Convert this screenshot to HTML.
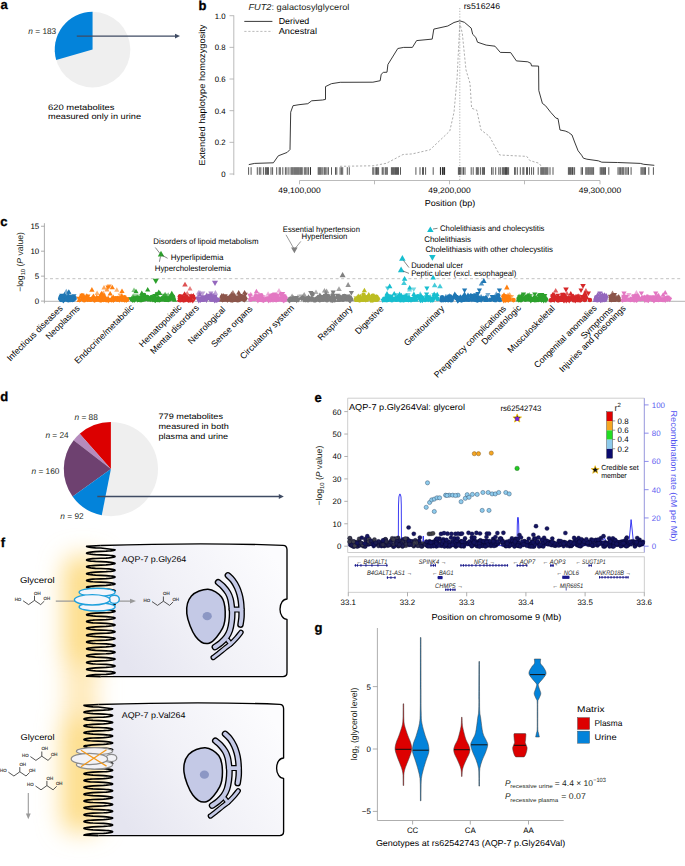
<!DOCTYPE html>
<html><head><meta charset="utf-8"><style>
html,body{margin:0;padding:0;background:#fff;overflow:hidden;width:685px;height:866px;}
svg{display:block;font-family:"Liberation Sans", sans-serif;text-rendering:geometricPrecision;}
</style></head><body>
<svg width="685" height="866" viewBox="0 0 685 866">
<defs>
<filter id="glow" x="-100%" y="-30%" width="300%" height="160%"><feGaussianBlur stdDeviation="12"/></filter>
<linearGradient id="cellg" x1="0" y1="0.75" x2="1" y2="0.25"><stop offset="0" stop-color="#e5e5f0"/><stop offset="0.45" stop-color="#f1f1f7"/><stop offset="1" stop-color="#fcfcfe"/></linearGradient>
</defs>
<rect width="685" height="866" fill="#fff"/>
<text x="0.4" y="9.3" font-size="13" font-weight="bold" fill="#000" stroke="#000" stroke-width="0.3">a</text>
<circle cx="92.55" cy="49.6" r="37.8" fill="#efefef"/>
<path d="M92.55,49.60 L92.55,11.80 A37.8,37.8 0 0 0 56.18,59.89 Z" fill="#0383da"/>
<text x="28.3" y="33.6" font-size="8.3" fill="#231f20"><tspan font-style="italic">n</tspan> = 183</text>
<line x1="76.80" y1="36.10" x2="175.50" y2="36.10" stroke="#3f4b63" stroke-width="1.3"/>
<path d="M175.0,33.7 L180.0,36.1 L175.0,38.5 Z" fill="#3f4b63"/>
<text x="48.0" y="109.6" font-size="7.9" textLength="66.5" lengthAdjust="spacingAndGlyphs">620 metabolites</text>
<text x="48.0" y="119.1" font-size="7.9" textLength="93.0" lengthAdjust="spacingAndGlyphs">measured only in urine</text>
<text x="198.4" y="9.7" font-size="13" font-weight="bold" fill="#000" stroke="#000" stroke-width="0.3">b</text>
<text x="248.4" y="9.6" font-size="8.6" fill="#231f20" textLength="101" lengthAdjust="spacingAndGlyphs"><tspan font-style="italic">FUT2</tspan>: galactosylglycerol</text>
<line x1="244.30" y1="21.40" x2="272.40" y2="21.40" stroke="#222" stroke-width="0.9"/>
<text x="278.7" y="23.9" font-size="8.6" textLength="30.6" lengthAdjust="spacingAndGlyphs">Derived</text>
<line x1="244.30" y1="31.40" x2="272.40" y2="31.40" stroke="#aaa" stroke-width="0.8" stroke-dasharray="2.2,1.8"/>
<text x="278.7" y="34.0" font-size="8.6" textLength="38.3" lengthAdjust="spacingAndGlyphs">Ancestral</text>
<line x1="233.80" y1="15.40" x2="233.80" y2="175.10" stroke="#aaa" stroke-width="0.8"/>
<line x1="229.50" y1="15.70" x2="233.80" y2="15.70" stroke="#aaa" stroke-width="0.8"/>
<text x="225.6" y="18.6" font-size="7.8" text-anchor="end">1.0</text>
<line x1="229.50" y1="47.36" x2="233.80" y2="47.36" stroke="#aaa" stroke-width="0.8"/>
<text x="225.6" y="50.3" font-size="7.8" text-anchor="end">0.8</text>
<line x1="229.50" y1="79.02" x2="233.80" y2="79.02" stroke="#aaa" stroke-width="0.8"/>
<text x="225.6" y="81.9" font-size="7.8" text-anchor="end">0.6</text>
<line x1="229.50" y1="110.68" x2="233.80" y2="110.68" stroke="#aaa" stroke-width="0.8"/>
<text x="225.6" y="113.6" font-size="7.8" text-anchor="end">0.4</text>
<line x1="229.50" y1="142.34" x2="233.80" y2="142.34" stroke="#aaa" stroke-width="0.8"/>
<text x="225.6" y="145.2" font-size="7.8" text-anchor="end">0.2</text>
<line x1="229.50" y1="174.00" x2="233.80" y2="174.00" stroke="#aaa" stroke-width="0.8"/>
<text x="225.6" y="176.9" font-size="7.8" text-anchor="end">0</text>
<text x="0" y="0" font-size="8.6" text-anchor="middle" textLength="141.0" lengthAdjust="spacingAndGlyphs" transform="translate(205.1,95.0) rotate(-90)">Extended haplotype homozygosity</text>
<line x1="299.50" y1="180.50" x2="600.00" y2="180.50" stroke="#aaa" stroke-width="0.8"/>
<line x1="299.50" y1="180.50" x2="299.50" y2="184.30" stroke="#aaa" stroke-width="0.8"/>
<line x1="374.50" y1="180.50" x2="374.50" y2="184.30" stroke="#aaa" stroke-width="0.8"/>
<line x1="449.50" y1="180.50" x2="449.50" y2="184.30" stroke="#aaa" stroke-width="0.8"/>
<line x1="524.50" y1="180.50" x2="524.50" y2="184.30" stroke="#aaa" stroke-width="0.8"/>
<line x1="600.00" y1="180.50" x2="600.00" y2="184.30" stroke="#aaa" stroke-width="0.8"/>
<text x="299.5" y="193.2" font-size="7.9" text-anchor="middle" textLength="42.4" lengthAdjust="spacingAndGlyphs">49,100,000</text>
<text x="449.5" y="193.2" font-size="7.9" text-anchor="middle" textLength="42.4" lengthAdjust="spacingAndGlyphs">49,200,000</text>
<text x="600.0" y="193.2" font-size="7.9" text-anchor="middle" textLength="42.4" lengthAdjust="spacingAndGlyphs">49,300,000</text>
<text x="424.8" y="206.3" font-size="8.6" textLength="50.5" lengthAdjust="spacingAndGlyphs">Position (bp)</text>
<line x1="459.80" y1="8.00" x2="459.80" y2="180.00" stroke="#aaa" stroke-width="0.9" stroke-dasharray="1.2,1.6"/>
<text x="463.7" y="8.6" font-size="8.4" textLength="36.4" lengthAdjust="spacingAndGlyphs">rs516246</text>
<path d="M248.8,164.6 L254.7,163.4 L273.4,162.8 L278.3,155.8 L287.2,152.4 L290.0,149.5 L290.7,112.2 L293.0,105.7 L299.0,104.7 L307.8,103.7 L311.7,100.8 L322.5,100.0 L325.5,99.4 L325.5,86.6 L331.4,83.7 L340.2,82.3 L372.9,82.2 L380.2,80.7 L381.2,74.3 L383.3,72.4 L387.0,72.2 L387.9,64.5 L397.8,48.5 L403.7,47.4 L412.4,47.4 L416.6,40.6 L432.2,39.1 L433.8,29.1 L447.8,26.0 L454.0,22.5 L459.8,20.8 L464.4,22.3 L471.2,28.1 L472.7,34.3 L475.8,37.4 L477.5,42.2 L486.2,45.1 L495.0,46.2 L500.3,52.4 L510.7,52.6 L516.4,60.9 L527.8,61.8 L530.9,63.4 L531.5,65.9 L538.6,66.1 L538.8,90.5 L542.4,103.4 L545.5,105.7 L550.7,112.3 L555.9,118.1 L558.0,118.6 L560.0,130.0 L565.2,131.0 L568.5,132.4 L572.0,135.0 L574.6,142.0 L578.1,150.8 L581.6,155.2 L583.4,158.2 L586.9,159.2 L598.3,160.8 L601.8,162.2 L617.6,162.5 L640.3,163.4 L643.8,164.3 L654.3,165.3" fill="none" stroke="#222" stroke-width="0.9" stroke-linejoin="round"/>
<path d="M340.0,166.3 L372.9,165.8 L386.4,163.3 L403.0,154.5 L412.4,153.9 L430.0,149.8 L449.8,131.0 L454.0,112.3 L457.1,78.0 L459.8,22.9 L462.3,33.3 L466.0,70.0 L470.0,83.2 L471.6,108.2 L476.8,110.2 L481.0,130.0 L489.3,136.2 L499.7,155.0 L526.8,156.4 L529.9,160.6 L539.2,163.3 L541.0,166.0" fill="none" stroke="#999" stroke-width="0.8" stroke-linejoin="round" stroke-dasharray="2.2,1.8"/>
<path d="M248.6,167.2V174.8M251.1,167.2V174.8M257.3,167.2V174.8M259.3,167.2V174.8M260.8,167.2V174.8M263.4,167.2V174.8M265.4,167.2V174.8M266.4,167.2V174.8M267.5,167.2V174.8M268.5,167.2V174.8M271.0,167.2V174.8M272.6,167.2V174.8M276.7,167.2V174.8M279.2,167.2V174.8M280.3,167.2V174.8M282.8,167.2V174.8M285.4,167.2V174.8M286.9,167.2V174.8M288.9,167.2V174.8M291.0,167.2V174.8M292.0,167.2V174.8M293.0,167.2V174.8M294.1,167.2V174.8M295.1,167.2V174.8M296.1,167.2V174.8M297.1,167.2V174.8M298.1,167.2V174.8M299.1,167.2V174.8M300.2,167.2V174.8M301.2,167.2V174.8M302.2,167.2V174.8M304.3,167.2V174.8M305.7,167.2V174.8M307.0,167.2V174.8M308.4,167.2V174.8M310.4,167.2V174.8M310.5,167.2V174.8M318.2,167.2V174.8M319.2,167.2V174.8M320.2,167.2V174.8M321.2,167.2V174.8M322.8,167.2V174.8M324.3,167.2V174.8M325.3,167.2V174.8M326.9,167.2V174.8M328.4,167.2V174.8M331.5,167.2V174.8M335.5,167.2V174.8M336.8,167.2V174.8M340.1,167.2V174.8M341.4,167.2V174.8M342.7,167.2V174.8M347.3,167.2V174.8M349.3,167.2V174.8M372.8,167.2V174.8M373.9,167.2V174.8M375.9,167.2V174.8M377.4,167.2V174.8M376.3,167.2V174.8M378.6,167.2V174.8M382.2,167.2V174.8M383.2,167.2V174.8M385.2,167.2V174.8M386.2,167.2V174.8M387.3,167.2V174.8M391.4,167.2V174.8M392.4,167.2V174.8M393.4,167.2V174.8M394.4,167.2V174.8M395.5,167.2V174.8M396.5,167.2V174.8M397.5,167.2V174.8M398.5,167.2V174.8M400.5,167.2V174.8M415.9,167.2V174.8M420.0,167.2V174.8M422.5,167.2V174.8M423.5,167.2V174.8M425.6,167.2V174.8M433.2,167.2V174.8M440.4,167.2V174.8M442.4,167.2V174.8M443.4,167.2V174.8M444.5,167.2V174.8M440.5,167.2V174.8M442.6,167.2V174.8M444.6,167.2V174.8M458.4,167.2V174.8M459.4,167.2V174.8M460.4,167.2V174.8M462.0,167.2V174.8M463.5,167.2V174.8M465.0,167.2V174.8M471.2,167.2V174.8M473.2,167.2V174.8M476.3,167.2V174.8M477.3,167.2V174.8M478.3,167.2V174.8M480.4,167.2V174.8M482.4,167.2V174.8M483.4,167.2V174.8M484.5,167.2V174.8M491.6,167.2V174.8M493.1,167.2V174.8M495.7,167.2V174.8M498.8,167.2V174.8M500.3,167.2V174.8M502.3,167.2V174.8M503.3,167.2V174.8M504.3,167.2V174.8M505.4,167.2V174.8M506.4,167.2V174.8M507.4,167.2V174.8M506.0,167.2V174.8M508.6,167.2V174.8M514.7,167.2V174.8M515.2,167.2V174.8M517.3,167.2V174.8M520.3,167.2V174.8M522.9,167.2V174.8M523.9,167.2V174.8M526.5,167.2V174.8M527.5,167.2V174.8M529.5,167.2V174.8M531.6,167.2V174.8M533.6,167.2V174.8M538.2,167.2V174.8M540.8,167.2V174.8M541.8,167.2V174.8M542.8,167.2V174.8M543.8,167.2V174.8M544.9,167.2V174.8M545.9,167.2V174.8M546.9,167.2V174.8M547.9,167.2V174.8M550.0,167.2V174.8M553.0,167.2V174.8M568.4,167.2V174.8M569.4,167.2V174.8M570.4,167.2V174.8M573.0,167.2V174.8M571.3,167.2V174.8M572.6,167.2V174.8M574.6,167.2V174.8M581.2,167.2V174.8M582.5,167.2V174.8M585.8,167.2V174.8M586.9,167.2V174.8M588.0,167.2V174.8M589.0,167.2V174.8M590.1,167.2V174.8M591.2,167.2V174.8M592.3,167.2V174.8M593.6,167.2V174.8M600.2,167.2V174.8M601.3,167.2V174.8M602.3,167.2V174.8M603.4,167.2V174.8M604.4,167.2V174.8M605.5,167.2V174.8M608.8,167.2V174.8M618.0,167.2V174.8M619.3,167.2V174.8M620.6,167.2V174.8M621.9,167.2V174.8M622.9,167.2V174.8M623.9,167.2V174.8M625.8,167.2V174.8M627.1,167.2V174.8M628.5,167.2V174.8M631.1,167.2V174.8M641.0,167.2V174.8M642.1,167.2V174.8M643.2,167.2V174.8M644.4,167.2V174.8M645.5,167.2V174.8M648.8,167.2V174.8M653.4,167.2V174.8" stroke="#111" stroke-width="0.7" fill="none"/>
<text x="0.2" y="225.7" font-size="13" font-weight="bold" fill="#000" stroke="#000" stroke-width="0.3">c</text>
<line x1="44.40" y1="223.20" x2="44.40" y2="303.30" stroke="#999" stroke-width="0.8"/>
<line x1="41.00" y1="226.25" x2="44.40" y2="226.25" stroke="#999" stroke-width="0.8"/>
<text x="39.2" y="229.2" font-size="7.9" text-anchor="end">15</text>
<line x1="41.00" y1="251.20" x2="44.40" y2="251.20" stroke="#999" stroke-width="0.8"/>
<text x="39.2" y="254.1" font-size="7.9" text-anchor="end">10</text>
<line x1="41.00" y1="276.15" x2="44.40" y2="276.15" stroke="#999" stroke-width="0.8"/>
<text x="39.2" y="279.1" font-size="7.9" text-anchor="end">5</text>
<line x1="41.00" y1="301.10" x2="44.40" y2="301.10" stroke="#999" stroke-width="0.8"/>
<text x="39.2" y="304.0" font-size="7.9" text-anchor="end">0</text>
<text x="0" y="0" font-size="8.6" text-anchor="middle" fill="#231f20" transform="translate(23.3,262) rotate(-90)">−log<tspan font-size="5.8" dy="2">10</tspan><tspan dy="-2"> (</tspan><tspan font-style="italic">P</tspan> value)</text>
<line x1="44.40" y1="301.30" x2="685.00" y2="301.30" stroke="#aaa" stroke-width="0.9"/>
<line x1="44.40" y1="278.70" x2="681.00" y2="278.70" stroke="#bbb" stroke-width="0.9" stroke-dasharray="3,2.6"/>
<path d="M63.7,293.6L68.9,293.6L66.3,298.2Z" fill="#1f77b4" fill-opacity="0.60"/>
<path d="M63.7,293.3L68.9,293.3L66.3,288.8Z" fill="#1f77b4" fill-opacity="0.60"/>
<path d="M66.3,294.4L71.5,294.4L68.9,289.9Z" fill="#1f77b4" fill-opacity="0.75"/>
<path d="M59.2,293.8L64.4,293.8L61.8,298.3Z" fill="#1f77b4"/>
<path d="M65.8,297.6L71.0,297.6L68.4,293.1Z" fill="#1f77b4"/>
<path d="M66.2,293.8L71.4,293.8L68.8,289.3Z" fill="#1f77b4"/>
<path d="M59.9,298.3L65.1,298.3L62.5,293.8Z" fill="#1f77b4" fill-opacity="0.60"/>
<path d="M61.9,296.4L67.1,296.4L64.5,291.9Z" fill="#1f77b4"/>
<circle cx="69.2" cy="297.3" r="2.3" fill="#1f77b4"/>
<path d="M61.0,299.2L66.0,299.2L63.5,303.5Z" fill="#1f77b4"/>
<circle cx="72.3" cy="299.9" r="2.3" fill="#1f77b4"/>
<circle cx="63.7" cy="298.6" r="2.3" fill="#1f77b4"/>
<circle cx="71.2" cy="297.1" r="2.3" fill="#1f77b4"/>
<path d="M71.6,299.7L76.6,299.7L74.1,295.4Z" fill="#1f77b4"/>
<path d="M60.0,300.1L65.0,300.1L62.5,295.8Z" fill="#1f77b4"/>
<path d="M57.8,297.9L62.8,297.9L60.3,302.3Z" fill="#1f77b4"/>
<path d="M60.9,297.6L65.9,297.6L63.4,301.9Z" fill="#1f77b4"/>
<circle cx="61.0" cy="299.4" r="2.3" fill="#1f77b4"/>
<circle cx="60.8" cy="296.9" r="2.3" fill="#1f77b4"/>
<circle cx="67.9" cy="299.0" r="2.3" fill="#1f77b4"/>
<path d="M59.7,302.0L64.7,302.0L62.2,297.6Z" fill="#1f77b4"/>
<circle cx="65.8" cy="299.2" r="2.3" fill="#1f77b4"/>
<circle cx="63.4" cy="296.6" r="2.3" fill="#1f77b4"/>
<circle cx="73.0" cy="299.7" r="2.3" fill="#1f77b4"/>
<circle cx="65.4" cy="298.5" r="2.3" fill="#1f77b4"/>
<circle cx="74.6" cy="298.0" r="2.3" fill="#1f77b4"/>
<circle cx="63.2" cy="300.1" r="2.3" fill="#1f77b4"/>
<circle cx="60.3" cy="298.5" r="2.3" fill="#1f77b4"/>
<circle cx="68.3" cy="300.2" r="2.3" fill="#1f77b4"/>
<path d="M63.8,299.3L68.8,299.3L66.3,294.9Z" fill="#1f77b4"/>
<circle cx="68.2" cy="299.5" r="2.3" fill="#1f77b4"/>
<path d="M70.9,301.1L75.9,301.1L73.4,296.8Z" fill="#1f77b4"/>
<circle cx="62.2" cy="300.0" r="2.3" fill="#1f77b4"/>
<path d="M71.5,294.2L76.5,294.2L74.0,298.6Z" fill="#1f77b4"/>
<path d="M63.3,301.6L68.3,301.6L65.8,297.3Z" fill="#1f77b4"/>
<circle cx="70.2" cy="300.0" r="2.3" fill="#1f77b4"/>
<circle cx="72.0" cy="298.9" r="2.3" fill="#1f77b4"/>
<text x="0" y="0" font-size="8.8" text-anchor="end" transform="translate(63.3,308.8) rotate(-45)">Infectious diseases</text>
<path d="M110.6,298.9L115.8,298.9L113.2,294.4Z" fill="#ff7f0e"/>
<path d="M89.3,291.7L94.5,291.7L91.9,287.1Z" fill="#ff7f0e"/>
<path d="M79.1,297.5L84.3,297.5L81.7,293.0Z" fill="#ff7f0e"/>
<path d="M84.2,297.7L89.4,297.7L86.8,293.2Z" fill="#ff7f0e"/>
<path d="M80.2,298.7L85.4,298.7L82.8,294.1Z" fill="#ff7f0e" fill-opacity="0.75"/>
<path d="M107.6,295.6L112.8,295.6L110.2,291.1Z" fill="#ff7f0e"/>
<path d="M104.3,291.4L109.5,291.4L106.9,286.9Z" fill="#ff7f0e" fill-opacity="0.75"/>
<path d="M109.7,289.3L114.9,289.3L112.3,284.7Z" fill="#ff7f0e"/>
<path d="M99.1,295.2L104.3,295.2L101.7,290.7Z" fill="#ff7f0e"/>
<path d="M79.4,293.7L84.6,293.7L82.0,298.3Z" fill="#ff7f0e"/>
<path d="M114.2,291.7L119.4,291.7L116.8,287.2Z" fill="#ff7f0e" fill-opacity="0.60"/>
<path d="M119.4,293.0L124.6,293.0L122.0,288.5Z" fill="#ff7f0e"/>
<path d="M117.6,293.6L122.8,293.6L120.2,298.1Z" fill="#ff7f0e" fill-opacity="0.60"/>
<path d="M94.1,299.1L99.3,299.1L96.7,294.6Z" fill="#ff7f0e"/>
<path d="M106.7,284.6L111.9,284.6L109.3,289.1Z" fill="#ff7f0e" fill-opacity="0.75"/>
<path d="M94.5,295.1L99.7,295.1L97.1,290.6Z" fill="#ff7f0e" fill-opacity="0.60"/>
<path d="M98.1,296.8L103.3,296.8L100.7,292.3Z" fill="#ff7f0e"/>
<path d="M90.7,298.8L95.9,298.8L93.3,294.3Z" fill="#ff7f0e"/>
<path d="M99.8,293.2L105.0,293.2L102.4,297.8Z" fill="#ff7f0e" fill-opacity="0.75"/>
<path d="M119.2,297.7L124.4,297.7L121.8,293.2Z" fill="#ff7f0e"/>
<path d="M100.8,294.9L106.0,294.9L103.4,290.4Z" fill="#ff7f0e" fill-opacity="0.60"/>
<path d="M99.9,298.3L105.1,298.3L102.5,293.8Z" fill="#ff7f0e" fill-opacity="0.75"/>
<path d="M85.3,294.4L90.5,294.4L87.9,298.9Z" fill="#ff7f0e"/>
<circle cx="121.4" cy="299.4" r="2.3" fill="#ff7f0e"/>
<circle cx="106.7" cy="299.9" r="2.3" fill="#ff7f0e"/>
<path d="M116.7,298.2L121.7,298.2L119.2,302.5Z" fill="#ff7f0e"/>
<circle cx="124.8" cy="300.1" r="2.3" fill="#ff7f0e"/>
<circle cx="91.4" cy="299.1" r="2.3" fill="#ff7f0e"/>
<circle cx="98.3" cy="298.6" r="2.3" fill="#ff7f0e"/>
<path d="M116.8,300.4L121.8,300.4L119.3,296.0Z" fill="#ff7f0e"/>
<circle cx="81.5" cy="296.2" r="2.3" fill="#ff7f0e"/>
<path d="M110.4,301.3L115.4,301.3L112.9,296.9Z" fill="#ff7f0e"/>
<circle cx="117.0" cy="299.2" r="2.3" fill="#ff7f0e"/>
<path d="M76.5,302.0L81.5,302.0L79.0,297.6Z" fill="#ff7f0e"/>
<circle cx="84.8" cy="297.5" r="2.3" fill="#ff7f0e"/>
<path d="M106.5,298.3L111.5,298.3L109.0,302.7Z" fill="#ff7f0e"/>
<circle cx="125.2" cy="299.8" r="2.3" fill="#ff7f0e"/>
<circle cx="86.6" cy="299.1" r="2.3" fill="#ff7f0e"/>
<circle cx="101.2" cy="300.1" r="2.3" fill="#ff7f0e"/>
<path d="M92.4,297.9L97.4,297.9L94.9,302.3Z" fill="#ff7f0e"/>
<path d="M105.7,299.1L110.7,299.1L108.2,303.5Z" fill="#ff7f0e"/>
<path d="M79.6,297.1L84.6,297.1L82.1,301.5Z" fill="#ff7f0e"/>
<path d="M81.7,299.3L86.7,299.3L84.2,294.9Z" fill="#ff7f0e"/>
<path d="M103.5,298.4L108.5,298.4L106.0,302.7Z" fill="#ff7f0e"/>
<circle cx="124.5" cy="297.4" r="2.3" fill="#ff7f0e"/>
<path d="M111.0,298.5L116.0,298.5L113.5,302.9Z" fill="#ff7f0e"/>
<path d="M110.8,298.2L115.8,298.2L113.3,302.5Z" fill="#ff7f0e"/>
<path d="M101.9,297.7L106.9,297.7L104.4,293.4Z" fill="#ff7f0e"/>
<circle cx="122.8" cy="299.2" r="2.3" fill="#ff7f0e"/>
<path d="M97.1,297.7L102.1,297.7L99.6,302.0Z" fill="#ff7f0e"/>
<circle cx="101.9" cy="296.6" r="2.3" fill="#ff7f0e"/>
<circle cx="117.4" cy="299.7" r="2.3" fill="#ff7f0e"/>
<circle cx="94.4" cy="300.1" r="2.3" fill="#ff7f0e"/>
<path d="M100.9,298.1L105.9,298.1L103.4,302.4Z" fill="#ff7f0e"/>
<path d="M109.4,299.8L114.4,299.8L111.9,295.5Z" fill="#ff7f0e"/>
<path d="M86.3,301.3L91.3,301.3L88.8,296.9Z" fill="#ff7f0e"/>
<path d="M111.4,297.6L116.4,297.6L113.9,301.9Z" fill="#ff7f0e"/>
<circle cx="93.2" cy="298.4" r="2.3" fill="#ff7f0e"/>
<path d="M117.1,298.0L122.1,298.0L119.6,302.4Z" fill="#ff7f0e"/>
<path d="M101.2,301.3L106.2,301.3L103.7,296.9Z" fill="#ff7f0e"/>
<circle cx="104.3" cy="297.5" r="2.3" fill="#ff7f0e"/>
<path d="M123.3,302.0L128.3,302.0L125.8,297.7Z" fill="#ff7f0e"/>
<path d="M115.0,299.9L120.0,299.9L117.5,295.5Z" fill="#ff7f0e"/>
<circle cx="104.5" cy="299.4" r="2.3" fill="#ff7f0e"/>
<circle cx="125.2" cy="298.9" r="2.3" fill="#ff7f0e"/>
<circle cx="84.1" cy="299.6" r="2.3" fill="#ff7f0e"/>
<circle cx="118.2" cy="298.4" r="2.3" fill="#ff7f0e"/>
<path d="M84.8,297.8L89.8,297.8L87.3,302.2Z" fill="#ff7f0e"/>
<circle cx="84.2" cy="300.3" r="2.3" fill="#ff7f0e"/>
<path d="M86.5,301.7L91.5,301.7L89.0,297.3Z" fill="#ff7f0e"/>
<path d="M92.9,301.4L97.9,301.4L95.4,297.0Z" fill="#ff7f0e"/>
<circle cx="103.1" cy="299.7" r="2.3" fill="#ff7f0e"/>
<circle cx="87.6" cy="298.1" r="2.3" fill="#ff7f0e"/>
<path d="M95.8,301.7L100.8,301.7L98.3,297.3Z" fill="#ff7f0e"/>
<path d="M85.4,297.2L90.4,297.2L87.9,301.5Z" fill="#ff7f0e"/>
<path d="M105.6,299.9L110.6,299.9L108.1,295.6Z" fill="#ff7f0e"/>
<circle cx="114.5" cy="298.7" r="2.3" fill="#ff7f0e"/>
<path d="M90.9,297.9L95.9,297.9L93.4,293.6Z" fill="#ff7f0e"/>
<circle cx="127.2" cy="299.5" r="2.3" fill="#ff7f0e"/>
<circle cx="113.8" cy="299.6" r="2.3" fill="#ff7f0e"/>
<path d="M80.1,301.0L85.1,301.0L82.6,296.7Z" fill="#ff7f0e"/>
<path d="M95.2,300.2L100.2,300.2L97.7,295.8Z" fill="#ff7f0e"/>
<path d="M85.2,300.2L90.2,300.2L87.7,295.8Z" fill="#ff7f0e"/>
<path d="M100.3,295.0L105.3,295.0L102.8,299.3Z" fill="#ff7f0e"/>
<circle cx="111.7" cy="300.1" r="2.3" fill="#ff7f0e"/>
<path d="M77.2,298.5L82.2,298.5L79.7,302.8Z" fill="#ff7f0e"/>
<circle cx="106.0" cy="299.5" r="2.3" fill="#ff7f0e"/>
<path d="M116.9,298.1L121.9,298.1L119.4,302.5Z" fill="#ff7f0e"/>
<circle cx="82.5" cy="295.6" r="2.3" fill="#ff7f0e"/>
<circle cx="115.7" cy="298.4" r="2.3" fill="#ff7f0e"/>
<path d="M98.4,299.9L103.4,299.9L100.9,295.5Z" fill="#ff7f0e"/>
<path d="M110.0,301.9L115.0,301.9L112.5,297.5Z" fill="#ff7f0e"/>
<circle cx="100.3" cy="300.2" r="2.3" fill="#ff7f0e"/>
<path d="M83.5,300.0L88.5,300.0L86.0,295.6Z" fill="#ff7f0e"/>
<path d="M119.5,298.2L124.5,298.2L122.0,302.5Z" fill="#ff7f0e"/>
<path d="M95.3,296.1L100.3,296.1L97.8,300.4Z" fill="#ff7f0e"/>
<path d="M123.9,298.7L128.9,298.7L126.4,303.0Z" fill="#ff7f0e"/>
<path d="M113.8,300.6L118.8,300.6L116.3,296.2Z" fill="#ff7f0e"/>
<path d="M119.7,296.8L124.7,296.8L122.2,301.2Z" fill="#ff7f0e"/>
<path d="M95.4,299.9L100.4,299.9L97.9,295.5Z" fill="#ff7f0e"/>
<circle cx="94.7" cy="300.1" r="2.3" fill="#ff7f0e"/>
<path d="M106.9,302.0L111.9,302.0L109.4,297.7Z" fill="#ff7f0e"/>
<path d="M122.1,298.2L127.1,298.2L124.6,302.6Z" fill="#ff7f0e"/>
<circle cx="104.2" cy="298.7" r="2.3" fill="#ff7f0e"/>
<path d="M124.8,297.2L129.8,297.2L127.3,301.5Z" fill="#ff7f0e"/>
<path d="M76.4,296.7L81.4,296.7L78.9,301.0Z" fill="#ff7f0e"/>
<circle cx="90.5" cy="299.8" r="2.3" fill="#ff7f0e"/>
<text x="0" y="0" font-size="8.8" text-anchor="end" transform="translate(80.4,308.8) rotate(-45)">Neoplasms</text>
<path d="M144.6,298.8L149.8,298.8L147.2,294.3Z" fill="#2ca02c" fill-opacity="0.75"/>
<path d="M152.2,294.0L157.4,294.0L154.8,298.5Z" fill="#2ca02c"/>
<path d="M156.1,294.2L161.3,294.2L158.7,289.6Z" fill="#2ca02c"/>
<path d="M145.1,291.6L150.3,291.6L147.7,287.1Z" fill="#2ca02c"/>
<path d="M165.6,296.8L170.8,296.8L168.2,292.3Z" fill="#2ca02c" fill-opacity="0.60"/>
<path d="M169.5,297.5L174.7,297.5L172.1,293.0Z" fill="#2ca02c" fill-opacity="0.75"/>
<path d="M144.2,295.1L149.4,295.1L146.8,299.6Z" fill="#2ca02c" fill-opacity="0.75"/>
<path d="M157.2,295.0L162.4,295.0L159.8,290.5Z" fill="#2ca02c"/>
<path d="M153.8,296.1L159.0,296.1L156.4,291.6Z" fill="#2ca02c" fill-opacity="0.60"/>
<path d="M130.5,298.0L135.7,298.0L133.1,293.5Z" fill="#2ca02c" fill-opacity="0.75"/>
<path d="M131.4,292.1L136.6,292.1L134.0,287.5Z" fill="#2ca02c" fill-opacity="0.60"/>
<path d="M139.2,294.9L144.4,294.9L141.8,290.4Z" fill="#2ca02c"/>
<path d="M169.2,295.3L174.4,295.3L171.8,290.8Z" fill="#2ca02c"/>
<path d="M154.6,295.7L159.8,295.7L157.2,300.3Z" fill="#2ca02c" fill-opacity="0.60"/>
<path d="M133.4,293.2L138.6,293.2L136.0,288.7Z" fill="#2ca02c"/>
<path d="M133.6,294.3L138.8,294.3L136.2,298.9Z" fill="#2ca02c" fill-opacity="0.60"/>
<path d="M154.5,293.0L159.7,293.0L157.1,297.6Z" fill="#2ca02c" fill-opacity="0.75"/>
<path d="M162.2,293.8L167.4,293.8L164.8,298.4Z" fill="#2ca02c" fill-opacity="0.75"/>
<path d="M160.3,298.3L165.5,298.3L162.9,293.8Z" fill="#2ca02c" fill-opacity="0.75"/>
<path d="M162.5,296.2L167.7,296.2L165.1,291.7Z" fill="#2ca02c" fill-opacity="0.75"/>
<path d="M154.8,292.2L160.0,292.2L157.4,296.8Z" fill="#2ca02c"/>
<path d="M156.1,301.7L161.1,301.7L158.6,297.4Z" fill="#2ca02c"/>
<path d="M138.9,297.5L143.9,297.5L141.4,293.1Z" fill="#2ca02c"/>
<circle cx="133.0" cy="299.8" r="2.3" fill="#2ca02c"/>
<path d="M146.8,301.4L151.8,301.4L149.3,297.1Z" fill="#2ca02c"/>
<path d="M131.7,298.5L136.7,298.5L134.2,302.9Z" fill="#2ca02c"/>
<circle cx="158.5" cy="298.7" r="2.3" fill="#2ca02c"/>
<path d="M143.2,297.5L148.2,297.5L145.7,301.8Z" fill="#2ca02c"/>
<path d="M131.1,296.4L136.1,296.4L133.6,300.8Z" fill="#2ca02c"/>
<circle cx="139.8" cy="297.7" r="2.3" fill="#2ca02c"/>
<path d="M139.3,298.5L144.3,298.5L141.8,302.8Z" fill="#2ca02c"/>
<path d="M142.3,297.3L147.3,297.3L144.8,301.7Z" fill="#2ca02c"/>
<circle cx="171.5" cy="298.5" r="2.3" fill="#2ca02c"/>
<circle cx="169.4" cy="299.5" r="2.3" fill="#2ca02c"/>
<path d="M131.5,299.9L136.5,299.9L134.0,295.5Z" fill="#2ca02c"/>
<circle cx="165.0" cy="299.4" r="2.3" fill="#2ca02c"/>
<circle cx="139.8" cy="299.9" r="2.3" fill="#2ca02c"/>
<path d="M160.2,301.4L165.2,301.4L162.7,297.0Z" fill="#2ca02c"/>
<circle cx="136.7" cy="298.2" r="2.3" fill="#2ca02c"/>
<path d="M133.0,296.6L138.0,296.6L135.5,300.9Z" fill="#2ca02c"/>
<circle cx="171.4" cy="296.0" r="2.3" fill="#2ca02c"/>
<circle cx="166.2" cy="298.6" r="2.3" fill="#2ca02c"/>
<path d="M142.0,298.1L147.0,298.1L144.5,293.8Z" fill="#2ca02c"/>
<circle cx="146.5" cy="297.5" r="2.3" fill="#2ca02c"/>
<circle cx="146.5" cy="298.7" r="2.3" fill="#2ca02c"/>
<path d="M153.0,297.9L158.0,297.9L155.5,302.3Z" fill="#2ca02c"/>
<path d="M165.2,298.0L170.2,298.0L167.7,302.3Z" fill="#2ca02c"/>
<circle cx="142.9" cy="299.8" r="2.3" fill="#2ca02c"/>
<path d="M150.8,296.6L155.8,296.6L153.3,300.9Z" fill="#2ca02c"/>
<circle cx="166.3" cy="299.6" r="2.3" fill="#2ca02c"/>
<circle cx="154.7" cy="300.1" r="2.3" fill="#2ca02c"/>
<path d="M160.7,301.2L165.7,301.2L163.2,296.9Z" fill="#2ca02c"/>
<path d="M156.1,300.0L161.1,300.0L158.6,295.6Z" fill="#2ca02c"/>
<path d="M137.7,296.5L142.7,296.5L140.2,300.8Z" fill="#2ca02c"/>
<path d="M162.0,297.7L167.0,297.7L164.5,302.1Z" fill="#2ca02c"/>
<path d="M149.9,298.0L154.9,298.0L152.4,302.4Z" fill="#2ca02c"/>
<path d="M159.5,297.3L164.5,297.3L162.0,301.7Z" fill="#2ca02c"/>
<path d="M166.0,298.1L171.0,298.1L168.5,302.5Z" fill="#2ca02c"/>
<path d="M167.5,296.3L172.5,296.3L170.0,300.7Z" fill="#2ca02c"/>
<circle cx="166.2" cy="299.6" r="2.3" fill="#2ca02c"/>
<path d="M146.6,300.0L151.6,300.0L149.1,295.7Z" fill="#2ca02c"/>
<circle cx="137.8" cy="297.6" r="2.3" fill="#2ca02c"/>
<circle cx="149.3" cy="298.9" r="2.3" fill="#2ca02c"/>
<circle cx="144.1" cy="295.0" r="2.3" fill="#2ca02c"/>
<circle cx="159.3" cy="300.1" r="2.3" fill="#2ca02c"/>
<path d="M148.3,297.9L153.3,297.9L150.8,302.3Z" fill="#2ca02c"/>
<circle cx="131.9" cy="299.3" r="2.3" fill="#2ca02c"/>
<path d="M138.3,298.4L143.3,298.4L140.8,302.7Z" fill="#2ca02c"/>
<circle cx="140.3" cy="299.7" r="2.3" fill="#2ca02c"/>
<circle cx="164.2" cy="298.8" r="2.3" fill="#2ca02c"/>
<circle cx="154.8" cy="299.4" r="2.3" fill="#2ca02c"/>
<path d="M167.5,299.9L172.5,299.9L170.0,295.6Z" fill="#2ca02c"/>
<circle cx="154.8" cy="298.0" r="2.3" fill="#2ca02c"/>
<path d="M130.0,298.6L135.0,298.6L132.5,302.9Z" fill="#2ca02c"/>
<circle cx="147.5" cy="297.9" r="2.3" fill="#2ca02c"/>
<path d="M172.1,301.7L177.1,301.7L174.6,297.3Z" fill="#2ca02c"/>
<path d="M128.3,297.2L133.3,297.2L130.8,301.6Z" fill="#2ca02c"/>
<circle cx="157.4" cy="300.0" r="2.3" fill="#2ca02c"/>
<path d="M134.8,298.5L139.8,298.5L137.3,302.8Z" fill="#2ca02c"/>
<path d="M156.3,300.6L161.3,300.6L158.8,296.3Z" fill="#2ca02c"/>
<circle cx="154.2" cy="298.3" r="2.3" fill="#2ca02c"/>
<path d="M164.5,296.3L169.5,296.3L167.0,300.6Z" fill="#2ca02c"/>
<circle cx="134.0" cy="299.9" r="2.3" fill="#2ca02c"/>
<circle cx="151.8" cy="297.0" r="2.3" fill="#2ca02c"/>
<circle cx="173.0" cy="296.8" r="2.3" fill="#2ca02c"/>
<circle cx="165.6" cy="298.2" r="2.3" fill="#2ca02c"/>
<circle cx="171.3" cy="297.1" r="2.3" fill="#2ca02c"/>
<path d="M152.1,300.0L157.1,300.0L154.6,295.6Z" fill="#2ca02c"/>
<circle cx="167.5" cy="299.7" r="2.3" fill="#2ca02c"/>
<circle cx="144.0" cy="298.7" r="2.3" fill="#2ca02c"/>
<circle cx="162.3" cy="298.3" r="2.3" fill="#2ca02c"/>
<circle cx="147.9" cy="297.9" r="2.3" fill="#2ca02c"/>
<circle cx="173.5" cy="298.9" r="2.3" fill="#2ca02c"/>
<path d="M144.7,299.4L149.7,299.4L147.2,295.1Z" fill="#2ca02c"/>
<path d="M153.0,298.9L158.0,298.9L155.5,303.3Z" fill="#2ca02c"/>
<path d="M137.0,302.0L142.0,302.0L139.5,297.7Z" fill="#2ca02c"/>
<circle cx="147.1" cy="298.6" r="2.3" fill="#2ca02c"/>
<text x="0" y="0" font-size="8.8" text-anchor="end" transform="translate(134.3,308.0) rotate(-45)">Endocrine/metabolic</text>
<path d="M182.0,295.8L187.2,295.8L184.6,291.3Z" fill="#d62728"/>
<path d="M181.7,298.8L186.9,298.8L184.3,294.2Z" fill="#d62728" fill-opacity="0.75"/>
<path d="M184.6,295.3L189.8,295.3L187.2,290.7Z" fill="#d62728" fill-opacity="0.60"/>
<path d="M177.3,298.7L182.5,298.7L179.9,294.1Z" fill="#d62728"/>
<path d="M178.7,294.6L183.9,294.6L181.3,299.1Z" fill="#d62728"/>
<path d="M177.5,296.0L182.7,296.0L180.1,300.5Z" fill="#d62728" fill-opacity="0.60"/>
<path d="M182.2,295.9L187.4,295.9L184.8,300.4Z" fill="#d62728" fill-opacity="0.60"/>
<path d="M190.3,298.7L195.5,298.7L192.9,294.1Z" fill="#d62728"/>
<path d="M188.6,297.7L193.8,297.7L191.2,293.1Z" fill="#d62728" fill-opacity="0.60"/>
<path d="M185.8,298.8L190.8,298.8L188.3,303.1Z" fill="#d62728"/>
<path d="M180.7,298.8L185.7,298.8L183.2,303.2Z" fill="#d62728"/>
<circle cx="182.3" cy="298.8" r="2.3" fill="#d62728"/>
<circle cx="183.1" cy="297.9" r="2.3" fill="#d62728"/>
<circle cx="183.5" cy="299.4" r="2.3" fill="#d62728"/>
<path d="M177.2,301.7L182.2,301.7L179.7,297.4Z" fill="#d62728"/>
<path d="M179.4,297.6L184.4,297.6L181.9,302.0Z" fill="#d62728"/>
<path d="M185.0,297.6L190.0,297.6L187.5,302.0Z" fill="#d62728"/>
<path d="M190.9,297.5L195.9,297.5L193.4,293.1Z" fill="#d62728"/>
<circle cx="188.9" cy="300.2" r="2.3" fill="#d62728"/>
<circle cx="184.9" cy="299.2" r="2.3" fill="#d62728"/>
<path d="M177.0,301.0L182.0,301.0L179.5,296.6Z" fill="#d62728"/>
<circle cx="190.0" cy="299.2" r="2.3" fill="#d62728"/>
<path d="M184.9,301.4L189.9,301.4L187.4,297.0Z" fill="#d62728"/>
<path d="M187.8,301.9L192.8,301.9L190.3,297.5Z" fill="#d62728"/>
<path d="M177.9,301.9L182.9,301.9L180.4,297.6Z" fill="#d62728"/>
<circle cx="190.5" cy="300.3" r="2.3" fill="#d62728"/>
<circle cx="180.7" cy="297.2" r="2.3" fill="#d62728"/>
<path d="M182.2,297.0L187.2,297.0L184.7,301.3Z" fill="#d62728"/>
<path d="M192.0,296.9L197.0,296.9L194.5,301.3Z" fill="#d62728"/>
<path d="M185.7,296.5L190.7,296.5L188.2,300.9Z" fill="#d62728"/>
<path d="M178.1,301.6L183.1,301.6L180.6,297.3Z" fill="#d62728"/>
<circle cx="184.7" cy="300.1" r="2.3" fill="#d62728"/>
<circle cx="180.2" cy="300.2" r="2.3" fill="#d62728"/>
<path d="M188.4,294.3L193.4,294.3L190.9,298.7Z" fill="#d62728"/>
<circle cx="184.7" cy="299.4" r="2.3" fill="#d62728"/>
<path d="M190.3,299.2L195.3,299.2L192.8,303.5Z" fill="#d62728"/>
<circle cx="184.7" cy="299.5" r="2.3" fill="#d62728"/>
<path d="M190.4,294.9L195.4,294.9L192.9,299.2Z" fill="#d62728"/>
<circle cx="179.9" cy="296.6" r="2.3" fill="#d62728"/>
<circle cx="186.6" cy="297.1" r="2.3" fill="#d62728"/>
<text x="0" y="0" font-size="8.8" text-anchor="end" transform="translate(182.2,307.9) rotate(-45)">Hematopoietic</text>
<path d="M195.9,294.6L201.1,294.6L198.5,290.1Z" fill="#9467bd" fill-opacity="0.60"/>
<path d="M209.8,293.4L215.0,293.4L212.4,297.9Z" fill="#9467bd" fill-opacity="0.75"/>
<path d="M212.8,294.6L218.0,294.6L215.4,290.1Z" fill="#9467bd" fill-opacity="0.60"/>
<path d="M200.2,291.6L205.4,291.6L202.8,296.1Z" fill="#9467bd" fill-opacity="0.60"/>
<path d="M209.1,296.9L214.3,296.9L211.7,292.4Z" fill="#9467bd" fill-opacity="0.75"/>
<path d="M208.3,291.6L213.5,291.6L210.9,296.1Z" fill="#9467bd" fill-opacity="0.75"/>
<path d="M212.5,294.5L217.7,294.5L215.1,299.0Z" fill="#9467bd"/>
<path d="M208.2,297.5L213.4,297.5L210.8,293.0Z" fill="#9467bd"/>
<path d="M197.3,294.6L202.5,294.6L199.9,290.1Z" fill="#9467bd" fill-opacity="0.60"/>
<path d="M195.4,298.3L200.6,298.3L198.0,293.8Z" fill="#9467bd" fill-opacity="0.75"/>
<path d="M198.6,300.0L203.6,300.0L201.1,295.6Z" fill="#9467bd"/>
<circle cx="211.8" cy="299.5" r="2.3" fill="#9467bd"/>
<circle cx="203.8" cy="298.6" r="2.3" fill="#9467bd"/>
<path d="M198.0,298.7L203.0,298.7L200.5,303.0Z" fill="#9467bd"/>
<path d="M213.2,300.9L218.2,300.9L215.7,296.5Z" fill="#9467bd"/>
<path d="M201.5,295.2L206.5,295.2L204.0,299.6Z" fill="#9467bd"/>
<path d="M195.3,297.1L200.3,297.1L197.8,301.4Z" fill="#9467bd"/>
<path d="M199.9,296.8L204.9,296.8L202.4,301.1Z" fill="#9467bd"/>
<path d="M208.5,300.8L213.5,300.8L211.0,296.4Z" fill="#9467bd"/>
<path d="M203.7,298.5L208.7,298.5L206.2,294.1Z" fill="#9467bd"/>
<circle cx="217.3" cy="300.0" r="2.3" fill="#9467bd"/>
<circle cx="215.3" cy="298.2" r="2.3" fill="#9467bd"/>
<path d="M209.3,301.7L214.3,301.7L211.8,297.4Z" fill="#9467bd"/>
<path d="M200.7,295.9L205.7,295.9L203.2,300.2Z" fill="#9467bd"/>
<path d="M197.4,296.4L202.4,296.4L199.9,292.0Z" fill="#9467bd"/>
<circle cx="202.2" cy="299.8" r="2.3" fill="#9467bd"/>
<path d="M208.8,301.3L213.8,301.3L211.3,296.9Z" fill="#9467bd"/>
<circle cx="216.3" cy="300.2" r="2.3" fill="#9467bd"/>
<path d="M207.1,300.0L212.1,300.0L209.6,295.6Z" fill="#9467bd"/>
<circle cx="218.0" cy="299.8" r="2.3" fill="#9467bd"/>
<path d="M198.7,302.1L203.7,302.1L201.2,297.7Z" fill="#9467bd"/>
<path d="M213.6,298.7L218.6,298.7L216.1,303.0Z" fill="#9467bd"/>
<circle cx="209.6" cy="295.9" r="2.3" fill="#9467bd"/>
<path d="M196.3,299.1L201.3,299.1L198.8,303.5Z" fill="#9467bd"/>
<circle cx="204.1" cy="299.8" r="2.3" fill="#9467bd"/>
<path d="M212.1,299.1L217.1,299.1L214.6,303.5Z" fill="#9467bd"/>
<path d="M210.4,299.3L215.4,299.3L212.9,295.0Z" fill="#9467bd"/>
<path d="M204.0,298.6L209.0,298.6L206.5,303.0Z" fill="#9467bd"/>
<circle cx="202.8" cy="299.6" r="2.3" fill="#9467bd"/>
<path d="M206.3,295.9L211.3,295.9L208.8,300.3Z" fill="#9467bd"/>
<circle cx="202.9" cy="298.7" r="2.3" fill="#9467bd"/>
<path d="M204.3,296.8L209.3,296.8L206.8,292.4Z" fill="#9467bd"/>
<path d="M207.6,296.3L212.6,296.3L210.1,300.6Z" fill="#9467bd"/>
<circle cx="215.2" cy="298.0" r="2.3" fill="#9467bd"/>
<path d="M197.4,297.9L202.4,297.9L199.9,302.2Z" fill="#9467bd"/>
<circle cx="210.4" cy="297.7" r="2.3" fill="#9467bd"/>
<path d="M203.8,297.9L208.8,297.9L206.3,302.3Z" fill="#9467bd"/>
<text x="0" y="0" font-size="8.8" text-anchor="end" transform="translate(199.7,308.5) rotate(-45)">Mental disorders</text>
<path d="M237.6,294.0L242.8,294.0L240.2,298.6Z" fill="#8c564b"/>
<path d="M228.3,298.3L233.5,298.3L230.9,293.7Z" fill="#8c564b" fill-opacity="0.60"/>
<path d="M220.6,297.5L225.8,297.5L223.2,293.0Z" fill="#8c564b"/>
<path d="M236.1,294.6L241.3,294.6L238.7,290.1Z" fill="#8c564b"/>
<path d="M222.6,294.3L227.8,294.3L225.2,298.8Z" fill="#8c564b"/>
<path d="M219.2,297.5L224.4,297.5L221.8,293.0Z" fill="#8c564b"/>
<path d="M228.6,298.1L233.8,298.1L231.2,293.5Z" fill="#8c564b"/>
<path d="M242.6,292.7L247.8,292.7L245.2,297.2Z" fill="#8c564b"/>
<path d="M226.3,295.7L231.5,295.7L228.9,300.2Z" fill="#8c564b" fill-opacity="0.60"/>
<path d="M230.3,294.6L235.5,294.6L232.9,290.1Z" fill="#8c564b" fill-opacity="0.75"/>
<path d="M242.0,294.6L247.2,294.6L244.6,290.1Z" fill="#8c564b"/>
<path d="M228.9,296.0L234.1,296.0L231.5,291.4Z" fill="#8c564b" fill-opacity="0.75"/>
<path d="M233.0,295.5L238.0,295.5L235.5,299.9Z" fill="#8c564b"/>
<path d="M242.0,300.3L247.0,300.3L244.5,295.9Z" fill="#8c564b"/>
<circle cx="230.7" cy="296.6" r="2.3" fill="#8c564b"/>
<path d="M229.2,302.0L234.2,302.0L231.7,297.7Z" fill="#8c564b"/>
<path d="M228.8,295.5L233.8,295.5L231.3,299.8Z" fill="#8c564b"/>
<circle cx="233.1" cy="297.4" r="2.3" fill="#8c564b"/>
<path d="M231.0,301.9L236.0,301.9L233.5,297.6Z" fill="#8c564b"/>
<path d="M219.9,298.4L224.9,298.4L222.4,302.7Z" fill="#8c564b"/>
<path d="M237.4,294.2L242.4,294.2L239.9,298.5Z" fill="#8c564b"/>
<circle cx="237.6" cy="300.2" r="2.3" fill="#8c564b"/>
<path d="M237.0,301.1L242.0,301.1L239.5,296.8Z" fill="#8c564b"/>
<path d="M224.8,298.6L229.8,298.6L227.3,303.0Z" fill="#8c564b"/>
<path d="M230.0,301.2L235.0,301.2L232.5,296.9Z" fill="#8c564b"/>
<circle cx="227.7" cy="298.1" r="2.3" fill="#8c564b"/>
<circle cx="236.5" cy="298.2" r="2.3" fill="#8c564b"/>
<circle cx="225.9" cy="299.3" r="2.3" fill="#8c564b"/>
<circle cx="231.5" cy="300.3" r="2.3" fill="#8c564b"/>
<circle cx="238.7" cy="297.7" r="2.3" fill="#8c564b"/>
<circle cx="232.6" cy="300.1" r="2.3" fill="#8c564b"/>
<circle cx="243.4" cy="299.0" r="2.3" fill="#8c564b"/>
<path d="M222.1,299.9L227.1,299.9L224.6,295.5Z" fill="#8c564b"/>
<circle cx="223.8" cy="298.4" r="2.3" fill="#8c564b"/>
<path d="M240.1,300.0L245.1,300.0L242.6,295.7Z" fill="#8c564b"/>
<path d="M219.0,301.8L224.0,301.8L221.5,297.5Z" fill="#8c564b"/>
<path d="M240.2,298.7L245.2,298.7L242.7,294.3Z" fill="#8c564b"/>
<path d="M221.8,301.8L226.8,301.8L224.3,297.4Z" fill="#8c564b"/>
<circle cx="241.3" cy="298.3" r="2.3" fill="#8c564b"/>
<circle cx="233.6" cy="295.5" r="2.3" fill="#8c564b"/>
<circle cx="238.9" cy="300.0" r="2.3" fill="#8c564b"/>
<circle cx="244.5" cy="299.3" r="2.3" fill="#8c564b"/>
<path d="M236.7,295.8L241.7,295.8L239.2,300.1Z" fill="#8c564b"/>
<circle cx="244.1" cy="299.6" r="2.3" fill="#8c564b"/>
<circle cx="242.7" cy="298.1" r="2.3" fill="#8c564b"/>
<path d="M241.7,298.3L246.7,298.3L244.2,302.7Z" fill="#8c564b"/>
<circle cx="228.1" cy="299.7" r="2.3" fill="#8c564b"/>
<path d="M240.0,301.1L245.0,301.1L242.5,296.7Z" fill="#8c564b"/>
<circle cx="222.1" cy="297.2" r="2.3" fill="#8c564b"/>
<path d="M228.1,298.1L233.1,298.1L230.6,302.4Z" fill="#8c564b"/>
<circle cx="230.9" cy="296.7" r="2.3" fill="#8c564b"/>
<circle cx="243.8" cy="297.1" r="2.3" fill="#8c564b"/>
<circle cx="223.1" cy="299.7" r="2.3" fill="#8c564b"/>
<circle cx="234.9" cy="299.8" r="2.3" fill="#8c564b"/>
<circle cx="232.9" cy="299.9" r="2.3" fill="#8c564b"/>
<path d="M243.1,299.3L248.1,299.3L245.6,294.9Z" fill="#8c564b"/>
<circle cx="233.7" cy="297.8" r="2.3" fill="#8c564b"/>
<text x="0" y="0" font-size="8.8" text-anchor="end" transform="translate(226.0,310.2) rotate(-45)">Neurological</text>
<path d="M248.1,296.3L253.3,296.3L250.7,291.8Z" fill="#e377c2" fill-opacity="0.75"/>
<path d="M271.5,298.3L276.7,298.3L274.1,293.8Z" fill="#e377c2" fill-opacity="0.60"/>
<path d="M247.4,293.7L252.6,293.7L250.0,298.3Z" fill="#e377c2"/>
<path d="M269.5,293.6L274.7,293.6L272.1,298.2Z" fill="#e377c2" fill-opacity="0.75"/>
<path d="M256.7,298.8L261.9,298.8L259.3,294.3Z" fill="#e377c2"/>
<path d="M272.1,292.6L277.3,292.6L274.7,297.1Z" fill="#e377c2"/>
<path d="M253.0,296.2L258.2,296.2L255.6,291.7Z" fill="#e377c2" fill-opacity="0.75"/>
<path d="M260.5,295.1L265.7,295.1L263.1,299.6Z" fill="#e377c2" fill-opacity="0.60"/>
<path d="M255.7,298.3L260.9,298.3L258.3,293.7Z" fill="#e377c2"/>
<path d="M280.0,292.1L285.2,292.1L282.6,296.6Z" fill="#e377c2"/>
<path d="M276.4,292.6L281.6,292.6L279.0,288.1Z" fill="#e377c2" fill-opacity="0.60"/>
<path d="M265.5,295.7L270.7,295.7L268.1,291.2Z" fill="#e377c2" fill-opacity="0.60"/>
<path d="M278.3,299.0L283.5,299.0L280.9,294.4Z" fill="#e377c2" fill-opacity="0.60"/>
<path d="M256.3,296.1L261.5,296.1L258.9,291.6Z" fill="#e377c2" fill-opacity="0.75"/>
<path d="M253.8,293.3L259.0,293.3L256.4,288.8Z" fill="#e377c2"/>
<path d="M267.5,294.5L272.7,294.5L270.1,299.0Z" fill="#e377c2" fill-opacity="0.75"/>
<path d="M275.8,298.7L281.0,298.7L278.4,294.2Z" fill="#e377c2" fill-opacity="0.75"/>
<path d="M255.4,299.1L260.4,299.1L257.9,303.4Z" fill="#e377c2"/>
<circle cx="284.9" cy="300.0" r="2.3" fill="#e377c2"/>
<circle cx="274.6" cy="297.8" r="2.3" fill="#e377c2"/>
<path d="M281.1,300.7L286.1,300.7L283.6,296.3Z" fill="#e377c2"/>
<circle cx="275.5" cy="299.9" r="2.3" fill="#e377c2"/>
<path d="M273.7,301.7L278.7,301.7L276.2,297.3Z" fill="#e377c2"/>
<circle cx="261.5" cy="297.8" r="2.3" fill="#e377c2"/>
<circle cx="263.1" cy="299.9" r="2.3" fill="#e377c2"/>
<circle cx="278.7" cy="299.4" r="2.3" fill="#e377c2"/>
<path d="M269.5,297.7L274.5,297.7L272.0,302.1Z" fill="#e377c2"/>
<path d="M261.2,301.2L266.2,301.2L263.7,296.8Z" fill="#e377c2"/>
<circle cx="255.8" cy="297.9" r="2.3" fill="#e377c2"/>
<circle cx="283.6" cy="300.3" r="2.3" fill="#e377c2"/>
<circle cx="261.2" cy="297.9" r="2.3" fill="#e377c2"/>
<circle cx="270.1" cy="298.5" r="2.3" fill="#e377c2"/>
<circle cx="257.7" cy="298.0" r="2.3" fill="#e377c2"/>
<circle cx="262.8" cy="300.3" r="2.3" fill="#e377c2"/>
<circle cx="282.1" cy="299.7" r="2.3" fill="#e377c2"/>
<path d="M249.8,301.1L254.8,301.1L252.3,296.8Z" fill="#e377c2"/>
<circle cx="281.1" cy="298.2" r="2.3" fill="#e377c2"/>
<circle cx="264.6" cy="299.6" r="2.3" fill="#e377c2"/>
<path d="M267.1,297.2L272.1,297.2L269.6,301.6Z" fill="#e377c2"/>
<path d="M257.0,298.2L262.0,298.2L259.5,293.9Z" fill="#e377c2"/>
<path d="M277.4,300.5L282.4,300.5L279.9,296.2Z" fill="#e377c2"/>
<circle cx="250.4" cy="299.8" r="2.3" fill="#e377c2"/>
<path d="M260.0,301.2L265.0,301.2L262.5,296.8Z" fill="#e377c2"/>
<path d="M265.7,300.7L270.7,300.7L268.2,296.3Z" fill="#e377c2"/>
<path d="M266.2,299.1L271.2,299.1L268.7,303.5Z" fill="#e377c2"/>
<path d="M273.8,296.2L278.8,296.2L276.3,300.5Z" fill="#e377c2"/>
<circle cx="285.5" cy="298.1" r="2.3" fill="#e377c2"/>
<circle cx="284.2" cy="297.7" r="2.3" fill="#e377c2"/>
<circle cx="282.7" cy="298.5" r="2.3" fill="#e377c2"/>
<circle cx="270.5" cy="300.1" r="2.3" fill="#e377c2"/>
<path d="M270.9,300.0L275.9,300.0L273.4,295.7Z" fill="#e377c2"/>
<path d="M270.3,301.1L275.3,301.1L272.8,296.7Z" fill="#e377c2"/>
<circle cx="252.8" cy="299.0" r="2.3" fill="#e377c2"/>
<path d="M274.0,298.4L279.0,298.4L276.5,302.7Z" fill="#e377c2"/>
<circle cx="255.9" cy="297.0" r="2.3" fill="#e377c2"/>
<circle cx="254.6" cy="299.0" r="2.3" fill="#e377c2"/>
<circle cx="267.8" cy="298.6" r="2.3" fill="#e377c2"/>
<circle cx="261.2" cy="295.3" r="2.3" fill="#e377c2"/>
<circle cx="281.6" cy="299.2" r="2.3" fill="#e377c2"/>
<circle cx="277.0" cy="295.5" r="2.3" fill="#e377c2"/>
<circle cx="284.6" cy="296.4" r="2.3" fill="#e377c2"/>
<circle cx="264.3" cy="300.0" r="2.3" fill="#e377c2"/>
<path d="M271.7,300.8L276.7,300.8L274.2,296.5Z" fill="#e377c2"/>
<circle cx="256.1" cy="296.4" r="2.3" fill="#e377c2"/>
<circle cx="272.6" cy="295.4" r="2.3" fill="#e377c2"/>
<path d="M270.5,298.5L275.5,298.5L273.0,302.9Z" fill="#e377c2"/>
<path d="M269.9,296.4L274.9,296.4L272.4,300.7Z" fill="#e377c2"/>
<circle cx="253.6" cy="298.7" r="2.3" fill="#e377c2"/>
<circle cx="273.8" cy="297.6" r="2.3" fill="#e377c2"/>
<path d="M261.0,298.8L266.0,298.8L263.5,303.2Z" fill="#e377c2"/>
<path d="M248.1,299.3L253.1,299.3L250.6,294.9Z" fill="#e377c2"/>
<circle cx="271.1" cy="296.3" r="2.3" fill="#e377c2"/>
<path d="M264.1,296.5L269.1,296.5L266.6,300.8Z" fill="#e377c2"/>
<circle cx="260.9" cy="299.8" r="2.3" fill="#e377c2"/>
<circle cx="281.1" cy="294.1" r="2.3" fill="#e377c2"/>
<path d="M283.1,297.7L288.1,297.7L285.6,302.0Z" fill="#e377c2"/>
<path d="M281.2,299.1L286.2,299.1L283.7,303.5Z" fill="#e377c2"/>
<path d="M265.6,298.4L270.6,298.4L268.1,302.8Z" fill="#e377c2"/>
<path d="M256.1,302.1L261.1,302.1L258.6,297.7Z" fill="#e377c2"/>
<circle cx="269.0" cy="299.4" r="2.3" fill="#e377c2"/>
<text x="0" y="0" font-size="8.8" text-anchor="end" transform="translate(253.1,309.3) rotate(-45)">Sense organs</text>
<path d="M327.1,298.9L332.3,298.9L329.7,294.4Z" fill="#7f7f7f" fill-opacity="0.60"/>
<path d="M341.7,298.9L346.9,298.9L344.3,294.4Z" fill="#7f7f7f"/>
<path d="M335.1,293.7L340.3,293.7L337.7,298.2Z" fill="#7f7f7f"/>
<path d="M337.6,298.5L342.8,298.5L340.2,294.0Z" fill="#7f7f7f" fill-opacity="0.75"/>
<path d="M346.6,298.4L351.8,298.4L349.2,293.8Z" fill="#7f7f7f" fill-opacity="0.60"/>
<path d="M298.3,294.6L303.5,294.6L300.9,299.1Z" fill="#7f7f7f" fill-opacity="0.60"/>
<path d="M343.3,295.9L348.5,295.9L345.9,300.4Z" fill="#7f7f7f"/>
<path d="M320.2,295.0L325.4,295.0L322.8,299.5Z" fill="#7f7f7f"/>
<path d="M321.9,292.6L327.1,292.6L324.5,288.1Z" fill="#7f7f7f" fill-opacity="0.75"/>
<path d="M330.6,290.5L335.8,290.5L333.2,295.0Z" fill="#7f7f7f"/>
<path d="M330.3,298.5L335.5,298.5L332.9,294.0Z" fill="#7f7f7f" fill-opacity="0.60"/>
<path d="M289.5,298.1L294.7,298.1L292.1,293.6Z" fill="#7f7f7f" fill-opacity="0.75"/>
<path d="M325.0,297.8L330.2,297.8L327.6,293.3Z" fill="#7f7f7f"/>
<path d="M330.1,295.1L335.3,295.1L332.7,290.6Z" fill="#7f7f7f" fill-opacity="0.75"/>
<path d="M335.0,298.4L340.2,298.4L337.6,293.9Z" fill="#7f7f7f" fill-opacity="0.75"/>
<path d="M313.4,294.0L318.6,294.0L316.0,289.5Z" fill="#7f7f7f" fill-opacity="0.60"/>
<path d="M295.3,298.7L300.5,298.7L297.9,294.2Z" fill="#7f7f7f" fill-opacity="0.60"/>
<path d="M301.6,296.5L306.8,296.5L304.2,292.0Z" fill="#7f7f7f" fill-opacity="0.75"/>
<path d="M346.4,295.9L351.6,295.9L349.0,300.4Z" fill="#7f7f7f"/>
<path d="M345.3,294.6L350.5,294.6L347.9,299.2Z" fill="#7f7f7f"/>
<path d="M314.9,298.9L320.1,298.9L317.5,294.4Z" fill="#7f7f7f" fill-opacity="0.75"/>
<path d="M323.4,295.9L328.6,295.9L326.0,291.4Z" fill="#7f7f7f"/>
<path d="M328.9,298.3L334.1,298.3L331.5,293.8Z" fill="#7f7f7f"/>
<path d="M324.0,293.1L329.2,293.1L326.6,288.6Z" fill="#7f7f7f" fill-opacity="0.75"/>
<path d="M308.2,291.0L313.4,291.0L310.8,295.5Z" fill="#7f7f7f"/>
<path d="M321.0,295.8L326.2,295.8L323.6,300.3Z" fill="#7f7f7f"/>
<path d="M336.3,299.1L341.5,299.1L338.9,294.5Z" fill="#7f7f7f" fill-opacity="0.75"/>
<path d="M348.8,291.0L354.0,291.0L351.4,295.6Z" fill="#7f7f7f"/>
<circle cx="318.8" cy="299.3" r="2.3" fill="#7f7f7f"/>
<path d="M316.0,297.9L321.0,297.9L318.5,302.3Z" fill="#7f7f7f"/>
<path d="M348.5,299.2L353.5,299.2L351.0,294.9Z" fill="#7f7f7f"/>
<path d="M339.1,300.2L344.1,300.2L341.6,295.8Z" fill="#7f7f7f"/>
<circle cx="318.4" cy="297.7" r="2.3" fill="#7f7f7f"/>
<circle cx="330.7" cy="299.1" r="2.3" fill="#7f7f7f"/>
<circle cx="312.5" cy="294.1" r="2.3" fill="#7f7f7f"/>
<circle cx="314.1" cy="300.3" r="2.3" fill="#7f7f7f"/>
<path d="M327.7,298.3L332.7,298.3L330.2,302.7Z" fill="#7f7f7f"/>
<path d="M302.6,300.8L307.6,300.8L305.1,296.5Z" fill="#7f7f7f"/>
<circle cx="318.8" cy="297.2" r="2.3" fill="#7f7f7f"/>
<circle cx="343.6" cy="296.2" r="2.3" fill="#7f7f7f"/>
<path d="M308.8,297.7L313.8,297.7L311.3,302.0Z" fill="#7f7f7f"/>
<path d="M293.6,301.7L298.6,301.7L296.1,297.3Z" fill="#7f7f7f"/>
<circle cx="325.1" cy="298.6" r="2.3" fill="#7f7f7f"/>
<path d="M292.1,300.4L297.1,300.4L294.6,296.0Z" fill="#7f7f7f"/>
<circle cx="315.3" cy="300.2" r="2.3" fill="#7f7f7f"/>
<circle cx="302.8" cy="297.8" r="2.3" fill="#7f7f7f"/>
<circle cx="343.0" cy="299.6" r="2.3" fill="#7f7f7f"/>
<path d="M340.5,299.0L345.5,299.0L343.0,294.6Z" fill="#7f7f7f"/>
<path d="M325.4,294.6L330.4,294.6L327.9,299.0Z" fill="#7f7f7f"/>
<path d="M312.7,298.0L317.7,298.0L315.2,302.3Z" fill="#7f7f7f"/>
<circle cx="334.3" cy="300.3" r="2.3" fill="#7f7f7f"/>
<circle cx="322.7" cy="299.4" r="2.3" fill="#7f7f7f"/>
<path d="M347.9,299.0L352.9,299.0L350.4,303.4Z" fill="#7f7f7f"/>
<circle cx="291.9" cy="299.6" r="2.3" fill="#7f7f7f"/>
<path d="M293.6,301.7L298.6,301.7L296.1,297.3Z" fill="#7f7f7f"/>
<path d="M317.6,296.7L322.6,296.7L320.1,301.1Z" fill="#7f7f7f"/>
<path d="M318.3,298.5L323.3,298.5L320.8,294.1Z" fill="#7f7f7f"/>
<circle cx="308.0" cy="300.2" r="2.3" fill="#7f7f7f"/>
<circle cx="316.3" cy="298.7" r="2.3" fill="#7f7f7f"/>
<circle cx="311.8" cy="298.3" r="2.3" fill="#7f7f7f"/>
<circle cx="342.1" cy="299.4" r="2.3" fill="#7f7f7f"/>
<circle cx="322.5" cy="298.3" r="2.3" fill="#7f7f7f"/>
<circle cx="295.3" cy="299.7" r="2.3" fill="#7f7f7f"/>
<path d="M306.5,300.6L311.5,300.6L309.0,296.2Z" fill="#7f7f7f"/>
<circle cx="289.6" cy="300.2" r="2.3" fill="#7f7f7f"/>
<path d="M347.9,299.3L352.9,299.3L350.4,294.9Z" fill="#7f7f7f"/>
<circle cx="327.0" cy="300.2" r="2.3" fill="#7f7f7f"/>
<circle cx="308.1" cy="298.2" r="2.3" fill="#7f7f7f"/>
<path d="M318.1,297.4L323.1,297.4L320.6,301.8Z" fill="#7f7f7f"/>
<circle cx="292.4" cy="299.0" r="2.3" fill="#7f7f7f"/>
<circle cx="339.5" cy="299.5" r="2.3" fill="#7f7f7f"/>
<path d="M341.1,300.7L346.1,300.7L343.6,296.3Z" fill="#7f7f7f"/>
<path d="M349.0,301.1L354.0,301.1L351.5,296.8Z" fill="#7f7f7f"/>
<path d="M306.7,300.5L311.7,300.5L309.2,296.2Z" fill="#7f7f7f"/>
<circle cx="337.5" cy="297.0" r="2.3" fill="#7f7f7f"/>
<path d="M326.2,297.6L331.2,297.6L328.7,293.2Z" fill="#7f7f7f"/>
<path d="M345.8,297.7L350.8,297.7L348.3,302.0Z" fill="#7f7f7f"/>
<path d="M286.9,299.0L291.9,299.0L289.4,303.4Z" fill="#7f7f7f"/>
<circle cx="347.2" cy="298.2" r="2.3" fill="#7f7f7f"/>
<circle cx="338.6" cy="297.1" r="2.3" fill="#7f7f7f"/>
<circle cx="317.4" cy="299.1" r="2.3" fill="#7f7f7f"/>
<circle cx="296.5" cy="298.9" r="2.3" fill="#7f7f7f"/>
<path d="M293.9,296.1L298.9,296.1L296.4,300.5Z" fill="#7f7f7f"/>
<circle cx="323.8" cy="299.6" r="2.3" fill="#7f7f7f"/>
<path d="M347.1,298.5L352.1,298.5L349.6,302.9Z" fill="#7f7f7f"/>
<path d="M299.9,299.9L304.9,299.9L302.4,295.5Z" fill="#7f7f7f"/>
<circle cx="344.5" cy="299.0" r="2.3" fill="#7f7f7f"/>
<path d="M288.5,297.3L293.5,297.3L291.0,301.7Z" fill="#7f7f7f"/>
<path d="M317.8,301.3L322.8,301.3L320.3,296.9Z" fill="#7f7f7f"/>
<circle cx="338.4" cy="297.6" r="2.3" fill="#7f7f7f"/>
<circle cx="326.2" cy="298.2" r="2.3" fill="#7f7f7f"/>
<path d="M308.5,298.2L313.5,298.2L311.0,302.5Z" fill="#7f7f7f"/>
<path d="M311.2,297.5L316.2,297.5L313.7,301.9Z" fill="#7f7f7f"/>
<path d="M309.2,300.0L314.2,300.0L311.7,295.7Z" fill="#7f7f7f"/>
<circle cx="333.3" cy="299.1" r="2.3" fill="#7f7f7f"/>
<circle cx="305.6" cy="300.0" r="2.3" fill="#7f7f7f"/>
<path d="M290.6,299.4L295.6,299.4L293.1,295.0Z" fill="#7f7f7f"/>
<path d="M332.0,296.6L337.0,296.6L334.5,300.9Z" fill="#7f7f7f"/>
<circle cx="346.8" cy="299.2" r="2.3" fill="#7f7f7f"/>
<circle cx="319.9" cy="299.9" r="2.3" fill="#7f7f7f"/>
<path d="M306.0,298.6L311.0,298.6L308.5,294.3Z" fill="#7f7f7f"/>
<circle cx="333.4" cy="297.9" r="2.3" fill="#7f7f7f"/>
<path d="M296.1,298.1L301.1,298.1L298.6,302.5Z" fill="#7f7f7f"/>
<circle cx="340.2" cy="297.4" r="2.3" fill="#7f7f7f"/>
<path d="M299.2,297.1L304.2,297.1L301.7,301.4Z" fill="#7f7f7f"/>
<path d="M294.2,298.9L299.2,298.9L296.7,303.3Z" fill="#7f7f7f"/>
<circle cx="332.8" cy="297.6" r="2.3" fill="#7f7f7f"/>
<path d="M346.9,298.9L351.9,298.9L349.4,303.2Z" fill="#7f7f7f"/>
<circle cx="305.8" cy="298.6" r="2.3" fill="#7f7f7f"/>
<circle cx="290.3" cy="298.8" r="2.3" fill="#7f7f7f"/>
<circle cx="305.1" cy="300.0" r="2.3" fill="#7f7f7f"/>
<circle cx="319.8" cy="300.1" r="2.3" fill="#7f7f7f"/>
<path d="M318.8,300.4L323.8,300.4L321.3,296.1Z" fill="#7f7f7f"/>
<path d="M341.1,297.4L346.1,297.4L343.6,301.8Z" fill="#7f7f7f"/>
<path d="M320.4,296.9L325.4,296.9L322.9,301.3Z" fill="#7f7f7f"/>
<path d="M335.7,302.1L340.7,302.1L338.2,297.7Z" fill="#7f7f7f"/>
<circle cx="339.0" cy="299.7" r="2.3" fill="#7f7f7f"/>
<path d="M315.3,296.9L320.3,296.9L317.8,301.2Z" fill="#7f7f7f"/>
<circle cx="324.9" cy="297.9" r="2.3" fill="#7f7f7f"/>
<path d="M301.2,298.2L306.2,298.2L303.7,302.6Z" fill="#7f7f7f"/>
<path d="M291.1,301.8L296.1,301.8L293.6,297.4Z" fill="#7f7f7f"/>
<circle cx="324.9" cy="295.8" r="2.3" fill="#7f7f7f"/>
<circle cx="344.4" cy="296.1" r="2.3" fill="#7f7f7f"/>
<path d="M328.8,298.7L333.8,298.7L331.3,303.1Z" fill="#7f7f7f"/>
<path d="M330.0,299.0L335.0,299.0L332.5,303.3Z" fill="#7f7f7f"/>
<circle cx="322.1" cy="298.1" r="2.3" fill="#7f7f7f"/>
<circle cx="322.4" cy="299.2" r="2.3" fill="#7f7f7f"/>
<circle cx="320.7" cy="299.3" r="2.3" fill="#7f7f7f"/>
<circle cx="319.9" cy="297.3" r="2.3" fill="#7f7f7f"/>
<path d="M317.4,296.8L322.4,296.8L319.9,292.5Z" fill="#7f7f7f"/>
<circle cx="308.1" cy="298.4" r="2.3" fill="#7f7f7f"/>
<path d="M331.1,293.9L336.1,293.9L333.6,298.2Z" fill="#7f7f7f"/>
<path d="M341.0,300.0L346.0,300.0L343.5,295.6Z" fill="#7f7f7f"/>
<path d="M317.6,296.5L322.6,296.5L320.1,300.9Z" fill="#7f7f7f"/>
<text x="0" y="0" font-size="8.8" text-anchor="end" transform="translate(294.6,308.5) rotate(-45)">Circulatory system</text>
<path d="M373.5,298.8L378.7,298.8L376.1,294.3Z" fill="#bcbd22"/>
<path d="M355.7,298.1L360.9,298.1L358.3,293.5Z" fill="#bcbd22"/>
<path d="M362.3,298.6L367.5,298.6L364.9,294.1Z" fill="#bcbd22"/>
<path d="M353.4,295.9L358.6,295.9L356.0,300.4Z" fill="#bcbd22" fill-opacity="0.60"/>
<path d="M371.3,297.5L376.5,297.5L373.9,293.0Z" fill="#bcbd22" fill-opacity="0.75"/>
<path d="M361.8,292.3L367.0,292.3L364.4,287.7Z" fill="#bcbd22"/>
<path d="M366.0,296.9L371.2,296.9L368.6,292.4Z" fill="#bcbd22" fill-opacity="0.75"/>
<path d="M363.2,295.3L368.4,295.3L365.8,299.8Z" fill="#bcbd22"/>
<path d="M357.7,298.4L362.9,298.4L360.3,293.9Z" fill="#bcbd22"/>
<path d="M370.2,297.9L375.4,297.9L372.8,293.4Z" fill="#bcbd22" fill-opacity="0.75"/>
<path d="M366.2,296.6L371.4,296.6L368.8,292.0Z" fill="#bcbd22"/>
<circle cx="359.7" cy="298.6" r="2.3" fill="#bcbd22"/>
<path d="M359.8,297.6L364.8,297.6L362.3,301.9Z" fill="#bcbd22"/>
<circle cx="367.7" cy="297.4" r="2.3" fill="#bcbd22"/>
<circle cx="372.7" cy="300.3" r="2.3" fill="#bcbd22"/>
<circle cx="377.8" cy="298.9" r="2.3" fill="#bcbd22"/>
<circle cx="363.5" cy="294.9" r="2.3" fill="#bcbd22"/>
<path d="M356.1,295.8L361.1,295.8L358.6,300.2Z" fill="#bcbd22"/>
<circle cx="363.1" cy="299.8" r="2.3" fill="#bcbd22"/>
<path d="M366.3,300.1L371.3,300.1L368.8,295.8Z" fill="#bcbd22"/>
<circle cx="373.9" cy="297.9" r="2.3" fill="#bcbd22"/>
<path d="M354.5,301.9L359.5,301.9L357.0,297.5Z" fill="#bcbd22"/>
<path d="M357.6,298.3L362.6,298.3L360.1,293.9Z" fill="#bcbd22"/>
<circle cx="376.4" cy="296.7" r="2.3" fill="#bcbd22"/>
<circle cx="371.6" cy="299.1" r="2.3" fill="#bcbd22"/>
<path d="M368.3,298.7L373.3,298.7L370.8,303.1Z" fill="#bcbd22"/>
<circle cx="376.9" cy="298.4" r="2.3" fill="#bcbd22"/>
<path d="M359.1,301.5L364.1,301.5L361.6,297.2Z" fill="#bcbd22"/>
<circle cx="359.7" cy="300.0" r="2.3" fill="#bcbd22"/>
<circle cx="359.6" cy="299.8" r="2.3" fill="#bcbd22"/>
<path d="M364.9,296.6L369.9,296.6L367.4,300.9Z" fill="#bcbd22"/>
<circle cx="376.8" cy="299.7" r="2.3" fill="#bcbd22"/>
<path d="M358.0,297.6L363.0,297.6L360.5,302.0Z" fill="#bcbd22"/>
<circle cx="366.8" cy="299.5" r="2.3" fill="#bcbd22"/>
<path d="M360.4,297.6L365.4,297.6L362.9,302.0Z" fill="#bcbd22"/>
<path d="M363.3,298.5L368.3,298.5L365.8,302.8Z" fill="#bcbd22"/>
<path d="M363.5,300.3L368.5,300.3L366.0,295.9Z" fill="#bcbd22"/>
<circle cx="372.7" cy="295.7" r="2.3" fill="#bcbd22"/>
<path d="M354.2,301.4L359.2,301.4L356.7,297.1Z" fill="#bcbd22"/>
<circle cx="355.9" cy="299.2" r="2.3" fill="#bcbd22"/>
<circle cx="373.5" cy="297.3" r="2.3" fill="#bcbd22"/>
<circle cx="359.6" cy="300.3" r="2.3" fill="#bcbd22"/>
<path d="M359.8,300.5L364.8,300.5L362.3,296.2Z" fill="#bcbd22"/>
<path d="M363.6,301.7L368.6,301.7L366.1,297.3Z" fill="#bcbd22"/>
<circle cx="363.5" cy="298.3" r="2.3" fill="#bcbd22"/>
<circle cx="367.7" cy="298.5" r="2.3" fill="#bcbd22"/>
<path d="M360.5,297.9L365.5,297.9L363.0,302.2Z" fill="#bcbd22"/>
<circle cx="375.3" cy="299.6" r="2.3" fill="#bcbd22"/>
<circle cx="366.9" cy="298.6" r="2.3" fill="#bcbd22"/>
<circle cx="371.8" cy="300.2" r="2.3" fill="#bcbd22"/>
<circle cx="368.6" cy="297.6" r="2.3" fill="#bcbd22"/>
<text x="0" y="0" font-size="8.8" text-anchor="end" transform="translate(353.0,309.2) rotate(-45)">Respiratory</text>
<path d="M384.4,295.6L389.6,295.6L387.0,291.1Z" fill="#17becf"/>
<path d="M407.0,291.5L412.2,291.5L409.6,286.9Z" fill="#17becf" fill-opacity="0.60"/>
<path d="M417.6,295.9L422.8,295.9L420.2,291.3Z" fill="#17becf" fill-opacity="0.60"/>
<path d="M411.3,296.1L416.5,296.1L413.9,291.6Z" fill="#17becf"/>
<path d="M397.0,296.1L402.2,296.1L399.6,291.5Z" fill="#17becf"/>
<path d="M433.7,298.1L438.9,298.1L436.3,293.6Z" fill="#17becf"/>
<path d="M394.7,299.0L399.9,299.0L397.3,294.4Z" fill="#17becf" fill-opacity="0.60"/>
<path d="M424.0,295.2L429.2,295.2L426.6,299.7Z" fill="#17becf"/>
<path d="M403.0,293.7L408.2,293.7L405.6,298.2Z" fill="#17becf" fill-opacity="0.60"/>
<path d="M427.5,298.6L432.7,298.6L430.1,294.1Z" fill="#17becf" fill-opacity="0.75"/>
<path d="M431.2,293.0L436.4,293.0L433.8,297.5Z" fill="#17becf" fill-opacity="0.60"/>
<path d="M424.3,286.6L429.5,286.6L426.9,291.1Z" fill="#17becf"/>
<path d="M424.0,292.4L429.2,292.4L426.6,296.9Z" fill="#17becf"/>
<path d="M385.5,294.2L390.7,294.2L388.1,298.7Z" fill="#17becf"/>
<path d="M430.9,299.0L436.1,299.0L433.5,294.5Z" fill="#17becf" fill-opacity="0.75"/>
<path d="M405.5,293.0L410.7,293.0L408.1,297.5Z" fill="#17becf" fill-opacity="0.60"/>
<path d="M431.6,296.0L436.8,296.0L434.2,291.5Z" fill="#17becf"/>
<path d="M385.1,286.6L390.3,286.6L387.7,291.1Z" fill="#17becf" fill-opacity="0.75"/>
<path d="M393.3,293.3L398.5,293.3L395.9,297.8Z" fill="#17becf" fill-opacity="0.75"/>
<path d="M434.6,296.2L439.8,296.2L437.2,291.7Z" fill="#17becf"/>
<path d="M403.5,297.5L408.7,297.5L406.1,293.0Z" fill="#17becf"/>
<path d="M411.1,287.5L416.3,287.5L413.7,292.0Z" fill="#17becf" fill-opacity="0.60"/>
<path d="M391.6,295.4L396.8,295.4L394.2,290.9Z" fill="#17becf"/>
<path d="M407.1,289.6L412.3,289.6L409.7,285.1Z" fill="#17becf"/>
<path d="M418.1,296.9L423.3,296.9L420.7,292.4Z" fill="#17becf" fill-opacity="0.75"/>
<path d="M417.9,299.0L423.1,299.0L420.5,294.5Z" fill="#17becf"/>
<path d="M397.5,294.9L402.5,294.9L400.0,299.3Z" fill="#17becf"/>
<path d="M395.2,296.4L400.2,296.4L397.7,300.8Z" fill="#17becf"/>
<circle cx="400.2" cy="299.5" r="2.3" fill="#17becf"/>
<path d="M408.5,298.6L413.5,298.6L411.0,303.0Z" fill="#17becf"/>
<path d="M405.7,302.1L410.7,302.1L408.2,297.7Z" fill="#17becf"/>
<circle cx="392.5" cy="299.0" r="2.3" fill="#17becf"/>
<circle cx="385.0" cy="299.6" r="2.3" fill="#17becf"/>
<path d="M398.9,297.1L403.9,297.1L401.4,292.7Z" fill="#17becf"/>
<circle cx="404.4" cy="299.5" r="2.3" fill="#17becf"/>
<circle cx="408.2" cy="299.3" r="2.3" fill="#17becf"/>
<path d="M417.9,298.9L422.9,298.9L420.4,303.3Z" fill="#17becf"/>
<circle cx="417.9" cy="296.2" r="2.3" fill="#17becf"/>
<path d="M409.6,297.5L414.6,297.5L412.1,301.8Z" fill="#17becf"/>
<circle cx="391.9" cy="300.3" r="2.3" fill="#17becf"/>
<circle cx="412.7" cy="299.6" r="2.3" fill="#17becf"/>
<path d="M419.9,298.9L424.9,298.9L422.4,303.3Z" fill="#17becf"/>
<circle cx="421.6" cy="298.5" r="2.3" fill="#17becf"/>
<path d="M403.4,297.3L408.4,297.3L405.9,301.7Z" fill="#17becf"/>
<circle cx="384.2" cy="298.9" r="2.3" fill="#17becf"/>
<circle cx="396.5" cy="299.6" r="2.3" fill="#17becf"/>
<path d="M403.0,297.1L408.0,297.1L405.5,301.4Z" fill="#17becf"/>
<path d="M401.7,300.2L406.7,300.2L404.2,295.9Z" fill="#17becf"/>
<circle cx="421.9" cy="297.8" r="2.3" fill="#17becf"/>
<circle cx="384.1" cy="300.0" r="2.3" fill="#17becf"/>
<circle cx="403.5" cy="300.3" r="2.3" fill="#17becf"/>
<circle cx="387.1" cy="296.4" r="2.3" fill="#17becf"/>
<circle cx="414.8" cy="299.2" r="2.3" fill="#17becf"/>
<circle cx="437.6" cy="299.0" r="2.3" fill="#17becf"/>
<path d="M428.3,300.9L433.3,300.9L430.8,296.5Z" fill="#17becf"/>
<path d="M401.4,298.0L406.4,298.0L403.9,302.3Z" fill="#17becf"/>
<circle cx="406.8" cy="299.3" r="2.3" fill="#17becf"/>
<path d="M403.6,300.4L408.6,300.4L406.1,296.0Z" fill="#17becf"/>
<path d="M396.0,301.6L401.0,301.6L398.5,297.2Z" fill="#17becf"/>
<circle cx="408.2" cy="298.7" r="2.3" fill="#17becf"/>
<path d="M430.1,297.6L435.1,297.6L432.6,302.0Z" fill="#17becf"/>
<circle cx="404.1" cy="298.7" r="2.3" fill="#17becf"/>
<path d="M420.1,296.2L425.1,296.2L422.6,300.5Z" fill="#17becf"/>
<circle cx="419.5" cy="297.6" r="2.3" fill="#17becf"/>
<path d="M422.8,298.0L427.8,298.0L425.3,302.3Z" fill="#17becf"/>
<circle cx="400.6" cy="300.3" r="2.3" fill="#17becf"/>
<circle cx="425.1" cy="300.0" r="2.3" fill="#17becf"/>
<path d="M413.8,301.7L418.8,301.7L416.3,297.4Z" fill="#17becf"/>
<circle cx="433.5" cy="298.3" r="2.3" fill="#17becf"/>
<circle cx="414.5" cy="298.6" r="2.3" fill="#17becf"/>
<path d="M412.4,295.6L417.4,295.6L414.9,300.0Z" fill="#17becf"/>
<path d="M421.4,297.8L426.4,297.8L423.9,302.1Z" fill="#17becf"/>
<path d="M409.8,301.3L414.8,301.3L412.3,297.0Z" fill="#17becf"/>
<path d="M423.4,300.6L428.4,300.6L425.9,296.2Z" fill="#17becf"/>
<path d="M411.1,299.1L416.1,299.1L413.6,294.7Z" fill="#17becf"/>
<path d="M388.1,299.0L393.1,299.0L390.6,294.6Z" fill="#17becf"/>
<circle cx="427.3" cy="297.2" r="2.3" fill="#17becf"/>
<path d="M386.8,297.4L391.8,297.4L389.3,301.7Z" fill="#17becf"/>
<path d="M411.2,300.7L416.2,300.7L413.7,296.3Z" fill="#17becf"/>
<path d="M422.1,297.6L427.1,297.6L424.6,302.0Z" fill="#17becf"/>
<circle cx="428.6" cy="299.5" r="2.3" fill="#17becf"/>
<circle cx="396.7" cy="298.7" r="2.3" fill="#17becf"/>
<path d="M400.0,300.1L405.0,300.1L402.5,295.7Z" fill="#17becf"/>
<circle cx="398.9" cy="297.0" r="2.3" fill="#17becf"/>
<circle cx="391.2" cy="296.8" r="2.3" fill="#17becf"/>
<circle cx="385.9" cy="299.4" r="2.3" fill="#17becf"/>
<path d="M406.6,298.8L411.6,298.8L409.1,294.4Z" fill="#17becf"/>
<path d="M425.6,298.3L430.6,298.3L428.1,302.6Z" fill="#17becf"/>
<path d="M397.9,301.0L402.9,301.0L400.4,296.6Z" fill="#17becf"/>
<path d="M405.8,298.3L410.8,298.3L408.3,302.7Z" fill="#17becf"/>
<path d="M413.5,300.0L418.5,300.0L416.0,295.7Z" fill="#17becf"/>
<path d="M391.3,301.2L396.3,301.2L393.8,296.9Z" fill="#17becf"/>
<circle cx="406.3" cy="299.5" r="2.3" fill="#17becf"/>
<circle cx="428.6" cy="297.6" r="2.3" fill="#17becf"/>
<path d="M398.9,300.5L403.9,300.5L401.4,296.2Z" fill="#17becf"/>
<circle cx="431.8" cy="299.3" r="2.3" fill="#17becf"/>
<path d="M391.7,301.0L396.7,301.0L394.2,296.7Z" fill="#17becf"/>
<path d="M418.5,295.5L423.5,295.5L421.0,299.8Z" fill="#17becf"/>
<circle cx="386.5" cy="298.8" r="2.3" fill="#17becf"/>
<path d="M398.8,299.3L403.8,299.3L401.3,294.9Z" fill="#17becf"/>
<circle cx="386.9" cy="300.1" r="2.3" fill="#17becf"/>
<path d="M418.6,298.5L423.6,298.5L421.1,302.8Z" fill="#17becf"/>
<circle cx="399.5" cy="298.9" r="2.3" fill="#17becf"/>
<circle cx="397.6" cy="298.5" r="2.3" fill="#17becf"/>
<circle cx="395.3" cy="299.6" r="2.3" fill="#17becf"/>
<path d="M393.5,300.3L398.5,300.3L396.0,296.0Z" fill="#17becf"/>
<path d="M385.0,301.9L390.0,301.9L387.5,297.6Z" fill="#17becf"/>
<path d="M407.9,297.5L412.9,297.5L410.4,301.9Z" fill="#17becf"/>
<path d="M416.4,295.2L421.4,295.2L418.9,299.5Z" fill="#17becf"/>
<circle cx="404.8" cy="298.4" r="2.3" fill="#17becf"/>
<path d="M408.9,297.6L413.9,297.6L411.4,302.0Z" fill="#17becf"/>
<circle cx="432.3" cy="300.3" r="2.3" fill="#17becf"/>
<path d="M380.3,298.8L385.3,298.8L382.8,303.1Z" fill="#17becf"/>
<path d="M394.9,297.7L399.9,297.7L397.4,302.0Z" fill="#17becf"/>
<path d="M418.3,298.2L423.3,298.2L420.8,293.8Z" fill="#17becf"/>
<path d="M401.4,295.1L406.4,295.1L403.9,299.5Z" fill="#17becf"/>
<circle cx="429.0" cy="298.9" r="2.3" fill="#17becf"/>
<path d="M392.7,299.5L397.7,299.5L395.2,295.2Z" fill="#17becf"/>
<path d="M428.1,298.7L433.1,298.7L430.6,303.1Z" fill="#17becf"/>
<circle cx="385.3" cy="300.0" r="2.3" fill="#17becf"/>
<path d="M400.9,302.1L405.9,302.1L403.4,297.7Z" fill="#17becf"/>
<path d="M410.8,297.1L415.8,297.1L413.3,301.5Z" fill="#17becf"/>
<text x="0" y="0" font-size="8.8" text-anchor="end" transform="translate(384.1,309.2) rotate(-45)">Digestive</text>
<path d="M473.2,298.5L478.4,298.5L475.8,294.0Z" fill="#1f77b4"/>
<path d="M478.5,298.4L483.7,298.4L481.1,293.9Z" fill="#1f77b4" fill-opacity="0.75"/>
<path d="M496.8,288.6L502.0,288.6L499.4,293.1Z" fill="#1f77b4"/>
<path d="M452.2,295.9L457.4,295.9L454.8,291.4Z" fill="#1f77b4"/>
<path d="M453.5,298.0L458.7,298.0L456.1,293.5Z" fill="#1f77b4"/>
<path d="M496.0,298.5L501.2,298.5L498.6,294.0Z" fill="#1f77b4"/>
<path d="M483.4,298.9L488.6,298.9L486.0,294.4Z" fill="#1f77b4"/>
<path d="M485.3,293.1L490.5,293.1L487.9,297.6Z" fill="#1f77b4" fill-opacity="0.60"/>
<path d="M476.8,288.6L482.0,288.6L479.4,293.1Z" fill="#1f77b4"/>
<path d="M457.9,298.7L463.1,298.7L460.5,294.2Z" fill="#1f77b4"/>
<path d="M489.6,295.0L494.8,295.0L492.2,299.5Z" fill="#1f77b4" fill-opacity="0.75"/>
<path d="M461.9,296.0L467.1,296.0L464.5,291.5Z" fill="#1f77b4"/>
<path d="M453.3,295.1L458.5,295.1L455.9,299.6Z" fill="#1f77b4"/>
<path d="M443.2,298.5L448.4,298.5L445.8,294.0Z" fill="#1f77b4" fill-opacity="0.75"/>
<path d="M493.7,295.8L498.9,295.8L496.3,291.3Z" fill="#1f77b4" fill-opacity="0.60"/>
<path d="M493.6,298.0L498.8,298.0L496.2,293.4Z" fill="#1f77b4" fill-opacity="0.60"/>
<path d="M467.9,297.7L473.1,297.7L470.5,293.1Z" fill="#1f77b4"/>
<path d="M446.2,294.8L451.4,294.8L448.8,299.3Z" fill="#1f77b4" fill-opacity="0.75"/>
<path d="M462.0,288.6L467.2,288.6L464.6,293.1Z" fill="#1f77b4"/>
<path d="M451.2,296.1L456.4,296.1L453.8,300.6Z" fill="#1f77b4"/>
<path d="M465.4,297.1L470.6,297.1L468.0,292.6Z" fill="#1f77b4"/>
<path d="M446.9,297.7L452.1,297.7L449.5,293.1Z" fill="#1f77b4" fill-opacity="0.60"/>
<path d="M475.3,292.0L480.5,292.0L477.9,296.5Z" fill="#1f77b4"/>
<path d="M459.7,298.9L464.9,298.9L462.3,294.4Z" fill="#1f77b4"/>
<path d="M491.4,295.3L496.6,295.3L494.0,299.8Z" fill="#1f77b4"/>
<path d="M444.4,296.0L449.6,296.0L447.0,300.5Z" fill="#1f77b4"/>
<path d="M473.8,298.3L479.0,298.3L476.4,293.8Z" fill="#1f77b4" fill-opacity="0.60"/>
<circle cx="448.1" cy="299.5" r="2.3" fill="#1f77b4"/>
<path d="M476.8,301.5L481.8,301.5L479.3,297.1Z" fill="#1f77b4"/>
<path d="M447.8,298.1L452.8,298.1L450.3,302.4Z" fill="#1f77b4"/>
<path d="M461.9,301.5L466.9,301.5L464.4,297.2Z" fill="#1f77b4"/>
<circle cx="461.3" cy="300.3" r="2.3" fill="#1f77b4"/>
<path d="M491.4,297.4L496.4,297.4L493.9,301.8Z" fill="#1f77b4"/>
<circle cx="449.3" cy="299.3" r="2.3" fill="#1f77b4"/>
<path d="M480.8,299.8L485.8,299.8L483.3,295.5Z" fill="#1f77b4"/>
<circle cx="458.3" cy="298.0" r="2.3" fill="#1f77b4"/>
<path d="M483.3,301.4L488.3,301.4L485.8,297.1Z" fill="#1f77b4"/>
<path d="M462.2,296.0L467.2,296.0L464.7,300.4Z" fill="#1f77b4"/>
<path d="M445.6,298.7L450.6,298.7L448.1,294.3Z" fill="#1f77b4"/>
<path d="M474.7,298.8L479.7,298.8L477.2,303.1Z" fill="#1f77b4"/>
<path d="M473.0,293.2L478.0,293.2L475.5,297.6Z" fill="#1f77b4"/>
<circle cx="498.2" cy="295.4" r="2.3" fill="#1f77b4"/>
<path d="M462.8,301.1L467.8,301.1L465.3,296.7Z" fill="#1f77b4"/>
<circle cx="478.6" cy="299.9" r="2.3" fill="#1f77b4"/>
<circle cx="460.5" cy="299.3" r="2.3" fill="#1f77b4"/>
<path d="M489.6,301.3L494.6,301.3L492.1,296.9Z" fill="#1f77b4"/>
<path d="M460.6,301.6L465.6,301.6L463.1,297.3Z" fill="#1f77b4"/>
<circle cx="474.3" cy="299.1" r="2.3" fill="#1f77b4"/>
<circle cx="441.6" cy="300.2" r="2.3" fill="#1f77b4"/>
<path d="M455.2,299.2L460.2,299.2L457.7,303.6Z" fill="#1f77b4"/>
<circle cx="445.3" cy="300.0" r="2.3" fill="#1f77b4"/>
<path d="M481.6,297.7L486.6,297.7L484.1,302.1Z" fill="#1f77b4"/>
<circle cx="466.3" cy="299.5" r="2.3" fill="#1f77b4"/>
<circle cx="485.3" cy="298.4" r="2.3" fill="#1f77b4"/>
<path d="M479.4,300.0L484.4,300.0L481.9,295.6Z" fill="#1f77b4"/>
<circle cx="477.9" cy="297.4" r="2.3" fill="#1f77b4"/>
<path d="M441.1,298.1L446.1,298.1L443.6,302.4Z" fill="#1f77b4"/>
<path d="M478.8,301.4L483.8,301.4L481.3,297.1Z" fill="#1f77b4"/>
<path d="M444.8,296.9L449.8,296.9L447.3,301.3Z" fill="#1f77b4"/>
<path d="M471.3,301.6L476.3,301.6L473.8,297.2Z" fill="#1f77b4"/>
<circle cx="448.2" cy="300.1" r="2.3" fill="#1f77b4"/>
<circle cx="443.3" cy="300.0" r="2.3" fill="#1f77b4"/>
<path d="M442.8,298.1L447.8,298.1L445.3,302.5Z" fill="#1f77b4"/>
<circle cx="461.8" cy="300.1" r="2.3" fill="#1f77b4"/>
<path d="M478.6,298.6L483.6,298.6L481.1,303.0Z" fill="#1f77b4"/>
<path d="M489.9,294.9L494.9,294.9L492.4,299.2Z" fill="#1f77b4"/>
<circle cx="458.4" cy="299.9" r="2.3" fill="#1f77b4"/>
<circle cx="442.1" cy="297.4" r="2.3" fill="#1f77b4"/>
<path d="M454.5,300.1L459.5,300.1L457.0,295.7Z" fill="#1f77b4"/>
<path d="M446.8,297.7L451.8,297.7L449.3,302.1Z" fill="#1f77b4"/>
<circle cx="499.9" cy="299.9" r="2.3" fill="#1f77b4"/>
<path d="M468.8,300.4L473.8,300.4L471.3,296.1Z" fill="#1f77b4"/>
<circle cx="495.8" cy="298.3" r="2.3" fill="#1f77b4"/>
<path d="M460.1,301.9L465.1,301.9L462.6,297.5Z" fill="#1f77b4"/>
<circle cx="465.1" cy="297.6" r="2.3" fill="#1f77b4"/>
<circle cx="450.3" cy="298.8" r="2.3" fill="#1f77b4"/>
<circle cx="477.0" cy="300.2" r="2.3" fill="#1f77b4"/>
<path d="M460.7,299.8L465.7,299.8L463.2,295.5Z" fill="#1f77b4"/>
<circle cx="442.2" cy="298.5" r="2.3" fill="#1f77b4"/>
<path d="M447.0,297.6L452.0,297.6L449.5,302.0Z" fill="#1f77b4"/>
<circle cx="445.3" cy="299.7" r="2.3" fill="#1f77b4"/>
<circle cx="477.2" cy="299.1" r="2.3" fill="#1f77b4"/>
<path d="M494.2,301.5L499.2,301.5L496.7,297.2Z" fill="#1f77b4"/>
<path d="M441.2,301.1L446.2,301.1L443.7,296.7Z" fill="#1f77b4"/>
<circle cx="494.6" cy="300.0" r="2.3" fill="#1f77b4"/>
<circle cx="477.1" cy="299.0" r="2.3" fill="#1f77b4"/>
<path d="M456.8,300.9L461.8,300.9L459.3,296.5Z" fill="#1f77b4"/>
<path d="M493.5,298.5L498.5,298.5L496.0,302.8Z" fill="#1f77b4"/>
<path d="M457.9,301.4L462.9,301.4L460.4,297.0Z" fill="#1f77b4"/>
<circle cx="471.2" cy="295.9" r="2.3" fill="#1f77b4"/>
<circle cx="473.7" cy="296.4" r="2.3" fill="#1f77b4"/>
<circle cx="474.1" cy="299.1" r="2.3" fill="#1f77b4"/>
<circle cx="451.4" cy="300.2" r="2.3" fill="#1f77b4"/>
<path d="M463.8,295.7L468.8,295.7L466.3,300.0Z" fill="#1f77b4"/>
<circle cx="468.8" cy="299.7" r="2.3" fill="#1f77b4"/>
<circle cx="490.3" cy="299.7" r="2.3" fill="#1f77b4"/>
<circle cx="479.5" cy="299.0" r="2.3" fill="#1f77b4"/>
<path d="M496.5,300.6L501.5,300.6L499.0,296.2Z" fill="#1f77b4"/>
<path d="M480.5,296.8L485.5,296.8L483.0,301.2Z" fill="#1f77b4"/>
<path d="M490.7,300.4L495.7,300.4L493.2,296.1Z" fill="#1f77b4"/>
<circle cx="479.8" cy="298.8" r="2.3" fill="#1f77b4"/>
<circle cx="479.7" cy="298.8" r="2.3" fill="#1f77b4"/>
<path d="M459.8,297.1L464.8,297.1L462.3,301.4Z" fill="#1f77b4"/>
<path d="M461.8,299.0L466.8,299.0L464.3,294.7Z" fill="#1f77b4"/>
<path d="M457.6,299.1L462.6,299.1L460.1,294.7Z" fill="#1f77b4"/>
<circle cx="463.8" cy="298.1" r="2.3" fill="#1f77b4"/>
<circle cx="449.9" cy="297.5" r="2.3" fill="#1f77b4"/>
<path d="M454.0,298.7L459.0,298.7L456.5,294.4Z" fill="#1f77b4"/>
<circle cx="493.3" cy="298.9" r="2.3" fill="#1f77b4"/>
<circle cx="458.7" cy="298.5" r="2.3" fill="#1f77b4"/>
<path d="M455.4,299.1L460.4,299.1L457.9,303.5Z" fill="#1f77b4"/>
<circle cx="460.7" cy="299.8" r="2.3" fill="#1f77b4"/>
<path d="M446.1,298.8L451.1,298.8L448.6,294.5Z" fill="#1f77b4"/>
<path d="M465.7,300.4L470.7,300.4L468.2,296.0Z" fill="#1f77b4"/>
<path d="M441.1,300.4L446.1,300.4L443.6,296.0Z" fill="#1f77b4"/>
<path d="M493.4,298.3L498.4,298.3L495.9,302.6Z" fill="#1f77b4"/>
<path d="M446.4,301.8L451.4,301.8L448.9,297.4Z" fill="#1f77b4"/>
<circle cx="447.0" cy="299.5" r="2.3" fill="#1f77b4"/>
<path d="M448.2,296.5L453.2,296.5L450.7,300.8Z" fill="#1f77b4"/>
<path d="M483.7,302.0L488.7,302.0L486.2,297.6Z" fill="#1f77b4"/>
<path d="M484.9,301.5L489.9,301.5L487.4,297.2Z" fill="#1f77b4"/>
<path d="M469.4,298.1L474.4,298.1L471.9,302.5Z" fill="#1f77b4"/>
<circle cx="475.1" cy="299.4" r="2.3" fill="#1f77b4"/>
<circle cx="450.1" cy="296.6" r="2.3" fill="#1f77b4"/>
<circle cx="451.0" cy="298.6" r="2.3" fill="#1f77b4"/>
<path d="M466.5,301.6L471.5,301.6L469.0,297.3Z" fill="#1f77b4"/>
<text x="0" y="0" font-size="8.8" text-anchor="end" transform="translate(444.8,309.2) rotate(-45)">Genitourinary</text>
<path d="M508.9,294.9L514.1,294.9L511.5,299.4Z" fill="#ff7f0e" fill-opacity="0.60"/>
<path d="M501.4,296.7L506.6,296.7L504.0,292.2Z" fill="#ff7f0e"/>
<path d="M502.1,295.2L507.3,295.2L504.7,299.7Z" fill="#ff7f0e"/>
<path d="M505.4,296.9L510.6,296.9L508.0,292.4Z" fill="#ff7f0e" fill-opacity="0.60"/>
<path d="M501.8,298.9L507.0,298.9L504.4,294.4Z" fill="#ff7f0e"/>
<path d="M507.1,296.6L512.3,296.6L509.7,292.1Z" fill="#ff7f0e" fill-opacity="0.60"/>
<circle cx="503.5" cy="296.4" r="2.3" fill="#ff7f0e"/>
<path d="M502.7,298.9L507.7,298.9L505.2,303.2Z" fill="#ff7f0e"/>
<path d="M502.9,302.0L507.9,302.0L505.4,297.6Z" fill="#ff7f0e"/>
<circle cx="504.8" cy="296.5" r="2.3" fill="#ff7f0e"/>
<circle cx="506.0" cy="296.6" r="2.3" fill="#ff7f0e"/>
<circle cx="504.9" cy="297.7" r="2.3" fill="#ff7f0e"/>
<path d="M503.6,300.1L508.6,300.1L506.1,295.8Z" fill="#ff7f0e"/>
<circle cx="508.3" cy="297.7" r="2.3" fill="#ff7f0e"/>
<path d="M504.9,299.0L509.9,299.0L507.4,294.7Z" fill="#ff7f0e"/>
<circle cx="509.5" cy="299.5" r="2.3" fill="#ff7f0e"/>
<circle cx="504.0" cy="298.9" r="2.3" fill="#ff7f0e"/>
<circle cx="504.3" cy="299.1" r="2.3" fill="#ff7f0e"/>
<circle cx="513.5" cy="300.1" r="2.3" fill="#ff7f0e"/>
<circle cx="507.4" cy="299.9" r="2.3" fill="#ff7f0e"/>
<circle cx="505.0" cy="297.0" r="2.3" fill="#ff7f0e"/>
<circle cx="505.4" cy="298.2" r="2.3" fill="#ff7f0e"/>
<path d="M501.2,299.1L506.2,299.1L503.7,303.4Z" fill="#ff7f0e"/>
<circle cx="504.4" cy="298.8" r="2.3" fill="#ff7f0e"/>
<circle cx="506.8" cy="299.9" r="2.3" fill="#ff7f0e"/>
<circle cx="508.3" cy="297.0" r="2.3" fill="#ff7f0e"/>
<path d="M506.0,298.8L511.0,298.8L508.5,303.1Z" fill="#ff7f0e"/>
<text x="0" y="0" font-size="8.8" text-anchor="end" transform="translate(506.7,309.2) rotate(-45)">Pregnancy complications</text>
<path d="M532.2,292.6L537.4,292.6L534.8,297.1Z" fill="#2ca02c"/>
<path d="M539.5,294.9L544.7,294.9L542.1,299.4Z" fill="#2ca02c"/>
<path d="M518.5,298.0L523.7,298.0L521.1,293.5Z" fill="#2ca02c" fill-opacity="0.75"/>
<path d="M520.9,292.6L526.1,292.6L523.5,297.1Z" fill="#2ca02c"/>
<path d="M516.5,298.1L521.7,298.1L519.1,293.6Z" fill="#2ca02c" fill-opacity="0.60"/>
<path d="M526.4,295.9L531.6,295.9L529.0,300.4Z" fill="#2ca02c" fill-opacity="0.60"/>
<path d="M517.0,295.3L522.2,295.3L519.6,299.8Z" fill="#2ca02c" fill-opacity="0.75"/>
<path d="M527.6,294.0L532.8,294.0L530.2,298.5Z" fill="#2ca02c" fill-opacity="0.75"/>
<path d="M526.8,296.7L532.0,296.7L529.4,292.2Z" fill="#2ca02c" fill-opacity="0.75"/>
<path d="M525.6,297.3L530.8,297.3L528.2,292.8Z" fill="#2ca02c" fill-opacity="0.60"/>
<path d="M537.9,295.8L543.1,295.8L540.5,300.3Z" fill="#2ca02c"/>
<path d="M523.5,298.1L528.7,298.1L526.1,293.5Z" fill="#2ca02c"/>
<path d="M538.1,293.4L543.3,293.4L540.7,297.9Z" fill="#2ca02c"/>
<path d="M525.3,297.4L530.5,297.4L527.9,292.8Z" fill="#2ca02c"/>
<circle cx="529.5" cy="298.8" r="2.3" fill="#2ca02c"/>
<circle cx="541.9" cy="299.8" r="2.3" fill="#2ca02c"/>
<circle cx="525.1" cy="299.6" r="2.3" fill="#2ca02c"/>
<circle cx="545.9" cy="299.2" r="2.3" fill="#2ca02c"/>
<path d="M523.5,295.7L528.5,295.7L526.0,300.1Z" fill="#2ca02c"/>
<path d="M539.4,293.0L544.4,293.0L541.9,297.3Z" fill="#2ca02c"/>
<path d="M539.1,298.6L544.1,298.6L541.6,302.9Z" fill="#2ca02c"/>
<circle cx="543.5" cy="299.4" r="2.3" fill="#2ca02c"/>
<path d="M531.9,301.4L536.9,301.4L534.4,297.1Z" fill="#2ca02c"/>
<path d="M541.2,299.1L546.2,299.1L543.7,303.5Z" fill="#2ca02c"/>
<circle cx="529.9" cy="299.3" r="2.3" fill="#2ca02c"/>
<path d="M541.2,296.9L546.2,296.9L543.7,301.2Z" fill="#2ca02c"/>
<circle cx="529.3" cy="298.1" r="2.3" fill="#2ca02c"/>
<circle cx="544.7" cy="297.6" r="2.3" fill="#2ca02c"/>
<circle cx="530.2" cy="298.6" r="2.3" fill="#2ca02c"/>
<circle cx="522.2" cy="298.5" r="2.3" fill="#2ca02c"/>
<circle cx="541.1" cy="299.4" r="2.3" fill="#2ca02c"/>
<circle cx="533.5" cy="299.0" r="2.3" fill="#2ca02c"/>
<path d="M529.9,302.1L534.9,302.1L532.4,297.7Z" fill="#2ca02c"/>
<path d="M523.9,295.8L528.9,295.8L526.4,300.2Z" fill="#2ca02c"/>
<circle cx="538.1" cy="299.9" r="2.3" fill="#2ca02c"/>
<path d="M541.7,298.9L546.7,298.9L544.2,294.5Z" fill="#2ca02c"/>
<circle cx="536.5" cy="300.0" r="2.3" fill="#2ca02c"/>
<path d="M542.3,294.1L547.3,294.1L544.8,298.4Z" fill="#2ca02c"/>
<circle cx="520.1" cy="300.0" r="2.3" fill="#2ca02c"/>
<circle cx="519.5" cy="298.5" r="2.3" fill="#2ca02c"/>
<path d="M522.9,297.3L527.9,297.3L525.4,301.7Z" fill="#2ca02c"/>
<path d="M518.4,296.5L523.4,296.5L520.9,300.8Z" fill="#2ca02c"/>
<path d="M532.5,295.5L537.5,295.5L535.0,299.9Z" fill="#2ca02c"/>
<circle cx="521.1" cy="300.1" r="2.3" fill="#2ca02c"/>
<circle cx="539.2" cy="295.2" r="2.3" fill="#2ca02c"/>
<path d="M515.7,301.5L520.7,301.5L518.2,297.1Z" fill="#2ca02c"/>
<path d="M534.8,297.1L539.8,297.1L537.3,301.5Z" fill="#2ca02c"/>
<path d="M536.7,297.2L541.7,297.2L539.2,301.6Z" fill="#2ca02c"/>
<path d="M516.0,298.4L521.0,298.4L518.5,302.8Z" fill="#2ca02c"/>
<circle cx="542.5" cy="299.8" r="2.3" fill="#2ca02c"/>
<path d="M516.4,297.5L521.4,297.5L518.9,301.8Z" fill="#2ca02c"/>
<path d="M525.8,301.6L530.8,301.6L528.3,297.3Z" fill="#2ca02c"/>
<path d="M527.7,297.1L532.7,297.1L530.2,301.5Z" fill="#2ca02c"/>
<path d="M519.2,297.4L524.2,297.4L521.7,293.1Z" fill="#2ca02c"/>
<path d="M543.4,298.8L548.4,298.8L545.9,303.2Z" fill="#2ca02c"/>
<path d="M518.6,301.0L523.6,301.0L521.1,296.7Z" fill="#2ca02c"/>
<circle cx="526.2" cy="297.4" r="2.3" fill="#2ca02c"/>
<path d="M517.1,298.0L522.1,298.0L519.6,302.3Z" fill="#2ca02c"/>
<circle cx="533.4" cy="298.9" r="2.3" fill="#2ca02c"/>
<path d="M528.5,298.4L533.5,298.4L531.0,302.7Z" fill="#2ca02c"/>
<path d="M528.3,299.1L533.3,299.1L530.8,303.5Z" fill="#2ca02c"/>
<circle cx="535.0" cy="298.4" r="2.3" fill="#2ca02c"/>
<path d="M516.5,298.6L521.5,298.6L519.0,294.3Z" fill="#2ca02c"/>
<circle cx="531.7" cy="299.0" r="2.3" fill="#2ca02c"/>
<circle cx="534.9" cy="300.2" r="2.3" fill="#2ca02c"/>
<path d="M541.3,297.0L546.3,297.0L543.8,301.4Z" fill="#2ca02c"/>
<text x="0" y="0" font-size="8.8" text-anchor="end" transform="translate(521.6,308.5) rotate(-45)">Dermatologic</text>
<path d="M550.1,296.6L555.3,296.6L552.7,292.1Z" fill="#d62728"/>
<path d="M575.3,298.8L580.5,298.8L577.9,294.3Z" fill="#d62728" fill-opacity="0.60"/>
<path d="M577.5,298.8L582.7,298.8L580.1,294.3Z" fill="#d62728" fill-opacity="0.75"/>
<path d="M579.8,294.9L585.0,294.9L582.4,299.4Z" fill="#d62728"/>
<path d="M570.8,298.0L576.0,298.0L573.4,293.5Z" fill="#d62728" fill-opacity="0.75"/>
<path d="M564.4,295.6L569.6,295.6L567.0,291.1Z" fill="#d62728" fill-opacity="0.75"/>
<path d="M575.6,297.8L580.8,297.8L578.2,293.3Z" fill="#d62728" fill-opacity="0.75"/>
<path d="M585.8,291.6L591.0,291.6L588.4,296.1Z" fill="#d62728"/>
<path d="M582.4,295.1L587.6,295.1L585.0,290.5Z" fill="#d62728"/>
<path d="M557.6,295.8L562.8,295.8L560.2,300.3Z" fill="#d62728"/>
<path d="M580.7,298.8L585.9,298.8L583.3,294.2Z" fill="#d62728" fill-opacity="0.60"/>
<path d="M553.1,292.6L558.3,292.6L555.7,288.1Z" fill="#d62728" fill-opacity="0.75"/>
<path d="M550.1,294.4L555.3,294.4L552.7,298.9Z" fill="#d62728"/>
<path d="M558.1,298.4L563.3,298.4L560.7,293.9Z" fill="#d62728" fill-opacity="0.60"/>
<path d="M560.5,292.8L565.7,292.8L563.1,297.4Z" fill="#d62728"/>
<path d="M583.3,292.6L588.5,292.6L585.9,288.1Z" fill="#d62728" fill-opacity="0.75"/>
<path d="M551.3,296.5L556.5,296.5L553.9,292.0Z" fill="#d62728"/>
<path d="M568.2,295.6L573.4,295.6L570.8,291.1Z" fill="#d62728"/>
<path d="M580.7,295.7L585.9,295.7L583.3,300.2Z" fill="#d62728" fill-opacity="0.60"/>
<circle cx="584.9" cy="297.9" r="2.3" fill="#d62728"/>
<circle cx="568.2" cy="300.0" r="2.3" fill="#d62728"/>
<path d="M566.5,299.1L571.5,299.1L569.0,294.7Z" fill="#d62728"/>
<path d="M554.5,299.2L559.5,299.2L557.0,294.9Z" fill="#d62728"/>
<path d="M568.4,297.5L573.4,297.5L570.9,301.8Z" fill="#d62728"/>
<circle cx="578.0" cy="300.1" r="2.3" fill="#d62728"/>
<path d="M555.7,301.2L560.7,301.2L558.2,296.9Z" fill="#d62728"/>
<circle cx="553.5" cy="296.7" r="2.3" fill="#d62728"/>
<path d="M566.7,299.0L571.7,299.0L569.2,303.4Z" fill="#d62728"/>
<circle cx="563.5" cy="295.0" r="2.3" fill="#d62728"/>
<circle cx="553.3" cy="295.9" r="2.3" fill="#d62728"/>
<circle cx="584.6" cy="298.9" r="2.3" fill="#d62728"/>
<path d="M569.8,299.8L574.8,299.8L572.3,295.4Z" fill="#d62728"/>
<circle cx="557.5" cy="298.2" r="2.3" fill="#d62728"/>
<path d="M572.7,301.1L577.7,301.1L575.2,296.8Z" fill="#d62728"/>
<path d="M552.5,300.3L557.5,300.3L555.0,296.0Z" fill="#d62728"/>
<path d="M559.4,298.4L564.4,298.4L561.9,294.1Z" fill="#d62728"/>
<path d="M551.7,298.7L556.7,298.7L554.2,303.0Z" fill="#d62728"/>
<circle cx="558.7" cy="298.0" r="2.3" fill="#d62728"/>
<path d="M575.3,294.5L580.3,294.5L577.8,298.9Z" fill="#d62728"/>
<path d="M549.2,302.0L554.2,302.0L551.7,297.7Z" fill="#d62728"/>
<circle cx="584.8" cy="300.0" r="2.3" fill="#d62728"/>
<circle cx="554.9" cy="298.4" r="2.3" fill="#d62728"/>
<path d="M577.6,298.2L582.6,298.2L580.1,302.5Z" fill="#d62728"/>
<path d="M558.2,301.7L563.2,301.7L560.7,297.4Z" fill="#d62728"/>
<circle cx="559.7" cy="299.3" r="2.3" fill="#d62728"/>
<circle cx="589.9" cy="300.0" r="2.3" fill="#d62728"/>
<path d="M582.2,301.1L587.2,301.1L584.7,296.7Z" fill="#d62728"/>
<path d="M582.6,295.9L587.6,295.9L585.1,291.6Z" fill="#d62728"/>
<path d="M573.2,298.8L578.2,298.8L575.7,294.5Z" fill="#d62728"/>
<circle cx="552.4" cy="299.6" r="2.3" fill="#d62728"/>
<circle cx="572.8" cy="298.8" r="2.3" fill="#d62728"/>
<path d="M561.5,299.2L566.5,299.2L564.0,303.5Z" fill="#d62728"/>
<circle cx="566.9" cy="300.0" r="2.3" fill="#d62728"/>
<circle cx="550.8" cy="300.3" r="2.3" fill="#d62728"/>
<path d="M584.4,299.3L589.4,299.3L586.9,294.9Z" fill="#d62728"/>
<path d="M563.7,299.2L568.7,299.2L566.2,303.5Z" fill="#d62728"/>
<path d="M553.8,299.7L558.8,299.7L556.3,295.4Z" fill="#d62728"/>
<path d="M567.5,297.2L572.5,297.2L570.0,301.6Z" fill="#d62728"/>
<circle cx="562.8" cy="299.7" r="2.3" fill="#d62728"/>
<circle cx="567.8" cy="298.2" r="2.3" fill="#d62728"/>
<circle cx="561.0" cy="299.7" r="2.3" fill="#d62728"/>
<path d="M555.2,293.8L560.2,293.8L557.7,298.1Z" fill="#d62728"/>
<path d="M559.7,293.3L564.7,293.3L562.2,297.7Z" fill="#d62728"/>
<path d="M572.7,297.2L577.7,297.2L575.2,301.6Z" fill="#d62728"/>
<circle cx="564.8" cy="296.8" r="2.3" fill="#d62728"/>
<circle cx="558.3" cy="300.2" r="2.3" fill="#d62728"/>
<path d="M562.8,298.4L567.8,298.4L565.3,294.0Z" fill="#d62728"/>
<path d="M572.8,299.1L577.8,299.1L575.3,303.4Z" fill="#d62728"/>
<path d="M576.8,300.5L581.8,300.5L579.3,296.1Z" fill="#d62728"/>
<circle cx="554.1" cy="298.5" r="2.3" fill="#d62728"/>
<path d="M550.3,296.2L555.3,296.2L552.8,300.6Z" fill="#d62728"/>
<path d="M572.5,298.1L577.5,298.1L575.0,302.5Z" fill="#d62728"/>
<circle cx="572.1" cy="298.4" r="2.3" fill="#d62728"/>
<circle cx="580.5" cy="300.1" r="2.3" fill="#d62728"/>
<circle cx="552.5" cy="299.6" r="2.3" fill="#d62728"/>
<path d="M581.9,300.9L586.9,300.9L584.4,296.5Z" fill="#d62728"/>
<path d="M556.0,301.3L561.0,301.3L558.5,297.0Z" fill="#d62728"/>
<circle cx="576.3" cy="299.9" r="2.3" fill="#d62728"/>
<path d="M561.4,298.7L566.4,298.7L563.9,303.0Z" fill="#d62728"/>
<path d="M577.1,300.8L582.1,300.8L579.6,296.5Z" fill="#d62728"/>
<circle cx="557.9" cy="300.2" r="2.3" fill="#d62728"/>
<circle cx="572.4" cy="296.5" r="2.3" fill="#d62728"/>
<circle cx="572.6" cy="296.7" r="2.3" fill="#d62728"/>
<path d="M577.4,298.6L582.4,298.6L579.9,302.9Z" fill="#d62728"/>
<path d="M557.5,298.0L562.5,298.0L560.0,302.3Z" fill="#d62728"/>
<circle cx="569.0" cy="299.8" r="2.3" fill="#d62728"/>
<path d="M583.6,299.2L588.6,299.2L586.1,294.8Z" fill="#d62728"/>
<circle cx="573.6" cy="300.3" r="2.3" fill="#d62728"/>
<path d="M556.8,301.4L561.8,301.4L559.3,297.0Z" fill="#d62728"/>
<text x="0" y="0" font-size="8.8" text-anchor="end" transform="translate(555.3,309.2) rotate(-45)">Musculoskeletal</text>
<path d="M603.7,297.6L608.9,297.6L606.3,293.1Z" fill="#9467bd"/>
<path d="M599.7,298.3L604.9,298.3L602.3,293.8Z" fill="#9467bd"/>
<path d="M601.9,296.7L607.1,296.7L604.5,292.2Z" fill="#9467bd"/>
<path d="M599.9,296.7L605.1,296.7L602.5,292.1Z" fill="#9467bd"/>
<path d="M595.2,296.5L600.4,296.5L597.8,292.0Z" fill="#9467bd"/>
<path d="M603.2,298.1L608.4,298.1L605.8,293.6Z" fill="#9467bd" fill-opacity="0.60"/>
<path d="M597.4,291.6L602.6,291.6L600.0,296.1Z" fill="#9467bd"/>
<path d="M600.2,301.5L605.2,301.5L602.7,297.1Z" fill="#9467bd"/>
<path d="M600.0,297.8L605.0,297.8L602.5,302.1Z" fill="#9467bd"/>
<path d="M601.7,299.1L606.7,299.1L604.2,294.7Z" fill="#9467bd"/>
<path d="M593.1,299.5L598.1,299.5L595.6,295.2Z" fill="#9467bd"/>
<path d="M592.6,302.0L597.6,302.0L595.1,297.6Z" fill="#9467bd"/>
<circle cx="597.3" cy="300.3" r="2.3" fill="#9467bd"/>
<circle cx="603.8" cy="298.9" r="2.3" fill="#9467bd"/>
<circle cx="605.5" cy="298.5" r="2.3" fill="#9467bd"/>
<path d="M597.9,301.5L602.9,301.5L600.4,297.2Z" fill="#9467bd"/>
<circle cx="595.9" cy="299.4" r="2.3" fill="#9467bd"/>
<path d="M601.2,301.7L606.2,301.7L603.7,297.4Z" fill="#9467bd"/>
<path d="M601.3,296.8L606.3,296.8L603.8,301.1Z" fill="#9467bd"/>
<path d="M596.0,302.0L601.0,302.0L598.5,297.6Z" fill="#9467bd"/>
<circle cx="605.1" cy="299.7" r="2.3" fill="#9467bd"/>
<path d="M600.8,301.9L605.8,301.9L603.3,297.6Z" fill="#9467bd"/>
<circle cx="601.9" cy="300.2" r="2.3" fill="#9467bd"/>
<circle cx="604.4" cy="299.9" r="2.3" fill="#9467bd"/>
<path d="M598.7,301.8L603.7,301.8L601.2,297.4Z" fill="#9467bd"/>
<circle cx="601.0" cy="298.6" r="2.3" fill="#9467bd"/>
<path d="M603.2,296.0L608.2,296.0L605.7,300.3Z" fill="#9467bd"/>
<circle cx="598.6" cy="298.6" r="2.3" fill="#9467bd"/>
<path d="M601.6,297.6L606.6,297.6L604.1,293.2Z" fill="#9467bd"/>
<circle cx="601.2" cy="296.4" r="2.3" fill="#9467bd"/>
<circle cx="596.3" cy="297.2" r="2.3" fill="#9467bd"/>
<path d="M598.0,299.0L603.0,299.0L600.5,303.3Z" fill="#9467bd"/>
<text x="0" y="0" font-size="8.8" text-anchor="end" transform="translate(597.3,308.7) rotate(-45)">Congenital anomalies</text>
<path d="M609.9,297.9L615.1,297.9L612.5,293.3Z" fill="#8c564b" fill-opacity="0.60"/>
<path d="M609.8,297.4L615.0,297.4L612.4,292.9Z" fill="#8c564b" fill-opacity="0.75"/>
<path d="M611.9,293.1L617.1,293.1L614.5,297.6Z" fill="#8c564b"/>
<path d="M609.9,295.1L615.1,295.1L612.5,290.6Z" fill="#8c564b" fill-opacity="0.75"/>
<path d="M610.9,294.4L616.1,294.4L613.5,298.9Z" fill="#8c564b" fill-opacity="0.60"/>
<path d="M613.7,295.2L618.9,295.2L616.3,299.7Z" fill="#8c564b" fill-opacity="0.75"/>
<circle cx="613.6" cy="298.3" r="2.3" fill="#8c564b"/>
<path d="M608.8,302.1L613.8,302.1L611.3,297.7Z" fill="#8c564b"/>
<circle cx="612.2" cy="299.6" r="2.3" fill="#8c564b"/>
<path d="M608.6,298.1L613.6,298.1L611.1,302.4Z" fill="#8c564b"/>
<path d="M616.2,298.5L621.2,298.5L618.7,294.1Z" fill="#8c564b"/>
<path d="M611.9,301.4L616.9,301.4L614.4,297.0Z" fill="#8c564b"/>
<path d="M614.0,297.4L619.0,297.4L616.5,301.7Z" fill="#8c564b"/>
<circle cx="617.0" cy="298.9" r="2.3" fill="#8c564b"/>
<circle cx="610.9" cy="297.6" r="2.3" fill="#8c564b"/>
<path d="M610.9,301.5L615.9,301.5L613.4,297.1Z" fill="#8c564b"/>
<path d="M611.5,301.9L616.5,301.9L614.0,297.6Z" fill="#8c564b"/>
<circle cx="612.2" cy="299.1" r="2.3" fill="#8c564b"/>
<circle cx="615.9" cy="298.6" r="2.3" fill="#8c564b"/>
<circle cx="610.9" cy="299.7" r="2.3" fill="#8c564b"/>
<circle cx="618.9" cy="300.0" r="2.3" fill="#8c564b"/>
<circle cx="612.2" cy="296.0" r="2.3" fill="#8c564b"/>
<path d="M609.3,298.1L614.3,298.1L611.8,302.4Z" fill="#8c564b"/>
<circle cx="618.2" cy="299.2" r="2.3" fill="#8c564b"/>
<path d="M607.8,294.8L612.8,294.8L610.3,299.2Z" fill="#8c564b"/>
<circle cx="613.1" cy="299.5" r="2.3" fill="#8c564b"/>
<text x="0" y="0" font-size="8.8" text-anchor="end" transform="translate(613.6,310.2) rotate(-45)">Symptoms</text>
<path d="M660.5,296.7L665.7,296.7L663.1,292.2Z" fill="#e377c2"/>
<path d="M653.1,291.6L658.3,291.6L655.7,296.1Z" fill="#e377c2"/>
<path d="M621.4,291.6L626.6,291.6L624.0,296.1Z" fill="#e377c2"/>
<path d="M644.0,298.5L649.2,298.5L646.6,294.0Z" fill="#e377c2" fill-opacity="0.75"/>
<path d="M620.9,294.7L626.1,294.7L623.5,299.2Z" fill="#e377c2" fill-opacity="0.60"/>
<path d="M632.5,296.1L637.7,296.1L635.1,300.6Z" fill="#e377c2" fill-opacity="0.75"/>
<path d="M626.3,292.9L631.5,292.9L628.9,297.4Z" fill="#e377c2" fill-opacity="0.60"/>
<path d="M635.2,296.9L640.4,296.9L637.8,292.4Z" fill="#e377c2" fill-opacity="0.60"/>
<path d="M630.7,294.8L635.9,294.8L633.3,299.3Z" fill="#e377c2" fill-opacity="0.75"/>
<path d="M644.3,295.6L649.5,295.6L646.9,300.1Z" fill="#e377c2" fill-opacity="0.75"/>
<path d="M661.4,299.1L666.6,299.1L664.0,294.5Z" fill="#e377c2" fill-opacity="0.60"/>
<path d="M653.7,296.8L658.9,296.8L656.3,292.3Z" fill="#e377c2" fill-opacity="0.75"/>
<path d="M646.1,298.8L651.3,298.8L648.7,294.3Z" fill="#e377c2" fill-opacity="0.75"/>
<path d="M655.6,297.4L660.8,297.4L658.2,292.9Z" fill="#e377c2"/>
<path d="M654.8,295.6L660.0,295.6L657.4,300.1Z" fill="#e377c2"/>
<path d="M638.8,291.6L644.0,291.6L641.4,296.1Z" fill="#e377c2"/>
<path d="M662.6,294.6L667.8,294.6L665.2,290.1Z" fill="#e377c2"/>
<path d="M656.0,297.1L661.2,297.1L658.6,292.5Z" fill="#e377c2" fill-opacity="0.60"/>
<path d="M623.6,295.3L628.8,295.3L626.2,299.8Z" fill="#e377c2"/>
<path d="M642.1,299.1L647.3,299.1L644.7,294.5Z" fill="#e377c2"/>
<path d="M644.9,298.5L650.1,298.5L647.5,294.0Z" fill="#e377c2"/>
<path d="M633.8,294.6L639.0,294.6L636.4,290.1Z" fill="#e377c2" fill-opacity="0.60"/>
<circle cx="652.8" cy="297.6" r="2.3" fill="#e377c2"/>
<path d="M660.0,298.0L665.0,298.0L662.5,302.4Z" fill="#e377c2"/>
<path d="M666.8,297.5L671.8,297.5L669.3,301.9Z" fill="#e377c2"/>
<circle cx="634.3" cy="297.2" r="2.3" fill="#e377c2"/>
<path d="M651.4,299.2L656.4,299.2L653.9,303.5Z" fill="#e377c2"/>
<circle cx="642.9" cy="297.5" r="2.3" fill="#e377c2"/>
<circle cx="637.0" cy="298.9" r="2.3" fill="#e377c2"/>
<circle cx="637.5" cy="296.2" r="2.3" fill="#e377c2"/>
<path d="M640.4,296.8L645.4,296.8L642.9,301.2Z" fill="#e377c2"/>
<path d="M654.5,299.5L659.5,299.5L657.0,295.2Z" fill="#e377c2"/>
<path d="M641.3,301.0L646.3,301.0L643.8,296.7Z" fill="#e377c2"/>
<path d="M646.5,300.6L651.5,300.6L649.0,296.3Z" fill="#e377c2"/>
<path d="M620.6,301.7L625.6,301.7L623.1,297.3Z" fill="#e377c2"/>
<path d="M662.9,296.9L667.9,296.9L665.4,301.2Z" fill="#e377c2"/>
<circle cx="635.8" cy="296.1" r="2.3" fill="#e377c2"/>
<path d="M634.2,298.7L639.2,298.7L636.7,303.0Z" fill="#e377c2"/>
<path d="M659.1,301.4L664.1,301.4L661.6,297.1Z" fill="#e377c2"/>
<circle cx="640.6" cy="299.2" r="2.3" fill="#e377c2"/>
<circle cx="661.3" cy="299.6" r="2.3" fill="#e377c2"/>
<circle cx="634.8" cy="297.3" r="2.3" fill="#e377c2"/>
<circle cx="650.1" cy="297.5" r="2.3" fill="#e377c2"/>
<path d="M664.5,297.5L669.5,297.5L667.0,301.8Z" fill="#e377c2"/>
<path d="M661.5,298.5L666.5,298.5L664.0,302.8Z" fill="#e377c2"/>
<path d="M665.4,300.5L670.4,300.5L667.9,296.2Z" fill="#e377c2"/>
<path d="M664.9,297.8L669.9,297.8L667.4,302.2Z" fill="#e377c2"/>
<path d="M660.6,301.8L665.6,301.8L663.1,297.5Z" fill="#e377c2"/>
<path d="M642.4,300.2L647.4,300.2L644.9,295.8Z" fill="#e377c2"/>
<circle cx="634.6" cy="299.9" r="2.3" fill="#e377c2"/>
<circle cx="623.9" cy="297.0" r="2.3" fill="#e377c2"/>
<path d="M662.9,298.7L667.9,298.7L665.4,303.0Z" fill="#e377c2"/>
<path d="M633.7,300.5L638.7,300.5L636.2,296.2Z" fill="#e377c2"/>
<path d="M665.2,301.0L670.2,301.0L667.7,296.6Z" fill="#e377c2"/>
<circle cx="657.3" cy="299.2" r="2.3" fill="#e377c2"/>
<circle cx="638.5" cy="298.6" r="2.3" fill="#e377c2"/>
<path d="M627.7,301.3L632.7,301.3L630.2,297.0Z" fill="#e377c2"/>
<circle cx="656.4" cy="299.8" r="2.3" fill="#e377c2"/>
<path d="M666.3,296.8L671.3,296.8L668.8,301.2Z" fill="#e377c2"/>
<circle cx="666.7" cy="298.1" r="2.3" fill="#e377c2"/>
<circle cx="650.7" cy="298.5" r="2.3" fill="#e377c2"/>
<circle cx="652.1" cy="299.5" r="2.3" fill="#e377c2"/>
<circle cx="658.3" cy="298.4" r="2.3" fill="#e377c2"/>
<path d="M660.0,301.1L665.0,301.1L662.5,296.8Z" fill="#e377c2"/>
<circle cx="654.2" cy="300.1" r="2.3" fill="#e377c2"/>
<circle cx="667.9" cy="297.5" r="2.3" fill="#e377c2"/>
<circle cx="635.5" cy="298.4" r="2.3" fill="#e377c2"/>
<path d="M631.6,294.3L636.6,294.3L634.1,298.7Z" fill="#e377c2"/>
<path d="M664.7,300.5L669.7,300.5L667.2,296.1Z" fill="#e377c2"/>
<path d="M652.9,301.2L657.9,301.2L655.4,296.9Z" fill="#e377c2"/>
<circle cx="625.0" cy="299.6" r="2.3" fill="#e377c2"/>
<circle cx="636.2" cy="298.8" r="2.3" fill="#e377c2"/>
<circle cx="623.8" cy="296.9" r="2.3" fill="#e377c2"/>
<path d="M624.6,301.6L629.6,301.6L627.1,297.2Z" fill="#e377c2"/>
<path d="M626.7,297.4L631.7,297.4L629.2,301.8Z" fill="#e377c2"/>
<circle cx="647.4" cy="300.2" r="2.3" fill="#e377c2"/>
<path d="M621.4,301.2L626.4,301.2L623.9,296.9Z" fill="#e377c2"/>
<path d="M640.6,300.2L645.6,300.2L643.1,295.9Z" fill="#e377c2"/>
<path d="M623.6,294.7L628.6,294.7L626.1,299.0Z" fill="#e377c2"/>
<path d="M654.8,300.1L659.8,300.1L657.3,295.8Z" fill="#e377c2"/>
<path d="M628.2,300.7L633.2,300.7L630.7,296.3Z" fill="#e377c2"/>
<circle cx="636.5" cy="298.6" r="2.3" fill="#e377c2"/>
<path d="M656.3,297.5L661.3,297.5L658.8,301.8Z" fill="#e377c2"/>
<circle cx="636.4" cy="300.1" r="2.3" fill="#e377c2"/>
<path d="M620.2,298.7L625.2,298.7L622.7,303.0Z" fill="#e377c2"/>
<path d="M645.9,299.0L650.9,299.0L648.4,303.3Z" fill="#e377c2"/>
<path d="M652.4,300.3L657.4,300.3L654.9,296.0Z" fill="#e377c2"/>
<circle cx="653.5" cy="299.0" r="2.3" fill="#e377c2"/>
<circle cx="653.6" cy="299.7" r="2.3" fill="#e377c2"/>
<circle cx="647.5" cy="298.0" r="2.3" fill="#e377c2"/>
<circle cx="634.1" cy="300.1" r="2.3" fill="#e377c2"/>
<path d="M667.2,298.0L672.2,298.0L669.7,302.3Z" fill="#e377c2"/>
<circle cx="659.1" cy="298.3" r="2.3" fill="#e377c2"/>
<circle cx="658.4" cy="299.9" r="2.3" fill="#e377c2"/>
<path d="M642.3,298.8L647.3,298.8L644.8,303.2Z" fill="#e377c2"/>
<path d="M644.1,299.5L649.1,299.5L646.6,295.1Z" fill="#e377c2"/>
<circle cx="653.9" cy="297.7" r="2.3" fill="#e377c2"/>
<circle cx="646.8" cy="299.1" r="2.3" fill="#e377c2"/>
<path d="M628.6,300.9L633.6,300.9L631.1,296.5Z" fill="#e377c2"/>
<path d="M649.3,295.7L654.3,295.7L651.8,300.0Z" fill="#e377c2"/>
<path d="M628.6,300.8L633.6,300.8L631.1,296.5Z" fill="#e377c2"/>
<circle cx="630.5" cy="300.0" r="2.3" fill="#e377c2"/>
<text x="0" y="0" font-size="8.8" text-anchor="end" transform="translate(626.3,309.0) rotate(-45)">Injuries and poisonings</text>
<path d="M152.8,278.8L158.8,278.8L155.8,284.0Z" fill="#2ca02c"/>
<path d="M212.0,280.8L218.0,280.8L215.0,286.0Z" fill="#9467bd"/>
<path d="M339.6,277.2L345.6,277.2L342.6,272.0Z" fill="#7f7f7f"/>
<path d="M345.4,286.9L350.9,286.9L348.1,282.1Z" fill="#7f7f7f" fill-opacity="0.85"/>
<path d="M336.2,291.0L341.8,291.0L339.0,286.2Z" fill="#7f7f7f" fill-opacity="0.70"/>
<path d="M386.9,288.3L392.4,288.3L389.7,283.5Z" fill="#17becf"/>
<path d="M401.9,280.7L407.4,280.7L404.6,275.9Z" fill="#17becf"/>
<path d="M401.2,285.1L406.8,285.1L404.0,280.3Z" fill="#17becf" fill-opacity="0.80"/>
<path d="M430.4,279.6L435.9,279.6L433.1,274.8Z" fill="#17becf"/>
<path d="M431.9,287.3L437.4,287.3L434.6,282.5Z" fill="#17becf" fill-opacity="0.80"/>
<path d="M437.2,288.3L442.8,288.3L440.0,283.5Z" fill="#17becf" fill-opacity="0.80"/>
<path d="M481.1,282.9L486.6,282.9L483.9,278.1Z" fill="#1f77b4"/>
<path d="M478.8,285.6L484.2,285.6L481.5,280.8Z" fill="#1f77b4" fill-opacity="0.80"/>
<path d="M504.1,289.4L509.6,289.4L506.9,284.6Z" fill="#ff7f0e"/>
<path d="M580.2,283.9L585.8,283.9L583.0,288.7Z" fill="#d62728"/>
<path d="M563.2,287.6L568.8,287.6L566.0,292.4Z" fill="#d62728"/>
<path d="M578.5,288.6L583.5,288.6L581.0,292.9Z" fill="#d62728"/>
<path d="M182.2,286.6L187.8,286.6L185.0,281.8Z" fill="#d62728" fill-opacity="0.80"/>
<path d="M187.5,290.4L192.5,290.4L190.0,286.1Z" fill="#d62728" fill-opacity="0.60"/>
<path d="M105.4,285.5L110.6,285.5L108.0,290.0Z" fill="#ff7f0e"/>
<path d="M101.5,289.4L106.5,289.4L104.0,285.1Z" fill="#ff7f0e" fill-opacity="0.70"/>
<path d="M157.8,256.5L164.2,256.5L161.0,250.8Z" fill="#2ca02c"/>
<line x1="155.30" y1="247.50" x2="160.00" y2="253.50" stroke="#333" stroke-width="0.6"/>
<line x1="162.50" y1="255.50" x2="167.60" y2="258.30" stroke="#333" stroke-width="0.6"/>
<line x1="160.50" y1="256.50" x2="159.40" y2="261.80" stroke="#333" stroke-width="0.6"/>
<text x="153.3" y="244.3" font-size="8.1" textLength="105.2" lengthAdjust="spacingAndGlyphs">Disorders of lipoid metabolism</text>
<text x="170.7" y="259.6" font-size="8.1" textLength="52.7" lengthAdjust="spacingAndGlyphs">Hyperlipidemia</text>
<text x="154.7" y="270.8" font-size="8.1" textLength="76.2" lengthAdjust="spacingAndGlyphs">Hypercholesterolemia</text>
<path d="M291.1,247.5L297.6,247.5L294.4,253.2Z" fill="#7f7f7f"/>
<line x1="286.00" y1="234.80" x2="293.50" y2="248.00" stroke="#555" stroke-width="0.6"/>
<line x1="300.80" y1="241.40" x2="295.50" y2="248.00" stroke="#555" stroke-width="0.6"/>
<text x="282.8" y="231.7" font-size="8.1" textLength="77.1" lengthAdjust="spacingAndGlyphs">Essential hypertension</text>
<text x="301.6" y="239.4" font-size="8.1" textLength="45.8" lengthAdjust="spacingAndGlyphs">Hypertension</text>
<path d="M427.1,232.1L433.6,232.1L430.3,226.4Z" fill="#17becf"/>
<line x1="433.00" y1="229.00" x2="437.50" y2="228.30" stroke="#333" stroke-width="0.6"/>
<text x="440.0" y="231.1" font-size="8.1" textLength="104.5" lengthAdjust="spacingAndGlyphs">Cholelithiasis and cholecystitis</text>
<text x="424.2" y="242.3" font-size="8.1" textLength="46.8" lengthAdjust="spacingAndGlyphs">Cholelithiasis</text>
<text x="425.4" y="251.7" font-size="8.1" textLength="127.5" lengthAdjust="spacingAndGlyphs">Cholelithiasis with other cholecystitis</text>
<path d="M429.1,255.1L435.6,255.1L432.4,260.8Z" fill="#17becf"/>
<path d="M399.1,260.8L405.6,260.8L402.4,255.1Z" fill="#17becf"/>
<path d="M397.9,272.2L404.4,272.2L401.1,266.5Z" fill="#17becf"/>
<line x1="403.50" y1="260.50" x2="409.00" y2="267.60" stroke="#333" stroke-width="0.6"/>
<line x1="403.00" y1="271.00" x2="409.00" y2="273.40" stroke="#333" stroke-width="0.6"/>
<text x="411.2" y="268.3" font-size="8.1" textLength="51.8" lengthAdjust="spacingAndGlyphs">Duodenal ulcer</text>
<text x="411.2" y="275.8" font-size="8.1" textLength="105.1" lengthAdjust="spacingAndGlyphs">Peptic ulcer (excl. esophageal)</text>
<text x="0.2" y="400.8" font-size="13" font-weight="bold" fill="#000" stroke="#000" stroke-width="0.3">d</text>
<circle cx="110.9" cy="469.1" r="47.1" fill="#efefef"/>
<path d="M110.90,469.10 L110.90,422.00 A47.1,47.1 0 0 0 79.69,433.82 Z" fill="#dc0000"/>
<path d="M110.90,469.10 L79.69,433.82 A47.1,47.1 0 0 0 73.63,440.30 Z" fill="#b58bbd"/>
<path d="M110.90,469.10 L73.63,440.30 A47.1,47.1 0 0 0 72.60,496.52 Z" fill="#6e4170"/>
<path d="M110.90,469.10 L72.60,496.52 A47.1,47.1 0 0 0 101.75,515.30 Z" fill="#0383da"/>
<text x="74.5" y="420.2" font-size="8.3" fill="#231f20"><tspan font-style="italic">n</tspan> = 88</text>
<text x="45.4" y="437.8" font-size="8.3" fill="#231f20"><tspan font-style="italic">n</tspan> = 24</text>
<text x="31.5" y="473.8" font-size="8.3" fill="#231f20"><tspan font-style="italic">n</tspan> = 160</text>
<text x="60.3" y="519.2" font-size="8.3" fill="#231f20"><tspan font-style="italic">n</tspan> = 92</text>
<line x1="97.30" y1="496.50" x2="279.30" y2="496.50" stroke="#3f4b63" stroke-width="1.3"/>
<path d="M278.8,494.1 L283.8,496.5 L278.8,498.9 Z" fill="#3f4b63"/>
<text x="158.5" y="418.9" font-size="7.9" textLength="64.5" lengthAdjust="spacingAndGlyphs">779 metabolites</text>
<text x="158.5" y="429.1" font-size="7.9" textLength="70.3" lengthAdjust="spacingAndGlyphs">measured in both</text>
<text x="158.5" y="439.3" font-size="7.9" textLength="69.6" lengthAdjust="spacingAndGlyphs">plasma and urine</text>
<text x="314.5" y="401.9" font-size="13" font-weight="bold" fill="#000" stroke="#000" stroke-width="0.3">e</text>
<path d="M644.3,398.2 H347.7 V552.5 H644.3" fill="none" stroke="#c8c8c8" stroke-width="0.9"/>
<line x1="644.30" y1="398.20" x2="644.30" y2="552.50" stroke="#8a8ad8" stroke-width="0.9"/>
<line x1="344.30" y1="546.20" x2="347.70" y2="546.20" stroke="#999" stroke-width="0.8"/>
<text x="341.3" y="549.1" font-size="7.9" text-anchor="end">0</text>
<line x1="344.30" y1="523.77" x2="347.70" y2="523.77" stroke="#999" stroke-width="0.8"/>
<text x="341.3" y="526.7" font-size="7.9" text-anchor="end">10</text>
<line x1="344.30" y1="501.33" x2="347.70" y2="501.33" stroke="#999" stroke-width="0.8"/>
<text x="341.3" y="504.2" font-size="7.9" text-anchor="end">20</text>
<line x1="344.30" y1="478.90" x2="347.70" y2="478.90" stroke="#999" stroke-width="0.8"/>
<text x="341.3" y="481.8" font-size="7.9" text-anchor="end">30</text>
<line x1="344.30" y1="456.47" x2="347.70" y2="456.47" stroke="#999" stroke-width="0.8"/>
<text x="341.3" y="459.4" font-size="7.9" text-anchor="end">40</text>
<line x1="344.30" y1="434.04" x2="347.70" y2="434.04" stroke="#999" stroke-width="0.8"/>
<text x="341.3" y="436.9" font-size="7.9" text-anchor="end">50</text>
<line x1="344.30" y1="411.60" x2="347.70" y2="411.60" stroke="#999" stroke-width="0.8"/>
<text x="341.3" y="414.5" font-size="7.9" text-anchor="end">60</text>
<line x1="644.30" y1="546.20" x2="648.60" y2="546.20" stroke="#7070e8" stroke-width="0.8"/>
<text x="651.8" y="549.1" font-size="7.9" fill="#5a5af0">0</text>
<line x1="644.30" y1="517.94" x2="648.60" y2="517.94" stroke="#7070e8" stroke-width="0.8"/>
<text x="651.8" y="520.8" font-size="7.9" fill="#5a5af0">20</text>
<line x1="644.30" y1="489.68" x2="648.60" y2="489.68" stroke="#7070e8" stroke-width="0.8"/>
<text x="651.8" y="492.6" font-size="7.9" fill="#5a5af0">40</text>
<line x1="644.30" y1="461.42" x2="648.60" y2="461.42" stroke="#7070e8" stroke-width="0.8"/>
<text x="651.8" y="464.3" font-size="7.9" fill="#5a5af0">60</text>
<line x1="644.30" y1="433.16" x2="648.60" y2="433.16" stroke="#7070e8" stroke-width="0.8"/>
<text x="651.8" y="436.1" font-size="7.9" fill="#5a5af0">80</text>
<line x1="644.30" y1="404.90" x2="648.60" y2="404.90" stroke="#7070e8" stroke-width="0.8"/>
<text x="651.8" y="407.8" font-size="7.9" fill="#5a5af0">100</text>
<text x="0" y="0" font-size="8.6" text-anchor="middle" fill="#231f20" transform="translate(322.4,475.6) rotate(-90)">−log<tspan font-size="5.8" dy="2">10</tspan><tspan dy="-2"> (</tspan><tspan font-style="italic">P</tspan> value)</text>
<text x="0" y="0" font-size="8.6" text-anchor="middle" fill="#5252f0" textLength="131.0" lengthAdjust="spacingAndGlyphs" transform="translate(671.3,476.0) rotate(90)">Recombination rate (cM per Mb)</text>
<text x="349.0" y="409.9" font-size="8.6" textLength="116.0" lengthAdjust="spacingAndGlyphs">AQP-7 p.Gly264Val: glycerol</text>
<text x="500.4" y="411.4" font-size="7.9" textLength="41.0" lengthAdjust="spacingAndGlyphs">rs62542743</text>
<path d="M348.5,545.6 L398.3,545.6 L398.5,505.0 L398.9,497.0 L399.6,494.2 L400.3,494.2 L401.0,497.0 L401.3,505.0 L401.5,545.6 L422.6,545.6 L423.3,536.0 L424.0,545.6 L517.0,545.6 L517.3,525.0 L517.6,517.5 L518.3,517.5 L518.7,525.0 L519.0,545.6 L600.0,545.6 L602.0,540.0 L605.0,538.5 L607.0,545.6 L628.5,545.6 L630.2,530.0 L631.1,519.6 L632.2,530.0 L633.5,543.0 L636.0,540.0 L638.0,545.6 L644.0,545.6" fill="none" stroke="#2626f0" stroke-width="0.9" stroke-linejoin="round"/>
<circle cx="532.3" cy="545.5" r="2.05" fill="#12125c" stroke="#06062a" stroke-width="0.3"/>
<circle cx="626.1" cy="546.2" r="2.05" fill="#12125c" stroke="#06062a" stroke-width="0.3"/>
<circle cx="358.0" cy="546.3" r="2.05" fill="#14145a" stroke="#06062a" stroke-width="0.3"/>
<circle cx="613.9" cy="543.6" r="2.05" fill="#12125c" stroke="#06062a" stroke-width="0.3"/>
<circle cx="421.9" cy="544.2" r="2.05" fill="#14145a" stroke="#06062a" stroke-width="0.3"/>
<circle cx="564.1" cy="542.0" r="2.05" fill="#12125c" stroke="#06062a" stroke-width="0.3"/>
<circle cx="604.1" cy="545.3" r="2.05" fill="#12125c" stroke="#06062a" stroke-width="0.3"/>
<circle cx="370.6" cy="543.5" r="2.05" fill="#2a2a4a" stroke="#06062a" stroke-width="0.3"/>
<circle cx="350.0" cy="538.2" r="2.05" fill="#2a2a4a" stroke="#06062a" stroke-width="0.3"/>
<circle cx="631.3" cy="541.9" r="2.05" fill="#12125c" stroke="#06062a" stroke-width="0.3"/>
<circle cx="441.6" cy="545.9" r="2.05" fill="#12125c" stroke="#06062a" stroke-width="0.3"/>
<circle cx="533.2" cy="546.4" r="2.05" fill="#12125c" stroke="#06062a" stroke-width="0.3"/>
<circle cx="407.3" cy="538.8" r="2.05" fill="#14145a" stroke="#06062a" stroke-width="0.3"/>
<circle cx="455.5" cy="541.8" r="2.05" fill="#12125c" stroke="#06062a" stroke-width="0.3"/>
<circle cx="368.6" cy="544.4" r="2.05" fill="#14145a" stroke="#06062a" stroke-width="0.3"/>
<circle cx="524.4" cy="541.4" r="2.05" fill="#12125c" stroke="#06062a" stroke-width="0.3"/>
<circle cx="453.8" cy="544.9" r="2.05" fill="#12125c" stroke="#06062a" stroke-width="0.3"/>
<circle cx="403.7" cy="542.0" r="2.05" fill="#3c3c4c" stroke="#06062a" stroke-width="0.3"/>
<circle cx="635.7" cy="545.2" r="2.05" fill="#12125c" stroke="#06062a" stroke-width="0.3"/>
<circle cx="597.5" cy="545.4" r="2.05" fill="#12125c" stroke="#06062a" stroke-width="0.3"/>
<circle cx="457.0" cy="541.1" r="2.05" fill="#12125c" stroke="#06062a" stroke-width="0.3"/>
<circle cx="363.2" cy="546.3" r="2.05" fill="#2a2a4a" stroke="#06062a" stroke-width="0.3"/>
<circle cx="384.4" cy="545.6" r="2.05" fill="#1c1c50" stroke="#06062a" stroke-width="0.3"/>
<circle cx="450.6" cy="543.9" r="2.05" fill="#12125c" stroke="#06062a" stroke-width="0.3"/>
<circle cx="577.1" cy="545.2" r="2.05" fill="#12125c" stroke="#06062a" stroke-width="0.3"/>
<circle cx="583.5" cy="541.2" r="2.05" fill="#12125c" stroke="#06062a" stroke-width="0.3"/>
<circle cx="627.1" cy="542.9" r="2.05" fill="#12125c" stroke="#06062a" stroke-width="0.3"/>
<circle cx="528.8" cy="538.7" r="2.05" fill="#12125c" stroke="#06062a" stroke-width="0.3"/>
<circle cx="620.8" cy="542.7" r="2.05" fill="#12125c" stroke="#06062a" stroke-width="0.3"/>
<circle cx="442.5" cy="541.4" r="2.05" fill="#12125c" stroke="#06062a" stroke-width="0.3"/>
<circle cx="393.2" cy="546.6" r="2.05" fill="#2a2a4a" stroke="#06062a" stroke-width="0.3"/>
<circle cx="560.9" cy="544.4" r="2.05" fill="#12125c" stroke="#06062a" stroke-width="0.3"/>
<circle cx="620.6" cy="545.1" r="2.05" fill="#12125c" stroke="#06062a" stroke-width="0.3"/>
<circle cx="450.4" cy="544.6" r="2.05" fill="#12125c" stroke="#06062a" stroke-width="0.3"/>
<circle cx="392.2" cy="539.7" r="2.05" fill="#1c1c50" stroke="#06062a" stroke-width="0.3"/>
<circle cx="447.6" cy="546.5" r="2.05" fill="#12125c" stroke="#06062a" stroke-width="0.3"/>
<circle cx="515.0" cy="546.0" r="2.05" fill="#12125c" stroke="#06062a" stroke-width="0.3"/>
<circle cx="471.0" cy="543.1" r="2.05" fill="#12125c" stroke="#06062a" stroke-width="0.3"/>
<circle cx="366.7" cy="541.8" r="2.05" fill="#2a2a4a" stroke="#06062a" stroke-width="0.3"/>
<circle cx="636.0" cy="543.7" r="2.05" fill="#12125c" stroke="#06062a" stroke-width="0.3"/>
<circle cx="563.6" cy="542.6" r="2.05" fill="#12125c" stroke="#06062a" stroke-width="0.3"/>
<circle cx="468.0" cy="543.1" r="2.05" fill="#12125c" stroke="#06062a" stroke-width="0.3"/>
<circle cx="639.6" cy="539.7" r="2.05" fill="#12125c" stroke="#06062a" stroke-width="0.3"/>
<circle cx="496.1" cy="541.5" r="2.05" fill="#12125c" stroke="#06062a" stroke-width="0.3"/>
<circle cx="429.4" cy="545.9" r="2.05" fill="#12125c" stroke="#06062a" stroke-width="0.3"/>
<circle cx="455.5" cy="545.3" r="2.05" fill="#12125c" stroke="#06062a" stroke-width="0.3"/>
<circle cx="553.4" cy="545.3" r="2.05" fill="#12125c" stroke="#06062a" stroke-width="0.3"/>
<circle cx="456.2" cy="542.6" r="2.05" fill="#12125c" stroke="#06062a" stroke-width="0.3"/>
<circle cx="492.0" cy="544.9" r="2.05" fill="#12125c" stroke="#06062a" stroke-width="0.3"/>
<circle cx="435.7" cy="539.8" r="2.05" fill="#12125c" stroke="#06062a" stroke-width="0.3"/>
<circle cx="519.9" cy="544.1" r="2.05" fill="#12125c" stroke="#06062a" stroke-width="0.3"/>
<circle cx="423.1" cy="543.6" r="2.05" fill="#3c3c4c" stroke="#06062a" stroke-width="0.3"/>
<circle cx="451.6" cy="545.1" r="2.05" fill="#12125c" stroke="#06062a" stroke-width="0.3"/>
<circle cx="592.6" cy="545.7" r="2.05" fill="#12125c" stroke="#06062a" stroke-width="0.3"/>
<circle cx="604.8" cy="546.5" r="2.05" fill="#12125c" stroke="#06062a" stroke-width="0.3"/>
<circle cx="630.2" cy="544.0" r="2.05" fill="#12125c" stroke="#06062a" stroke-width="0.3"/>
<circle cx="398.3" cy="546.2" r="2.05" fill="#1c1c50" stroke="#06062a" stroke-width="0.3"/>
<circle cx="432.5" cy="544.8" r="2.05" fill="#12125c" stroke="#06062a" stroke-width="0.3"/>
<circle cx="471.8" cy="546.2" r="2.05" fill="#12125c" stroke="#06062a" stroke-width="0.3"/>
<circle cx="501.1" cy="538.6" r="2.05" fill="#12125c" stroke="#06062a" stroke-width="0.3"/>
<circle cx="511.9" cy="538.4" r="2.05" fill="#12125c" stroke="#06062a" stroke-width="0.3"/>
<circle cx="641.8" cy="544.3" r="2.05" fill="#12125c" stroke="#06062a" stroke-width="0.3"/>
<circle cx="532.7" cy="545.3" r="2.05" fill="#12125c" stroke="#06062a" stroke-width="0.3"/>
<circle cx="402.5" cy="546.5" r="2.05" fill="#2a2a4a" stroke="#06062a" stroke-width="0.3"/>
<circle cx="398.1" cy="537.9" r="2.05" fill="#2a2a4a" stroke="#06062a" stroke-width="0.3"/>
<circle cx="491.2" cy="543.3" r="2.05" fill="#12125c" stroke="#06062a" stroke-width="0.3"/>
<circle cx="452.5" cy="541.4" r="2.05" fill="#12125c" stroke="#06062a" stroke-width="0.3"/>
<circle cx="409.5" cy="543.1" r="2.05" fill="#3c3c4c" stroke="#06062a" stroke-width="0.3"/>
<circle cx="468.5" cy="543.3" r="2.05" fill="#12125c" stroke="#06062a" stroke-width="0.3"/>
<circle cx="383.3" cy="543.1" r="2.05" fill="#14145a" stroke="#06062a" stroke-width="0.3"/>
<circle cx="510.9" cy="542.7" r="2.05" fill="#12125c" stroke="#06062a" stroke-width="0.3"/>
<circle cx="500.0" cy="538.5" r="2.05" fill="#12125c" stroke="#06062a" stroke-width="0.3"/>
<circle cx="452.7" cy="543.3" r="2.05" fill="#12125c" stroke="#06062a" stroke-width="0.3"/>
<circle cx="515.0" cy="543.6" r="2.05" fill="#12125c" stroke="#06062a" stroke-width="0.3"/>
<circle cx="395.5" cy="543.7" r="2.05" fill="#2a2a4a" stroke="#06062a" stroke-width="0.3"/>
<circle cx="633.6" cy="543.0" r="2.05" fill="#12125c" stroke="#06062a" stroke-width="0.3"/>
<circle cx="611.7" cy="541.6" r="2.05" fill="#12125c" stroke="#06062a" stroke-width="0.3"/>
<circle cx="515.6" cy="541.8" r="2.05" fill="#12125c" stroke="#06062a" stroke-width="0.3"/>
<circle cx="534.2" cy="538.8" r="2.05" fill="#12125c" stroke="#06062a" stroke-width="0.3"/>
<circle cx="476.2" cy="542.6" r="2.05" fill="#12125c" stroke="#06062a" stroke-width="0.3"/>
<circle cx="634.9" cy="546.4" r="2.05" fill="#12125c" stroke="#06062a" stroke-width="0.3"/>
<circle cx="617.7" cy="542.5" r="2.05" fill="#12125c" stroke="#06062a" stroke-width="0.3"/>
<circle cx="637.4" cy="543.3" r="2.05" fill="#12125c" stroke="#06062a" stroke-width="0.3"/>
<circle cx="443.2" cy="539.2" r="2.05" fill="#12125c" stroke="#06062a" stroke-width="0.3"/>
<circle cx="433.6" cy="541.7" r="2.05" fill="#12125c" stroke="#06062a" stroke-width="0.3"/>
<circle cx="532.0" cy="542.6" r="2.05" fill="#12125c" stroke="#06062a" stroke-width="0.3"/>
<circle cx="578.9" cy="541.1" r="2.05" fill="#12125c" stroke="#06062a" stroke-width="0.3"/>
<circle cx="505.8" cy="546.2" r="2.05" fill="#12125c" stroke="#06062a" stroke-width="0.3"/>
<circle cx="579.0" cy="542.5" r="2.05" fill="#12125c" stroke="#06062a" stroke-width="0.3"/>
<circle cx="394.9" cy="538.5" r="2.05" fill="#1c1c50" stroke="#06062a" stroke-width="0.3"/>
<circle cx="501.6" cy="540.6" r="2.05" fill="#12125c" stroke="#06062a" stroke-width="0.3"/>
<circle cx="612.2" cy="541.7" r="2.05" fill="#12125c" stroke="#06062a" stroke-width="0.3"/>
<circle cx="432.4" cy="544.4" r="2.05" fill="#12125c" stroke="#06062a" stroke-width="0.3"/>
<circle cx="564.1" cy="543.0" r="2.05" fill="#12125c" stroke="#06062a" stroke-width="0.3"/>
<circle cx="549.6" cy="541.7" r="2.05" fill="#12125c" stroke="#06062a" stroke-width="0.3"/>
<circle cx="350.3" cy="544.8" r="2.05" fill="#14145a" stroke="#06062a" stroke-width="0.3"/>
<circle cx="610.1" cy="541.1" r="2.05" fill="#12125c" stroke="#06062a" stroke-width="0.3"/>
<circle cx="578.0" cy="544.2" r="2.05" fill="#12125c" stroke="#06062a" stroke-width="0.3"/>
<circle cx="557.4" cy="543.7" r="2.05" fill="#12125c" stroke="#06062a" stroke-width="0.3"/>
<circle cx="617.1" cy="543.2" r="2.05" fill="#12125c" stroke="#06062a" stroke-width="0.3"/>
<circle cx="599.5" cy="542.7" r="2.05" fill="#12125c" stroke="#06062a" stroke-width="0.3"/>
<circle cx="593.1" cy="545.7" r="2.05" fill="#12125c" stroke="#06062a" stroke-width="0.3"/>
<circle cx="553.4" cy="542.6" r="2.05" fill="#12125c" stroke="#06062a" stroke-width="0.3"/>
<circle cx="578.6" cy="538.0" r="2.05" fill="#12125c" stroke="#06062a" stroke-width="0.3"/>
<circle cx="489.9" cy="543.8" r="2.05" fill="#12125c" stroke="#06062a" stroke-width="0.3"/>
<circle cx="446.6" cy="544.3" r="2.05" fill="#12125c" stroke="#06062a" stroke-width="0.3"/>
<circle cx="587.8" cy="542.3" r="2.05" fill="#12125c" stroke="#06062a" stroke-width="0.3"/>
<circle cx="590.1" cy="544.7" r="2.05" fill="#12125c" stroke="#06062a" stroke-width="0.3"/>
<circle cx="357.0" cy="546.5" r="2.05" fill="#1c1c50" stroke="#06062a" stroke-width="0.3"/>
<circle cx="555.3" cy="545.7" r="2.05" fill="#12125c" stroke="#06062a" stroke-width="0.3"/>
<circle cx="413.8" cy="546.3" r="2.05" fill="#2a2a4a" stroke="#06062a" stroke-width="0.3"/>
<circle cx="641.3" cy="543.5" r="2.05" fill="#12125c" stroke="#06062a" stroke-width="0.3"/>
<circle cx="403.2" cy="545.5" r="2.05" fill="#14145a" stroke="#06062a" stroke-width="0.3"/>
<circle cx="532.2" cy="541.6" r="2.05" fill="#12125c" stroke="#06062a" stroke-width="0.3"/>
<circle cx="460.8" cy="541.3" r="2.05" fill="#12125c" stroke="#06062a" stroke-width="0.3"/>
<circle cx="518.3" cy="545.9" r="2.05" fill="#12125c" stroke="#06062a" stroke-width="0.3"/>
<circle cx="388.9" cy="542.8" r="2.05" fill="#1c1c50" stroke="#06062a" stroke-width="0.3"/>
<circle cx="493.2" cy="538.8" r="2.05" fill="#12125c" stroke="#06062a" stroke-width="0.3"/>
<circle cx="365.9" cy="541.8" r="2.05" fill="#3c3c4c" stroke="#06062a" stroke-width="0.3"/>
<circle cx="616.7" cy="544.5" r="2.05" fill="#12125c" stroke="#06062a" stroke-width="0.3"/>
<circle cx="426.8" cy="542.4" r="2.05" fill="#12125c" stroke="#06062a" stroke-width="0.3"/>
<circle cx="569.8" cy="541.7" r="2.05" fill="#12125c" stroke="#06062a" stroke-width="0.3"/>
<circle cx="418.3" cy="545.1" r="2.05" fill="#2a2a4a" stroke="#06062a" stroke-width="0.3"/>
<circle cx="388.0" cy="542.9" r="2.05" fill="#14145a" stroke="#06062a" stroke-width="0.3"/>
<circle cx="376.3" cy="544.3" r="2.05" fill="#2a2a4a" stroke="#06062a" stroke-width="0.3"/>
<circle cx="463.9" cy="546.4" r="2.05" fill="#12125c" stroke="#06062a" stroke-width="0.3"/>
<circle cx="381.1" cy="544.0" r="2.05" fill="#1c1c50" stroke="#06062a" stroke-width="0.3"/>
<circle cx="365.2" cy="546.3" r="2.05" fill="#2a2a4a" stroke="#06062a" stroke-width="0.3"/>
<circle cx="569.5" cy="546.1" r="2.05" fill="#12125c" stroke="#06062a" stroke-width="0.3"/>
<circle cx="493.7" cy="544.9" r="2.05" fill="#12125c" stroke="#06062a" stroke-width="0.3"/>
<circle cx="459.8" cy="542.6" r="2.05" fill="#12125c" stroke="#06062a" stroke-width="0.3"/>
<circle cx="622.6" cy="545.5" r="2.05" fill="#12125c" stroke="#06062a" stroke-width="0.3"/>
<circle cx="460.5" cy="543.0" r="2.05" fill="#12125c" stroke="#06062a" stroke-width="0.3"/>
<circle cx="436.4" cy="546.4" r="2.05" fill="#12125c" stroke="#06062a" stroke-width="0.3"/>
<circle cx="455.8" cy="546.6" r="2.05" fill="#12125c" stroke="#06062a" stroke-width="0.3"/>
<circle cx="412.6" cy="541.4" r="2.05" fill="#14145a" stroke="#06062a" stroke-width="0.3"/>
<circle cx="359.2" cy="541.2" r="2.05" fill="#1c1c50" stroke="#06062a" stroke-width="0.3"/>
<circle cx="543.6" cy="543.4" r="2.05" fill="#12125c" stroke="#06062a" stroke-width="0.3"/>
<circle cx="437.7" cy="540.7" r="2.05" fill="#12125c" stroke="#06062a" stroke-width="0.3"/>
<circle cx="444.4" cy="542.1" r="2.05" fill="#12125c" stroke="#06062a" stroke-width="0.3"/>
<circle cx="541.3" cy="545.9" r="2.05" fill="#12125c" stroke="#06062a" stroke-width="0.3"/>
<circle cx="604.5" cy="544.1" r="2.05" fill="#12125c" stroke="#06062a" stroke-width="0.3"/>
<circle cx="381.9" cy="545.2" r="2.05" fill="#2a2a4a" stroke="#06062a" stroke-width="0.3"/>
<circle cx="359.2" cy="538.7" r="2.05" fill="#3c3c4c" stroke="#06062a" stroke-width="0.3"/>
<circle cx="442.3" cy="541.1" r="2.05" fill="#12125c" stroke="#06062a" stroke-width="0.3"/>
<circle cx="483.5" cy="541.9" r="2.05" fill="#12125c" stroke="#06062a" stroke-width="0.3"/>
<circle cx="580.0" cy="543.5" r="2.05" fill="#12125c" stroke="#06062a" stroke-width="0.3"/>
<circle cx="419.9" cy="537.6" r="2.05" fill="#14145a" stroke="#06062a" stroke-width="0.3"/>
<circle cx="518.2" cy="544.5" r="2.05" fill="#12125c" stroke="#06062a" stroke-width="0.3"/>
<circle cx="617.1" cy="544.8" r="2.05" fill="#12125c" stroke="#06062a" stroke-width="0.3"/>
<circle cx="403.6" cy="541.4" r="2.05" fill="#1c1c50" stroke="#06062a" stroke-width="0.3"/>
<circle cx="397.4" cy="544.8" r="2.05" fill="#14145a" stroke="#06062a" stroke-width="0.3"/>
<circle cx="539.1" cy="546.5" r="2.05" fill="#12125c" stroke="#06062a" stroke-width="0.3"/>
<circle cx="351.3" cy="545.4" r="2.05" fill="#1c1c50" stroke="#06062a" stroke-width="0.3"/>
<circle cx="399.3" cy="545.7" r="2.05" fill="#3c3c4c" stroke="#06062a" stroke-width="0.3"/>
<circle cx="625.2" cy="542.3" r="2.05" fill="#12125c" stroke="#06062a" stroke-width="0.3"/>
<circle cx="585.2" cy="543.6" r="2.05" fill="#12125c" stroke="#06062a" stroke-width="0.3"/>
<circle cx="549.9" cy="543.8" r="2.05" fill="#12125c" stroke="#06062a" stroke-width="0.3"/>
<circle cx="578.9" cy="545.7" r="2.05" fill="#12125c" stroke="#06062a" stroke-width="0.3"/>
<circle cx="480.4" cy="545.9" r="2.05" fill="#12125c" stroke="#06062a" stroke-width="0.3"/>
<circle cx="628.4" cy="544.9" r="2.05" fill="#12125c" stroke="#06062a" stroke-width="0.3"/>
<circle cx="537.5" cy="542.3" r="2.05" fill="#12125c" stroke="#06062a" stroke-width="0.3"/>
<circle cx="621.6" cy="541.5" r="2.05" fill="#12125c" stroke="#06062a" stroke-width="0.3"/>
<circle cx="638.6" cy="541.4" r="2.05" fill="#12125c" stroke="#06062a" stroke-width="0.3"/>
<circle cx="563.8" cy="543.5" r="2.05" fill="#12125c" stroke="#06062a" stroke-width="0.3"/>
<circle cx="454.5" cy="545.3" r="2.05" fill="#12125c" stroke="#06062a" stroke-width="0.3"/>
<circle cx="502.8" cy="541.1" r="2.05" fill="#12125c" stroke="#06062a" stroke-width="0.3"/>
<circle cx="571.4" cy="546.0" r="2.05" fill="#12125c" stroke="#06062a" stroke-width="0.3"/>
<circle cx="642.9" cy="541.8" r="2.05" fill="#12125c" stroke="#06062a" stroke-width="0.3"/>
<circle cx="491.3" cy="542.5" r="2.05" fill="#12125c" stroke="#06062a" stroke-width="0.3"/>
<circle cx="467.7" cy="544.0" r="2.05" fill="#12125c" stroke="#06062a" stroke-width="0.3"/>
<circle cx="487.9" cy="545.5" r="2.05" fill="#12125c" stroke="#06062a" stroke-width="0.3"/>
<circle cx="633.5" cy="542.5" r="2.05" fill="#12125c" stroke="#06062a" stroke-width="0.3"/>
<circle cx="494.1" cy="544.9" r="2.05" fill="#12125c" stroke="#06062a" stroke-width="0.3"/>
<circle cx="583.2" cy="540.6" r="2.05" fill="#12125c" stroke="#06062a" stroke-width="0.3"/>
<circle cx="370.6" cy="543.1" r="2.05" fill="#14145a" stroke="#06062a" stroke-width="0.3"/>
<circle cx="612.5" cy="545.3" r="2.05" fill="#12125c" stroke="#06062a" stroke-width="0.3"/>
<circle cx="518.2" cy="545.6" r="2.05" fill="#12125c" stroke="#06062a" stroke-width="0.3"/>
<circle cx="541.9" cy="540.0" r="2.05" fill="#12125c" stroke="#06062a" stroke-width="0.3"/>
<circle cx="555.3" cy="545.5" r="2.05" fill="#12125c" stroke="#06062a" stroke-width="0.3"/>
<circle cx="461.7" cy="541.4" r="2.05" fill="#12125c" stroke="#06062a" stroke-width="0.3"/>
<circle cx="399.2" cy="544.8" r="2.05" fill="#3c3c4c" stroke="#06062a" stroke-width="0.3"/>
<circle cx="359.5" cy="545.1" r="2.05" fill="#14145a" stroke="#06062a" stroke-width="0.3"/>
<circle cx="357.6" cy="541.7" r="2.05" fill="#3c3c4c" stroke="#06062a" stroke-width="0.3"/>
<circle cx="477.5" cy="546.3" r="2.05" fill="#12125c" stroke="#06062a" stroke-width="0.3"/>
<circle cx="354.4" cy="541.7" r="2.05" fill="#2a2a4a" stroke="#06062a" stroke-width="0.3"/>
<circle cx="446.5" cy="544.3" r="2.05" fill="#12125c" stroke="#06062a" stroke-width="0.3"/>
<circle cx="592.2" cy="541.5" r="2.05" fill="#12125c" stroke="#06062a" stroke-width="0.3"/>
<circle cx="505.1" cy="545.0" r="2.05" fill="#12125c" stroke="#06062a" stroke-width="0.3"/>
<circle cx="480.5" cy="540.3" r="2.05" fill="#12125c" stroke="#06062a" stroke-width="0.3"/>
<circle cx="384.2" cy="546.1" r="2.05" fill="#1c1c50" stroke="#06062a" stroke-width="0.3"/>
<circle cx="524.5" cy="541.3" r="2.05" fill="#12125c" stroke="#06062a" stroke-width="0.3"/>
<circle cx="545.6" cy="543.7" r="2.05" fill="#12125c" stroke="#06062a" stroke-width="0.3"/>
<circle cx="493.7" cy="541.7" r="2.05" fill="#12125c" stroke="#06062a" stroke-width="0.3"/>
<circle cx="599.1" cy="542.2" r="2.05" fill="#12125c" stroke="#06062a" stroke-width="0.3"/>
<circle cx="349.8" cy="538.3" r="2.05" fill="#3c3c4c" stroke="#06062a" stroke-width="0.3"/>
<circle cx="464.8" cy="542.6" r="2.05" fill="#12125c" stroke="#06062a" stroke-width="0.3"/>
<circle cx="408.5" cy="543.0" r="2.05" fill="#2a2a4a" stroke="#06062a" stroke-width="0.3"/>
<circle cx="457.1" cy="545.6" r="2.05" fill="#12125c" stroke="#06062a" stroke-width="0.3"/>
<circle cx="544.1" cy="537.7" r="2.05" fill="#12125c" stroke="#06062a" stroke-width="0.3"/>
<circle cx="494.6" cy="541.8" r="2.05" fill="#12125c" stroke="#06062a" stroke-width="0.3"/>
<circle cx="419.4" cy="541.5" r="2.05" fill="#1c1c50" stroke="#06062a" stroke-width="0.3"/>
<circle cx="378.5" cy="546.0" r="2.05" fill="#2a2a4a" stroke="#06062a" stroke-width="0.3"/>
<circle cx="583.3" cy="543.7" r="2.05" fill="#12125c" stroke="#06062a" stroke-width="0.3"/>
<circle cx="487.5" cy="541.5" r="2.05" fill="#12125c" stroke="#06062a" stroke-width="0.3"/>
<circle cx="407.9" cy="541.6" r="2.05" fill="#2a2a4a" stroke="#06062a" stroke-width="0.3"/>
<circle cx="588.2" cy="544.8" r="2.05" fill="#12125c" stroke="#06062a" stroke-width="0.3"/>
<circle cx="528.6" cy="543.8" r="2.05" fill="#12125c" stroke="#06062a" stroke-width="0.3"/>
<circle cx="509.6" cy="543.5" r="2.05" fill="#12125c" stroke="#06062a" stroke-width="0.3"/>
<circle cx="580.7" cy="546.2" r="2.05" fill="#12125c" stroke="#06062a" stroke-width="0.3"/>
<circle cx="513.1" cy="541.8" r="2.05" fill="#12125c" stroke="#06062a" stroke-width="0.3"/>
<circle cx="471.8" cy="537.6" r="2.05" fill="#12125c" stroke="#06062a" stroke-width="0.3"/>
<circle cx="575.5" cy="542.6" r="2.05" fill="#12125c" stroke="#06062a" stroke-width="0.3"/>
<circle cx="357.5" cy="544.4" r="2.05" fill="#1c1c50" stroke="#06062a" stroke-width="0.3"/>
<circle cx="439.5" cy="538.5" r="2.05" fill="#12125c" stroke="#06062a" stroke-width="0.3"/>
<circle cx="559.7" cy="545.2" r="2.05" fill="#12125c" stroke="#06062a" stroke-width="0.3"/>
<circle cx="546.1" cy="540.6" r="2.05" fill="#12125c" stroke="#06062a" stroke-width="0.3"/>
<circle cx="551.3" cy="545.1" r="2.05" fill="#12125c" stroke="#06062a" stroke-width="0.3"/>
<circle cx="528.8" cy="543.9" r="2.05" fill="#12125c" stroke="#06062a" stroke-width="0.3"/>
<circle cx="612.5" cy="546.5" r="2.05" fill="#12125c" stroke="#06062a" stroke-width="0.3"/>
<circle cx="509.2" cy="541.0" r="2.05" fill="#12125c" stroke="#06062a" stroke-width="0.3"/>
<circle cx="464.0" cy="544.7" r="2.05" fill="#12125c" stroke="#06062a" stroke-width="0.3"/>
<circle cx="613.5" cy="539.6" r="2.05" fill="#12125c" stroke="#06062a" stroke-width="0.3"/>
<circle cx="463.0" cy="544.9" r="2.05" fill="#12125c" stroke="#06062a" stroke-width="0.3"/>
<circle cx="511.9" cy="543.1" r="2.05" fill="#12125c" stroke="#06062a" stroke-width="0.3"/>
<circle cx="609.8" cy="542.7" r="2.05" fill="#12125c" stroke="#06062a" stroke-width="0.3"/>
<circle cx="428.1" cy="546.0" r="2.05" fill="#12125c" stroke="#06062a" stroke-width="0.3"/>
<circle cx="398.6" cy="545.3" r="2.05" fill="#2a2a4a" stroke="#06062a" stroke-width="0.3"/>
<circle cx="542.0" cy="544.5" r="2.05" fill="#12125c" stroke="#06062a" stroke-width="0.3"/>
<circle cx="537.3" cy="543.3" r="2.05" fill="#12125c" stroke="#06062a" stroke-width="0.3"/>
<circle cx="417.2" cy="544.3" r="2.05" fill="#2a2a4a" stroke="#06062a" stroke-width="0.3"/>
<circle cx="438.2" cy="544.4" r="2.05" fill="#12125c" stroke="#06062a" stroke-width="0.3"/>
<circle cx="633.2" cy="541.2" r="2.05" fill="#12125c" stroke="#06062a" stroke-width="0.3"/>
<circle cx="383.4" cy="544.4" r="2.05" fill="#2a2a4a" stroke="#06062a" stroke-width="0.3"/>
<circle cx="476.8" cy="541.6" r="2.05" fill="#12125c" stroke="#06062a" stroke-width="0.3"/>
<circle cx="580.4" cy="541.4" r="2.05" fill="#12125c" stroke="#06062a" stroke-width="0.3"/>
<circle cx="629.0" cy="543.9" r="2.05" fill="#12125c" stroke="#06062a" stroke-width="0.3"/>
<circle cx="370.9" cy="543.6" r="2.05" fill="#1c1c50" stroke="#06062a" stroke-width="0.3"/>
<circle cx="621.5" cy="544.9" r="2.05" fill="#12125c" stroke="#06062a" stroke-width="0.3"/>
<circle cx="596.3" cy="541.6" r="2.05" fill="#12125c" stroke="#06062a" stroke-width="0.3"/>
<circle cx="406.3" cy="541.5" r="2.05" fill="#2a2a4a" stroke="#06062a" stroke-width="0.3"/>
<circle cx="457.4" cy="544.2" r="2.05" fill="#12125c" stroke="#06062a" stroke-width="0.3"/>
<circle cx="479.0" cy="545.3" r="2.05" fill="#12125c" stroke="#06062a" stroke-width="0.3"/>
<circle cx="403.2" cy="539.4" r="2.05" fill="#14145a" stroke="#06062a" stroke-width="0.3"/>
<circle cx="456.7" cy="542.1" r="2.05" fill="#12125c" stroke="#06062a" stroke-width="0.3"/>
<circle cx="444.6" cy="546.0" r="2.05" fill="#12125c" stroke="#06062a" stroke-width="0.3"/>
<circle cx="639.4" cy="542.4" r="2.05" fill="#12125c" stroke="#06062a" stroke-width="0.3"/>
<circle cx="625.8" cy="541.0" r="2.05" fill="#12125c" stroke="#06062a" stroke-width="0.3"/>
<circle cx="637.2" cy="538.0" r="2.05" fill="#12125c" stroke="#06062a" stroke-width="0.3"/>
<circle cx="350.5" cy="542.9" r="2.05" fill="#14145a" stroke="#06062a" stroke-width="0.3"/>
<circle cx="493.5" cy="540.0" r="2.05" fill="#12125c" stroke="#06062a" stroke-width="0.3"/>
<circle cx="354.1" cy="546.6" r="2.05" fill="#2a2a4a" stroke="#06062a" stroke-width="0.3"/>
<circle cx="619.0" cy="542.6" r="2.05" fill="#12125c" stroke="#06062a" stroke-width="0.3"/>
<circle cx="495.9" cy="545.4" r="2.05" fill="#12125c" stroke="#06062a" stroke-width="0.3"/>
<circle cx="518.5" cy="542.9" r="2.05" fill="#12125c" stroke="#06062a" stroke-width="0.3"/>
<circle cx="598.4" cy="541.3" r="2.05" fill="#12125c" stroke="#06062a" stroke-width="0.3"/>
<circle cx="473.0" cy="544.7" r="2.05" fill="#12125c" stroke="#06062a" stroke-width="0.3"/>
<circle cx="371.0" cy="541.5" r="2.05" fill="#1c1c50" stroke="#06062a" stroke-width="0.3"/>
<circle cx="476.4" cy="545.7" r="2.05" fill="#12125c" stroke="#06062a" stroke-width="0.3"/>
<circle cx="600.6" cy="543.5" r="2.05" fill="#12125c" stroke="#06062a" stroke-width="0.3"/>
<circle cx="387.4" cy="545.6" r="2.05" fill="#2a2a4a" stroke="#06062a" stroke-width="0.3"/>
<circle cx="455.5" cy="542.4" r="2.05" fill="#12125c" stroke="#06062a" stroke-width="0.3"/>
<circle cx="484.0" cy="543.9" r="2.05" fill="#12125c" stroke="#06062a" stroke-width="0.3"/>
<circle cx="365.1" cy="546.5" r="2.05" fill="#1c1c50" stroke="#06062a" stroke-width="0.3"/>
<circle cx="353.1" cy="546.4" r="2.05" fill="#1c1c50" stroke="#06062a" stroke-width="0.3"/>
<circle cx="498.5" cy="543.2" r="2.05" fill="#12125c" stroke="#06062a" stroke-width="0.3"/>
<circle cx="578.0" cy="544.3" r="2.05" fill="#12125c" stroke="#06062a" stroke-width="0.3"/>
<circle cx="614.3" cy="544.6" r="2.05" fill="#12125c" stroke="#06062a" stroke-width="0.3"/>
<circle cx="360.1" cy="545.3" r="2.05" fill="#1c1c50" stroke="#06062a" stroke-width="0.3"/>
<circle cx="588.0" cy="543.4" r="2.05" fill="#12125c" stroke="#06062a" stroke-width="0.3"/>
<circle cx="613.1" cy="545.6" r="2.05" fill="#12125c" stroke="#06062a" stroke-width="0.3"/>
<circle cx="398.4" cy="542.7" r="2.05" fill="#2a2a4a" stroke="#06062a" stroke-width="0.3"/>
<circle cx="473.4" cy="541.0" r="2.05" fill="#12125c" stroke="#06062a" stroke-width="0.3"/>
<circle cx="413.1" cy="542.5" r="2.05" fill="#1c1c50" stroke="#06062a" stroke-width="0.3"/>
<circle cx="456.2" cy="544.5" r="2.05" fill="#12125c" stroke="#06062a" stroke-width="0.3"/>
<circle cx="575.3" cy="541.4" r="2.05" fill="#12125c" stroke="#06062a" stroke-width="0.3"/>
<circle cx="551.3" cy="543.3" r="2.05" fill="#12125c" stroke="#06062a" stroke-width="0.3"/>
<circle cx="393.4" cy="545.2" r="2.05" fill="#1c1c50" stroke="#06062a" stroke-width="0.3"/>
<circle cx="631.5" cy="541.8" r="2.05" fill="#12125c" stroke="#06062a" stroke-width="0.3"/>
<circle cx="418.9" cy="540.8" r="2.05" fill="#14145a" stroke="#06062a" stroke-width="0.3"/>
<circle cx="353.7" cy="541.5" r="2.05" fill="#2a2a4a" stroke="#06062a" stroke-width="0.3"/>
<circle cx="570.8" cy="545.3" r="2.05" fill="#12125c" stroke="#06062a" stroke-width="0.3"/>
<circle cx="394.1" cy="546.5" r="2.05" fill="#14145a" stroke="#06062a" stroke-width="0.3"/>
<circle cx="432.7" cy="543.2" r="2.05" fill="#12125c" stroke="#06062a" stroke-width="0.3"/>
<circle cx="438.6" cy="539.4" r="2.05" fill="#12125c" stroke="#06062a" stroke-width="0.3"/>
<circle cx="479.6" cy="540.9" r="2.05" fill="#12125c" stroke="#06062a" stroke-width="0.3"/>
<circle cx="390.7" cy="541.1" r="2.05" fill="#1c1c50" stroke="#06062a" stroke-width="0.3"/>
<circle cx="388.7" cy="545.0" r="2.05" fill="#14145a" stroke="#06062a" stroke-width="0.3"/>
<circle cx="354.0" cy="542.3" r="2.05" fill="#2a2a4a" stroke="#06062a" stroke-width="0.3"/>
<circle cx="582.2" cy="543.8" r="2.05" fill="#12125c" stroke="#06062a" stroke-width="0.3"/>
<circle cx="360.7" cy="542.9" r="2.05" fill="#14145a" stroke="#06062a" stroke-width="0.3"/>
<circle cx="513.2" cy="541.6" r="2.05" fill="#12125c" stroke="#06062a" stroke-width="0.3"/>
<circle cx="385.7" cy="539.5" r="2.05" fill="#3c3c4c" stroke="#06062a" stroke-width="0.3"/>
<circle cx="558.8" cy="540.8" r="2.05" fill="#12125c" stroke="#06062a" stroke-width="0.3"/>
<circle cx="639.5" cy="541.9" r="2.05" fill="#12125c" stroke="#06062a" stroke-width="0.3"/>
<circle cx="623.0" cy="543.5" r="2.05" fill="#12125c" stroke="#06062a" stroke-width="0.3"/>
<circle cx="565.6" cy="543.2" r="2.05" fill="#12125c" stroke="#06062a" stroke-width="0.3"/>
<circle cx="620.8" cy="544.1" r="2.05" fill="#12125c" stroke="#06062a" stroke-width="0.3"/>
<circle cx="593.0" cy="543.0" r="2.05" fill="#12125c" stroke="#06062a" stroke-width="0.3"/>
<circle cx="494.6" cy="542.2" r="2.05" fill="#12125c" stroke="#06062a" stroke-width="0.3"/>
<circle cx="482.7" cy="541.5" r="2.05" fill="#12125c" stroke="#06062a" stroke-width="0.3"/>
<circle cx="449.9" cy="546.4" r="2.05" fill="#12125c" stroke="#06062a" stroke-width="0.3"/>
<circle cx="426.8" cy="545.4" r="2.05" fill="#12125c" stroke="#06062a" stroke-width="0.3"/>
<circle cx="567.0" cy="545.6" r="2.05" fill="#12125c" stroke="#06062a" stroke-width="0.3"/>
<circle cx="533.1" cy="544.5" r="2.05" fill="#12125c" stroke="#06062a" stroke-width="0.3"/>
<circle cx="421.6" cy="545.9" r="2.05" fill="#1c1c50" stroke="#06062a" stroke-width="0.3"/>
<circle cx="618.1" cy="544.3" r="2.05" fill="#12125c" stroke="#06062a" stroke-width="0.3"/>
<circle cx="515.5" cy="538.7" r="2.05" fill="#12125c" stroke="#06062a" stroke-width="0.3"/>
<circle cx="385.7" cy="544.9" r="2.05" fill="#1c1c50" stroke="#06062a" stroke-width="0.3"/>
<circle cx="547.3" cy="541.1" r="2.05" fill="#12125c" stroke="#06062a" stroke-width="0.3"/>
<circle cx="470.2" cy="544.0" r="2.05" fill="#12125c" stroke="#06062a" stroke-width="0.3"/>
<circle cx="479.4" cy="544.0" r="2.05" fill="#12125c" stroke="#06062a" stroke-width="0.3"/>
<circle cx="553.8" cy="545.0" r="2.05" fill="#12125c" stroke="#06062a" stroke-width="0.3"/>
<circle cx="523.2" cy="545.0" r="2.05" fill="#12125c" stroke="#06062a" stroke-width="0.3"/>
<circle cx="438.7" cy="544.0" r="2.05" fill="#12125c" stroke="#06062a" stroke-width="0.3"/>
<circle cx="595.8" cy="539.9" r="2.05" fill="#12125c" stroke="#06062a" stroke-width="0.3"/>
<circle cx="429.7" cy="542.7" r="2.05" fill="#12125c" stroke="#06062a" stroke-width="0.3"/>
<circle cx="482.6" cy="545.9" r="2.05" fill="#12125c" stroke="#06062a" stroke-width="0.3"/>
<circle cx="444.2" cy="543.8" r="2.05" fill="#12125c" stroke="#06062a" stroke-width="0.3"/>
<circle cx="461.3" cy="546.3" r="2.05" fill="#12125c" stroke="#06062a" stroke-width="0.3"/>
<circle cx="441.8" cy="543.6" r="2.05" fill="#12125c" stroke="#06062a" stroke-width="0.3"/>
<circle cx="393.6" cy="539.7" r="2.05" fill="#1c1c50" stroke="#06062a" stroke-width="0.3"/>
<circle cx="531.9" cy="542.0" r="2.05" fill="#12125c" stroke="#06062a" stroke-width="0.3"/>
<circle cx="390.2" cy="544.8" r="2.05" fill="#1c1c50" stroke="#06062a" stroke-width="0.3"/>
<circle cx="624.0" cy="541.1" r="2.05" fill="#12125c" stroke="#06062a" stroke-width="0.3"/>
<circle cx="476.8" cy="543.8" r="2.05" fill="#12125c" stroke="#06062a" stroke-width="0.3"/>
<circle cx="628.6" cy="542.3" r="2.05" fill="#12125c" stroke="#06062a" stroke-width="0.3"/>
<circle cx="398.8" cy="542.4" r="2.05" fill="#3c3c4c" stroke="#06062a" stroke-width="0.3"/>
<circle cx="435.7" cy="542.5" r="2.05" fill="#12125c" stroke="#06062a" stroke-width="0.3"/>
<circle cx="454.4" cy="538.4" r="2.05" fill="#12125c" stroke="#06062a" stroke-width="0.3"/>
<circle cx="534.2" cy="546.4" r="2.05" fill="#12125c" stroke="#06062a" stroke-width="0.3"/>
<circle cx="383.7" cy="542.9" r="2.05" fill="#14145a" stroke="#06062a" stroke-width="0.3"/>
<circle cx="605.1" cy="545.2" r="2.05" fill="#12125c" stroke="#06062a" stroke-width="0.3"/>
<circle cx="402.0" cy="544.0" r="2.05" fill="#2a2a4a" stroke="#06062a" stroke-width="0.3"/>
<circle cx="536.3" cy="542.5" r="2.05" fill="#12125c" stroke="#06062a" stroke-width="0.3"/>
<circle cx="469.4" cy="541.5" r="2.05" fill="#12125c" stroke="#06062a" stroke-width="0.3"/>
<circle cx="368.4" cy="543.3" r="2.05" fill="#1c1c50" stroke="#06062a" stroke-width="0.3"/>
<circle cx="367.9" cy="542.0" r="2.05" fill="#14145a" stroke="#06062a" stroke-width="0.3"/>
<circle cx="581.5" cy="539.3" r="2.05" fill="#12125c" stroke="#06062a" stroke-width="0.3"/>
<circle cx="380.1" cy="542.3" r="2.05" fill="#14145a" stroke="#06062a" stroke-width="0.3"/>
<circle cx="625.2" cy="544.6" r="2.05" fill="#12125c" stroke="#06062a" stroke-width="0.3"/>
<circle cx="549.6" cy="543.0" r="2.05" fill="#12125c" stroke="#06062a" stroke-width="0.3"/>
<circle cx="371.7" cy="542.0" r="2.05" fill="#2a2a4a" stroke="#06062a" stroke-width="0.3"/>
<circle cx="383.2" cy="541.5" r="2.05" fill="#1c1c50" stroke="#06062a" stroke-width="0.3"/>
<circle cx="477.9" cy="544.1" r="2.05" fill="#12125c" stroke="#06062a" stroke-width="0.3"/>
<circle cx="635.1" cy="542.2" r="2.05" fill="#12125c" stroke="#06062a" stroke-width="0.3"/>
<circle cx="500.6" cy="538.8" r="2.05" fill="#12125c" stroke="#06062a" stroke-width="0.3"/>
<circle cx="535.5" cy="538.6" r="2.05" fill="#12125c" stroke="#06062a" stroke-width="0.3"/>
<circle cx="587.5" cy="541.8" r="2.05" fill="#12125c" stroke="#06062a" stroke-width="0.3"/>
<circle cx="365.2" cy="539.1" r="2.05" fill="#1c1c50" stroke="#06062a" stroke-width="0.3"/>
<circle cx="511.8" cy="544.6" r="2.05" fill="#12125c" stroke="#06062a" stroke-width="0.3"/>
<circle cx="424.6" cy="544.5" r="2.05" fill="#1c1c50" stroke="#06062a" stroke-width="0.3"/>
<circle cx="487.6" cy="544.4" r="2.05" fill="#12125c" stroke="#06062a" stroke-width="0.3"/>
<circle cx="388.9" cy="544.9" r="2.05" fill="#14145a" stroke="#06062a" stroke-width="0.3"/>
<circle cx="480.2" cy="542.4" r="2.05" fill="#12125c" stroke="#06062a" stroke-width="0.3"/>
<circle cx="538.1" cy="542.4" r="2.05" fill="#12125c" stroke="#06062a" stroke-width="0.3"/>
<circle cx="485.7" cy="545.5" r="2.05" fill="#12125c" stroke="#06062a" stroke-width="0.3"/>
<circle cx="490.9" cy="546.0" r="2.05" fill="#12125c" stroke="#06062a" stroke-width="0.3"/>
<circle cx="533.7" cy="544.0" r="2.05" fill="#12125c" stroke="#06062a" stroke-width="0.3"/>
<circle cx="512.5" cy="541.1" r="2.05" fill="#12125c" stroke="#06062a" stroke-width="0.3"/>
<circle cx="519.0" cy="545.7" r="2.05" fill="#12125c" stroke="#06062a" stroke-width="0.3"/>
<circle cx="606.3" cy="544.4" r="2.05" fill="#12125c" stroke="#06062a" stroke-width="0.3"/>
<circle cx="527.2" cy="542.6" r="2.05" fill="#12125c" stroke="#06062a" stroke-width="0.3"/>
<circle cx="503.3" cy="543.1" r="2.05" fill="#12125c" stroke="#06062a" stroke-width="0.3"/>
<circle cx="576.4" cy="542.1" r="2.05" fill="#12125c" stroke="#06062a" stroke-width="0.3"/>
<circle cx="628.8" cy="543.7" r="2.05" fill="#12125c" stroke="#06062a" stroke-width="0.3"/>
<circle cx="396.3" cy="539.0" r="2.05" fill="#3c3c4c" stroke="#06062a" stroke-width="0.3"/>
<circle cx="473.0" cy="544.8" r="2.05" fill="#12125c" stroke="#06062a" stroke-width="0.3"/>
<circle cx="449.2" cy="543.8" r="2.05" fill="#12125c" stroke="#06062a" stroke-width="0.3"/>
<circle cx="558.3" cy="545.5" r="2.05" fill="#12125c" stroke="#06062a" stroke-width="0.3"/>
<circle cx="396.3" cy="541.0" r="2.05" fill="#1c1c50" stroke="#06062a" stroke-width="0.3"/>
<circle cx="575.9" cy="541.2" r="2.05" fill="#12125c" stroke="#06062a" stroke-width="0.3"/>
<circle cx="506.6" cy="541.7" r="2.05" fill="#12125c" stroke="#06062a" stroke-width="0.3"/>
<circle cx="409.0" cy="540.5" r="2.05" fill="#2a2a4a" stroke="#06062a" stroke-width="0.3"/>
<circle cx="544.9" cy="541.6" r="2.05" fill="#12125c" stroke="#06062a" stroke-width="0.3"/>
<circle cx="472.1" cy="539.8" r="2.05" fill="#12125c" stroke="#06062a" stroke-width="0.3"/>
<circle cx="619.5" cy="542.3" r="2.05" fill="#12125c" stroke="#06062a" stroke-width="0.3"/>
<circle cx="369.1" cy="538.8" r="2.05" fill="#3c3c4c" stroke="#06062a" stroke-width="0.3"/>
<circle cx="415.0" cy="544.1" r="2.05" fill="#1c1c50" stroke="#06062a" stroke-width="0.3"/>
<circle cx="579.8" cy="546.0" r="2.05" fill="#12125c" stroke="#06062a" stroke-width="0.3"/>
<circle cx="505.2" cy="543.4" r="2.05" fill="#12125c" stroke="#06062a" stroke-width="0.3"/>
<circle cx="485.5" cy="542.1" r="2.05" fill="#12125c" stroke="#06062a" stroke-width="0.3"/>
<circle cx="400.0" cy="540.6" r="2.05" fill="#1c1c50" stroke="#06062a" stroke-width="0.3"/>
<circle cx="489.4" cy="541.1" r="2.05" fill="#12125c" stroke="#06062a" stroke-width="0.3"/>
<circle cx="582.9" cy="544.5" r="2.05" fill="#12125c" stroke="#06062a" stroke-width="0.3"/>
<circle cx="594.5" cy="545.0" r="2.05" fill="#12125c" stroke="#06062a" stroke-width="0.3"/>
<circle cx="599.3" cy="541.1" r="2.05" fill="#12125c" stroke="#06062a" stroke-width="0.3"/>
<circle cx="609.1" cy="538.2" r="2.05" fill="#12125c" stroke="#06062a" stroke-width="0.3"/>
<circle cx="368.9" cy="541.6" r="2.05" fill="#3c3c4c" stroke="#06062a" stroke-width="0.3"/>
<circle cx="610.0" cy="543.2" r="2.05" fill="#12125c" stroke="#06062a" stroke-width="0.3"/>
<circle cx="359.3" cy="542.1" r="2.05" fill="#1c1c50" stroke="#06062a" stroke-width="0.3"/>
<circle cx="464.4" cy="541.6" r="2.05" fill="#12125c" stroke="#06062a" stroke-width="0.3"/>
<circle cx="462.2" cy="541.7" r="2.05" fill="#12125c" stroke="#06062a" stroke-width="0.3"/>
<circle cx="613.7" cy="546.4" r="2.05" fill="#12125c" stroke="#06062a" stroke-width="0.3"/>
<circle cx="429.9" cy="542.1" r="2.05" fill="#12125c" stroke="#06062a" stroke-width="0.3"/>
<circle cx="551.3" cy="542.5" r="2.05" fill="#12125c" stroke="#06062a" stroke-width="0.3"/>
<circle cx="376.5" cy="543.4" r="2.05" fill="#1c1c50" stroke="#06062a" stroke-width="0.3"/>
<circle cx="591.3" cy="539.5" r="2.05" fill="#12125c" stroke="#06062a" stroke-width="0.3"/>
<circle cx="591.8" cy="545.1" r="2.05" fill="#12125c" stroke="#06062a" stroke-width="0.3"/>
<circle cx="409.0" cy="545.0" r="2.05" fill="#14145a" stroke="#06062a" stroke-width="0.3"/>
<circle cx="405.9" cy="545.7" r="2.05" fill="#3c3c4c" stroke="#06062a" stroke-width="0.3"/>
<circle cx="535.4" cy="543.4" r="2.05" fill="#12125c" stroke="#06062a" stroke-width="0.3"/>
<circle cx="588.8" cy="542.0" r="2.05" fill="#12125c" stroke="#06062a" stroke-width="0.3"/>
<circle cx="509.2" cy="546.3" r="2.05" fill="#12125c" stroke="#06062a" stroke-width="0.3"/>
<circle cx="567.5" cy="543.6" r="2.05" fill="#12125c" stroke="#06062a" stroke-width="0.3"/>
<circle cx="592.7" cy="540.0" r="2.05" fill="#12125c" stroke="#06062a" stroke-width="0.3"/>
<circle cx="609.4" cy="543.1" r="2.05" fill="#12125c" stroke="#06062a" stroke-width="0.3"/>
<circle cx="639.5" cy="543.1" r="2.05" fill="#12125c" stroke="#06062a" stroke-width="0.3"/>
<circle cx="609.4" cy="544.2" r="2.05" fill="#12125c" stroke="#06062a" stroke-width="0.3"/>
<circle cx="609.6" cy="546.4" r="2.05" fill="#12125c" stroke="#06062a" stroke-width="0.3"/>
<circle cx="470.5" cy="544.1" r="2.05" fill="#12125c" stroke="#06062a" stroke-width="0.3"/>
<circle cx="636.6" cy="543.7" r="2.05" fill="#12125c" stroke="#06062a" stroke-width="0.3"/>
<circle cx="381.6" cy="545.3" r="2.05" fill="#1c1c50" stroke="#06062a" stroke-width="0.3"/>
<circle cx="414.0" cy="544.3" r="2.05" fill="#14145a" stroke="#06062a" stroke-width="0.3"/>
<circle cx="373.3" cy="542.0" r="2.05" fill="#3c3c4c" stroke="#06062a" stroke-width="0.3"/>
<circle cx="600.9" cy="542.7" r="2.05" fill="#12125c" stroke="#06062a" stroke-width="0.3"/>
<circle cx="548.4" cy="543.9" r="2.05" fill="#12125c" stroke="#06062a" stroke-width="0.3"/>
<circle cx="373.7" cy="546.1" r="2.05" fill="#14145a" stroke="#06062a" stroke-width="0.3"/>
<circle cx="361.4" cy="543.6" r="2.05" fill="#1c1c50" stroke="#06062a" stroke-width="0.3"/>
<circle cx="438.7" cy="544.4" r="2.05" fill="#12125c" stroke="#06062a" stroke-width="0.3"/>
<circle cx="517.5" cy="539.3" r="2.05" fill="#12125c" stroke="#06062a" stroke-width="0.3"/>
<circle cx="608.1" cy="544.3" r="2.05" fill="#12125c" stroke="#06062a" stroke-width="0.3"/>
<circle cx="370.9" cy="543.3" r="2.05" fill="#2a2a4a" stroke="#06062a" stroke-width="0.3"/>
<circle cx="451.0" cy="537.8" r="2.05" fill="#12125c" stroke="#06062a" stroke-width="0.3"/>
<circle cx="450.0" cy="544.8" r="2.05" fill="#12125c" stroke="#06062a" stroke-width="0.3"/>
<circle cx="485.0" cy="545.8" r="2.05" fill="#12125c" stroke="#06062a" stroke-width="0.3"/>
<circle cx="445.8" cy="543.5" r="2.05" fill="#12125c" stroke="#06062a" stroke-width="0.3"/>
<circle cx="605.3" cy="542.3" r="2.05" fill="#12125c" stroke="#06062a" stroke-width="0.3"/>
<circle cx="433.3" cy="545.6" r="2.05" fill="#12125c" stroke="#06062a" stroke-width="0.3"/>
<circle cx="497.0" cy="543.8" r="2.05" fill="#12125c" stroke="#06062a" stroke-width="0.3"/>
<circle cx="597.7" cy="543.5" r="2.05" fill="#12125c" stroke="#06062a" stroke-width="0.3"/>
<circle cx="542.3" cy="543.3" r="2.05" fill="#12125c" stroke="#06062a" stroke-width="0.3"/>
<circle cx="474.6" cy="543.5" r="2.05" fill="#12125c" stroke="#06062a" stroke-width="0.3"/>
<circle cx="607.5" cy="543.0" r="2.05" fill="#12125c" stroke="#06062a" stroke-width="0.3"/>
<circle cx="526.6" cy="542.0" r="2.05" fill="#12125c" stroke="#06062a" stroke-width="0.3"/>
<circle cx="480.4" cy="541.2" r="2.05" fill="#12125c" stroke="#06062a" stroke-width="0.3"/>
<circle cx="381.4" cy="546.1" r="2.05" fill="#14145a" stroke="#06062a" stroke-width="0.3"/>
<circle cx="620.2" cy="542.6" r="2.05" fill="#12125c" stroke="#06062a" stroke-width="0.3"/>
<circle cx="476.3" cy="543.4" r="2.05" fill="#12125c" stroke="#06062a" stroke-width="0.3"/>
<circle cx="436.5" cy="544.0" r="2.05" fill="#12125c" stroke="#06062a" stroke-width="0.3"/>
<circle cx="642.1" cy="543.2" r="2.05" fill="#12125c" stroke="#06062a" stroke-width="0.3"/>
<circle cx="486.3" cy="541.2" r="2.05" fill="#12125c" stroke="#06062a" stroke-width="0.3"/>
<circle cx="456.8" cy="540.5" r="2.05" fill="#12125c" stroke="#06062a" stroke-width="0.3"/>
<circle cx="375.5" cy="542.5" r="2.05" fill="#3c3c4c" stroke="#06062a" stroke-width="0.3"/>
<circle cx="626.2" cy="538.9" r="2.05" fill="#12125c" stroke="#06062a" stroke-width="0.3"/>
<circle cx="601.0" cy="538.0" r="2.05" fill="#12125c" stroke="#06062a" stroke-width="0.3"/>
<circle cx="568.9" cy="543.6" r="2.05" fill="#12125c" stroke="#06062a" stroke-width="0.3"/>
<circle cx="431.1" cy="543.3" r="2.05" fill="#12125c" stroke="#06062a" stroke-width="0.3"/>
<circle cx="623.0" cy="542.4" r="2.05" fill="#12125c" stroke="#06062a" stroke-width="0.3"/>
<circle cx="531.3" cy="544.4" r="2.05" fill="#12125c" stroke="#06062a" stroke-width="0.3"/>
<circle cx="482.9" cy="541.2" r="2.05" fill="#12125c" stroke="#06062a" stroke-width="0.3"/>
<circle cx="589.7" cy="542.4" r="2.05" fill="#12125c" stroke="#06062a" stroke-width="0.3"/>
<circle cx="496.1" cy="543.8" r="2.05" fill="#12125c" stroke="#06062a" stroke-width="0.3"/>
<circle cx="613.9" cy="542.7" r="2.05" fill="#12125c" stroke="#06062a" stroke-width="0.3"/>
<circle cx="448.9" cy="541.9" r="2.05" fill="#12125c" stroke="#06062a" stroke-width="0.3"/>
<circle cx="623.7" cy="543.8" r="2.05" fill="#12125c" stroke="#06062a" stroke-width="0.3"/>
<circle cx="429.7" cy="541.3" r="2.05" fill="#12125c" stroke="#06062a" stroke-width="0.3"/>
<circle cx="415.3" cy="540.3" r="2.05" fill="#2a2a4a" stroke="#06062a" stroke-width="0.3"/>
<circle cx="457.5" cy="544.9" r="2.05" fill="#12125c" stroke="#06062a" stroke-width="0.3"/>
<circle cx="572.3" cy="544.9" r="2.05" fill="#12125c" stroke="#06062a" stroke-width="0.3"/>
<circle cx="384.6" cy="539.7" r="2.05" fill="#3c3c4c" stroke="#06062a" stroke-width="0.3"/>
<circle cx="579.2" cy="541.9" r="2.05" fill="#12125c" stroke="#06062a" stroke-width="0.3"/>
<circle cx="428.7" cy="542.0" r="2.05" fill="#12125c" stroke="#06062a" stroke-width="0.3"/>
<circle cx="560.8" cy="541.1" r="2.05" fill="#12125c" stroke="#06062a" stroke-width="0.3"/>
<circle cx="438.9" cy="545.8" r="2.05" fill="#12125c" stroke="#06062a" stroke-width="0.3"/>
<circle cx="563.6" cy="546.1" r="2.05" fill="#12125c" stroke="#06062a" stroke-width="0.3"/>
<circle cx="513.0" cy="544.2" r="2.05" fill="#12125c" stroke="#06062a" stroke-width="0.3"/>
<circle cx="432.4" cy="542.5" r="2.05" fill="#12125c" stroke="#06062a" stroke-width="0.3"/>
<circle cx="483.8" cy="541.5" r="2.05" fill="#12125c" stroke="#06062a" stroke-width="0.3"/>
<circle cx="422.1" cy="546.4" r="2.05" fill="#1c1c50" stroke="#06062a" stroke-width="0.3"/>
<circle cx="351.4" cy="541.0" r="2.05" fill="#3c3c4c" stroke="#06062a" stroke-width="0.3"/>
<circle cx="502.6" cy="542.5" r="2.05" fill="#12125c" stroke="#06062a" stroke-width="0.3"/>
<circle cx="412.8" cy="544.3" r="2.05" fill="#1c1c50" stroke="#06062a" stroke-width="0.3"/>
<circle cx="393.4" cy="544.3" r="2.05" fill="#2a2a4a" stroke="#06062a" stroke-width="0.3"/>
<circle cx="616.6" cy="541.5" r="2.05" fill="#12125c" stroke="#06062a" stroke-width="0.3"/>
<circle cx="419.0" cy="544.6" r="2.05" fill="#2a2a4a" stroke="#06062a" stroke-width="0.3"/>
<circle cx="432.2" cy="542.2" r="2.05" fill="#12125c" stroke="#06062a" stroke-width="0.3"/>
<circle cx="619.9" cy="544.3" r="2.05" fill="#12125c" stroke="#06062a" stroke-width="0.3"/>
<circle cx="556.4" cy="543.7" r="2.05" fill="#12125c" stroke="#06062a" stroke-width="0.3"/>
<circle cx="605.3" cy="544.9" r="2.05" fill="#12125c" stroke="#06062a" stroke-width="0.3"/>
<circle cx="372.7" cy="543.6" r="2.05" fill="#14145a" stroke="#06062a" stroke-width="0.3"/>
<circle cx="548.0" cy="544.2" r="2.05" fill="#12125c" stroke="#06062a" stroke-width="0.3"/>
<circle cx="626.8" cy="537.6" r="2.05" fill="#12125c" stroke="#06062a" stroke-width="0.3"/>
<circle cx="353.5" cy="541.9" r="2.05" fill="#3c3c4c" stroke="#06062a" stroke-width="0.3"/>
<circle cx="460.7" cy="545.8" r="2.05" fill="#12125c" stroke="#06062a" stroke-width="0.3"/>
<circle cx="527.3" cy="542.1" r="2.05" fill="#12125c" stroke="#06062a" stroke-width="0.3"/>
<circle cx="510.3" cy="545.2" r="2.05" fill="#12125c" stroke="#06062a" stroke-width="0.3"/>
<circle cx="528.7" cy="546.1" r="2.05" fill="#12125c" stroke="#06062a" stroke-width="0.3"/>
<circle cx="402.5" cy="542.1" r="2.05" fill="#2a2a4a" stroke="#06062a" stroke-width="0.3"/>
<circle cx="430.9" cy="542.5" r="2.05" fill="#12125c" stroke="#06062a" stroke-width="0.3"/>
<circle cx="537.3" cy="541.6" r="2.05" fill="#12125c" stroke="#06062a" stroke-width="0.3"/>
<circle cx="420.9" cy="546.3" r="2.05" fill="#1c1c50" stroke="#06062a" stroke-width="0.3"/>
<circle cx="479.3" cy="543.7" r="2.05" fill="#12125c" stroke="#06062a" stroke-width="0.3"/>
<circle cx="491.9" cy="544.7" r="2.05" fill="#12125c" stroke="#06062a" stroke-width="0.3"/>
<circle cx="561.1" cy="544.0" r="2.05" fill="#12125c" stroke="#06062a" stroke-width="0.3"/>
<circle cx="575.7" cy="539.6" r="2.05" fill="#12125c" stroke="#06062a" stroke-width="0.3"/>
<circle cx="362.5" cy="544.7" r="2.05" fill="#3c3c4c" stroke="#06062a" stroke-width="0.3"/>
<circle cx="497.1" cy="543.4" r="2.05" fill="#12125c" stroke="#06062a" stroke-width="0.3"/>
<circle cx="586.7" cy="541.9" r="2.05" fill="#12125c" stroke="#06062a" stroke-width="0.3"/>
<circle cx="462.0" cy="545.8" r="2.05" fill="#12125c" stroke="#06062a" stroke-width="0.3"/>
<circle cx="620.7" cy="545.4" r="2.05" fill="#12125c" stroke="#06062a" stroke-width="0.3"/>
<circle cx="543.3" cy="546.5" r="2.05" fill="#12125c" stroke="#06062a" stroke-width="0.3"/>
<circle cx="471.9" cy="545.8" r="2.05" fill="#12125c" stroke="#06062a" stroke-width="0.3"/>
<circle cx="401.2" cy="543.7" r="2.05" fill="#1c1c50" stroke="#06062a" stroke-width="0.3"/>
<circle cx="479.5" cy="546.6" r="2.05" fill="#12125c" stroke="#06062a" stroke-width="0.3"/>
<circle cx="444.5" cy="546.4" r="2.05" fill="#12125c" stroke="#06062a" stroke-width="0.3"/>
<circle cx="374.3" cy="544.7" r="2.05" fill="#14145a" stroke="#06062a" stroke-width="0.3"/>
<circle cx="601.9" cy="543.7" r="2.05" fill="#12125c" stroke="#06062a" stroke-width="0.3"/>
<circle cx="530.1" cy="546.4" r="2.05" fill="#12125c" stroke="#06062a" stroke-width="0.3"/>
<circle cx="585.2" cy="541.4" r="2.05" fill="#12125c" stroke="#06062a" stroke-width="0.3"/>
<circle cx="474.6" cy="540.8" r="2.05" fill="#12125c" stroke="#06062a" stroke-width="0.3"/>
<circle cx="571.4" cy="545.3" r="2.05" fill="#12125c" stroke="#06062a" stroke-width="0.3"/>
<circle cx="505.6" cy="544.6" r="2.05" fill="#12125c" stroke="#06062a" stroke-width="0.3"/>
<circle cx="603.5" cy="546.4" r="2.05" fill="#12125c" stroke="#06062a" stroke-width="0.3"/>
<circle cx="494.4" cy="544.7" r="2.05" fill="#12125c" stroke="#06062a" stroke-width="0.3"/>
<circle cx="514.4" cy="546.4" r="2.05" fill="#12125c" stroke="#06062a" stroke-width="0.3"/>
<circle cx="443.1" cy="541.2" r="2.05" fill="#12125c" stroke="#06062a" stroke-width="0.3"/>
<circle cx="405.4" cy="538.5" r="2.05" fill="#3c3c4c" stroke="#06062a" stroke-width="0.3"/>
<circle cx="417.1" cy="543.5" r="2.05" fill="#14145a" stroke="#06062a" stroke-width="0.3"/>
<circle cx="516.3" cy="539.2" r="2.05" fill="#12125c" stroke="#06062a" stroke-width="0.3"/>
<circle cx="446.0" cy="543.0" r="2.05" fill="#12125c" stroke="#06062a" stroke-width="0.3"/>
<circle cx="349.5" cy="541.8" r="2.05" fill="#3c3c4c" stroke="#06062a" stroke-width="0.3"/>
<circle cx="433.7" cy="546.1" r="2.05" fill="#12125c" stroke="#06062a" stroke-width="0.3"/>
<circle cx="574.1" cy="537.9" r="2.05" fill="#12125c" stroke="#06062a" stroke-width="0.3"/>
<circle cx="513.5" cy="544.0" r="2.05" fill="#12125c" stroke="#06062a" stroke-width="0.3"/>
<circle cx="534.4" cy="544.7" r="2.05" fill="#12125c" stroke="#06062a" stroke-width="0.3"/>
<circle cx="603.3" cy="542.7" r="2.05" fill="#12125c" stroke="#06062a" stroke-width="0.3"/>
<circle cx="392.2" cy="538.3" r="2.05" fill="#3c3c4c" stroke="#06062a" stroke-width="0.3"/>
<circle cx="627.2" cy="546.0" r="2.05" fill="#12125c" stroke="#06062a" stroke-width="0.3"/>
<circle cx="474.0" cy="542.5" r="2.05" fill="#12125c" stroke="#06062a" stroke-width="0.3"/>
<circle cx="639.7" cy="545.1" r="2.05" fill="#12125c" stroke="#06062a" stroke-width="0.3"/>
<circle cx="587.5" cy="542.7" r="2.05" fill="#12125c" stroke="#06062a" stroke-width="0.3"/>
<circle cx="486.2" cy="540.7" r="2.05" fill="#12125c" stroke="#06062a" stroke-width="0.3"/>
<circle cx="393.4" cy="539.4" r="2.05" fill="#3c3c4c" stroke="#06062a" stroke-width="0.3"/>
<circle cx="431.1" cy="546.4" r="2.05" fill="#12125c" stroke="#06062a" stroke-width="0.3"/>
<circle cx="351.7" cy="545.1" r="2.05" fill="#1c1c50" stroke="#06062a" stroke-width="0.3"/>
<circle cx="378.5" cy="541.4" r="2.05" fill="#1c1c50" stroke="#06062a" stroke-width="0.3"/>
<circle cx="381.7" cy="544.6" r="2.05" fill="#1c1c50" stroke="#06062a" stroke-width="0.3"/>
<circle cx="503.2" cy="544.8" r="2.05" fill="#12125c" stroke="#06062a" stroke-width="0.3"/>
<circle cx="502.5" cy="541.8" r="2.05" fill="#12125c" stroke="#06062a" stroke-width="0.3"/>
<circle cx="358.1" cy="543.3" r="2.05" fill="#14145a" stroke="#06062a" stroke-width="0.3"/>
<circle cx="631.3" cy="544.1" r="2.05" fill="#12125c" stroke="#06062a" stroke-width="0.3"/>
<circle cx="612.9" cy="538.4" r="2.05" fill="#12125c" stroke="#06062a" stroke-width="0.3"/>
<circle cx="416.1" cy="542.4" r="2.05" fill="#3c3c4c" stroke="#06062a" stroke-width="0.3"/>
<circle cx="374.5" cy="539.5" r="2.05" fill="#3c3c4c" stroke="#06062a" stroke-width="0.3"/>
<circle cx="639.3" cy="544.8" r="2.05" fill="#12125c" stroke="#06062a" stroke-width="0.3"/>
<circle cx="486.9" cy="542.0" r="2.05" fill="#12125c" stroke="#06062a" stroke-width="0.3"/>
<circle cx="417.8" cy="545.9" r="2.05" fill="#2a2a4a" stroke="#06062a" stroke-width="0.3"/>
<circle cx="410.8" cy="541.4" r="2.05" fill="#1c1c50" stroke="#06062a" stroke-width="0.3"/>
<circle cx="402.7" cy="546.0" r="2.05" fill="#1c1c50" stroke="#06062a" stroke-width="0.3"/>
<circle cx="517.8" cy="539.1" r="2.05" fill="#12125c" stroke="#06062a" stroke-width="0.3"/>
<circle cx="397.3" cy="541.6" r="2.05" fill="#1c1c50" stroke="#06062a" stroke-width="0.3"/>
<circle cx="436.8" cy="538.6" r="2.05" fill="#12125c" stroke="#06062a" stroke-width="0.3"/>
<circle cx="620.8" cy="546.2" r="2.05" fill="#12125c" stroke="#06062a" stroke-width="0.3"/>
<circle cx="562.9" cy="542.6" r="2.05" fill="#12125c" stroke="#06062a" stroke-width="0.3"/>
<circle cx="541.9" cy="539.9" r="2.05" fill="#12125c" stroke="#06062a" stroke-width="0.3"/>
<circle cx="361.0" cy="542.9" r="2.05" fill="#2a2a4a" stroke="#06062a" stroke-width="0.3"/>
<circle cx="598.9" cy="543.3" r="2.05" fill="#12125c" stroke="#06062a" stroke-width="0.3"/>
<circle cx="526.7" cy="545.7" r="2.05" fill="#12125c" stroke="#06062a" stroke-width="0.3"/>
<circle cx="414.1" cy="545.0" r="2.05" fill="#14145a" stroke="#06062a" stroke-width="0.3"/>
<circle cx="449.8" cy="545.4" r="2.05" fill="#12125c" stroke="#06062a" stroke-width="0.3"/>
<circle cx="616.5" cy="543.9" r="2.05" fill="#12125c" stroke="#06062a" stroke-width="0.3"/>
<circle cx="610.1" cy="541.6" r="2.05" fill="#12125c" stroke="#06062a" stroke-width="0.3"/>
<circle cx="642.5" cy="543.2" r="2.05" fill="#12125c" stroke="#06062a" stroke-width="0.3"/>
<circle cx="515.0" cy="542.8" r="2.05" fill="#12125c" stroke="#06062a" stroke-width="0.3"/>
<circle cx="416.2" cy="542.9" r="2.05" fill="#3c3c4c" stroke="#06062a" stroke-width="0.3"/>
<circle cx="494.0" cy="546.0" r="2.05" fill="#12125c" stroke="#06062a" stroke-width="0.3"/>
<circle cx="622.1" cy="543.6" r="2.05" fill="#12125c" stroke="#06062a" stroke-width="0.3"/>
<circle cx="414.4" cy="543.0" r="2.05" fill="#3c3c4c" stroke="#06062a" stroke-width="0.3"/>
<circle cx="375.8" cy="542.8" r="2.05" fill="#1c1c50" stroke="#06062a" stroke-width="0.3"/>
<circle cx="573.9" cy="542.1" r="2.05" fill="#12125c" stroke="#06062a" stroke-width="0.3"/>
<circle cx="465.0" cy="538.4" r="2.05" fill="#12125c" stroke="#06062a" stroke-width="0.3"/>
<circle cx="538.5" cy="537.6" r="2.05" fill="#12125c" stroke="#06062a" stroke-width="0.3"/>
<circle cx="584.1" cy="541.6" r="2.05" fill="#12125c" stroke="#06062a" stroke-width="0.3"/>
<circle cx="571.2" cy="545.0" r="2.05" fill="#12125c" stroke="#06062a" stroke-width="0.3"/>
<circle cx="518.0" cy="545.3" r="2.05" fill="#12125c" stroke="#06062a" stroke-width="0.3"/>
<circle cx="598.3" cy="539.5" r="2.05" fill="#12125c" stroke="#06062a" stroke-width="0.3"/>
<circle cx="626.2" cy="546.0" r="2.05" fill="#12125c" stroke="#06062a" stroke-width="0.3"/>
<circle cx="383.0" cy="544.7" r="2.05" fill="#2a2a4a" stroke="#06062a" stroke-width="0.3"/>
<circle cx="552.3" cy="538.6" r="2.05" fill="#12125c" stroke="#06062a" stroke-width="0.3"/>
<circle cx="554.5" cy="543.2" r="2.05" fill="#12125c" stroke="#06062a" stroke-width="0.3"/>
<circle cx="396.8" cy="543.7" r="2.05" fill="#1c1c50" stroke="#06062a" stroke-width="0.3"/>
<circle cx="565.8" cy="542.5" r="2.05" fill="#12125c" stroke="#06062a" stroke-width="0.3"/>
<circle cx="446.5" cy="539.8" r="2.05" fill="#12125c" stroke="#06062a" stroke-width="0.3"/>
<circle cx="487.8" cy="544.7" r="2.05" fill="#12125c" stroke="#06062a" stroke-width="0.3"/>
<circle cx="426.4" cy="541.6" r="2.05" fill="#12125c" stroke="#06062a" stroke-width="0.3"/>
<circle cx="520.3" cy="546.5" r="2.05" fill="#12125c" stroke="#06062a" stroke-width="0.3"/>
<circle cx="531.7" cy="546.5" r="2.05" fill="#12125c" stroke="#06062a" stroke-width="0.3"/>
<circle cx="495.2" cy="543.6" r="2.05" fill="#12125c" stroke="#06062a" stroke-width="0.3"/>
<circle cx="458.6" cy="544.2" r="2.05" fill="#12125c" stroke="#06062a" stroke-width="0.3"/>
<circle cx="385.5" cy="539.3" r="2.05" fill="#2a2a4a" stroke="#06062a" stroke-width="0.3"/>
<circle cx="522.2" cy="541.6" r="2.05" fill="#12125c" stroke="#06062a" stroke-width="0.3"/>
<circle cx="387.9" cy="543.0" r="2.05" fill="#2a2a4a" stroke="#06062a" stroke-width="0.3"/>
<circle cx="533.1" cy="542.3" r="2.05" fill="#12125c" stroke="#06062a" stroke-width="0.3"/>
<circle cx="364.6" cy="543.5" r="2.05" fill="#14145a" stroke="#06062a" stroke-width="0.3"/>
<circle cx="412.8" cy="544.9" r="2.05" fill="#3c3c4c" stroke="#06062a" stroke-width="0.3"/>
<circle cx="569.0" cy="543.9" r="2.05" fill="#12125c" stroke="#06062a" stroke-width="0.3"/>
<circle cx="411.0" cy="544.7" r="2.05" fill="#1c1c50" stroke="#06062a" stroke-width="0.3"/>
<circle cx="497.4" cy="541.6" r="2.05" fill="#12125c" stroke="#06062a" stroke-width="0.3"/>
<circle cx="390.5" cy="543.1" r="2.05" fill="#1c1c50" stroke="#06062a" stroke-width="0.3"/>
<circle cx="354.8" cy="545.8" r="2.05" fill="#3c3c4c" stroke="#06062a" stroke-width="0.3"/>
<circle cx="388.8" cy="545.2" r="2.05" fill="#1c1c50" stroke="#06062a" stroke-width="0.3"/>
<circle cx="399.4" cy="544.8" r="2.05" fill="#1c1c50" stroke="#06062a" stroke-width="0.3"/>
<circle cx="493.4" cy="542.8" r="2.05" fill="#12125c" stroke="#06062a" stroke-width="0.3"/>
<circle cx="452.5" cy="544.8" r="2.05" fill="#12125c" stroke="#06062a" stroke-width="0.3"/>
<circle cx="474.5" cy="537.6" r="2.05" fill="#12125c" stroke="#06062a" stroke-width="0.3"/>
<circle cx="506.9" cy="545.9" r="2.05" fill="#12125c" stroke="#06062a" stroke-width="0.3"/>
<circle cx="406.2" cy="544.0" r="2.05" fill="#2a2a4a" stroke="#06062a" stroke-width="0.3"/>
<circle cx="445.8" cy="544.6" r="2.05" fill="#12125c" stroke="#06062a" stroke-width="0.3"/>
<circle cx="640.2" cy="543.2" r="2.05" fill="#12125c" stroke="#06062a" stroke-width="0.3"/>
<circle cx="386.1" cy="541.4" r="2.05" fill="#2a2a4a" stroke="#06062a" stroke-width="0.3"/>
<circle cx="370.9" cy="540.7" r="2.05" fill="#1c1c50" stroke="#06062a" stroke-width="0.3"/>
<circle cx="571.0" cy="542.4" r="2.05" fill="#12125c" stroke="#06062a" stroke-width="0.3"/>
<circle cx="457.7" cy="538.2" r="2.05" fill="#12125c" stroke="#06062a" stroke-width="0.3"/>
<circle cx="615.1" cy="539.9" r="2.05" fill="#12125c" stroke="#06062a" stroke-width="0.3"/>
<circle cx="427.5" cy="546.1" r="2.05" fill="#12125c" stroke="#06062a" stroke-width="0.3"/>
<circle cx="523.5" cy="544.4" r="2.05" fill="#12125c" stroke="#06062a" stroke-width="0.3"/>
<circle cx="630.2" cy="541.8" r="2.05" fill="#12125c" stroke="#06062a" stroke-width="0.3"/>
<circle cx="408.9" cy="541.3" r="2.05" fill="#14145a" stroke="#06062a" stroke-width="0.3"/>
<circle cx="548.0" cy="543.8" r="2.05" fill="#12125c" stroke="#06062a" stroke-width="0.3"/>
<circle cx="494.2" cy="541.4" r="2.05" fill="#12125c" stroke="#06062a" stroke-width="0.3"/>
<circle cx="605.0" cy="545.5" r="2.05" fill="#12125c" stroke="#06062a" stroke-width="0.3"/>
<circle cx="361.8" cy="537.7" r="2.05" fill="#14145a" stroke="#06062a" stroke-width="0.3"/>
<circle cx="515.0" cy="541.5" r="2.05" fill="#12125c" stroke="#06062a" stroke-width="0.3"/>
<circle cx="382.9" cy="540.4" r="2.05" fill="#14145a" stroke="#06062a" stroke-width="0.3"/>
<circle cx="507.2" cy="543.6" r="2.05" fill="#12125c" stroke="#06062a" stroke-width="0.3"/>
<circle cx="357.0" cy="543.0" r="2.05" fill="#14145a" stroke="#06062a" stroke-width="0.3"/>
<circle cx="573.9" cy="543.6" r="2.05" fill="#12125c" stroke="#06062a" stroke-width="0.3"/>
<circle cx="429.0" cy="546.2" r="2.05" fill="#12125c" stroke="#06062a" stroke-width="0.3"/>
<circle cx="485.5" cy="546.5" r="2.05" fill="#12125c" stroke="#06062a" stroke-width="0.3"/>
<circle cx="636.6" cy="542.1" r="2.05" fill="#12125c" stroke="#06062a" stroke-width="0.3"/>
<circle cx="563.7" cy="543.7" r="2.05" fill="#12125c" stroke="#06062a" stroke-width="0.3"/>
<circle cx="550.2" cy="544.3" r="2.05" fill="#12125c" stroke="#06062a" stroke-width="0.3"/>
<circle cx="409.4" cy="544.1" r="2.05" fill="#1c1c50" stroke="#06062a" stroke-width="0.3"/>
<circle cx="623.6" cy="543.2" r="2.05" fill="#12125c" stroke="#06062a" stroke-width="0.3"/>
<circle cx="605.9" cy="544.0" r="2.05" fill="#12125c" stroke="#06062a" stroke-width="0.3"/>
<circle cx="552.2" cy="542.1" r="2.05" fill="#12125c" stroke="#06062a" stroke-width="0.3"/>
<circle cx="540.4" cy="544.7" r="2.05" fill="#12125c" stroke="#06062a" stroke-width="0.3"/>
<circle cx="458.7" cy="545.1" r="2.05" fill="#12125c" stroke="#06062a" stroke-width="0.3"/>
<circle cx="493.3" cy="541.3" r="2.05" fill="#12125c" stroke="#06062a" stroke-width="0.3"/>
<circle cx="408.6" cy="527.5" r="2.1" fill="#161660" stroke="#0a0a30" stroke-width="0.3"/>
<circle cx="413.8" cy="533.8" r="2.1" fill="#161660" stroke="#0a0a30" stroke-width="0.3"/>
<circle cx="367.3" cy="536.2" r="2.1" fill="#161660" stroke="#0a0a30" stroke-width="0.3"/>
<circle cx="536.0" cy="526.2" r="2.1" fill="#161660" stroke="#0a0a30" stroke-width="0.3"/>
<circle cx="547.0" cy="528.5" r="2.1" fill="#161660" stroke="#0a0a30" stroke-width="0.3"/>
<circle cx="565.4" cy="533.0" r="2.1" fill="#161660" stroke="#0a0a30" stroke-width="0.3"/>
<circle cx="586.4" cy="539.3" r="2.1" fill="#161660" stroke="#0a0a30" stroke-width="0.3"/>
<circle cx="603.5" cy="536.2" r="2.1" fill="#161660" stroke="#0a0a30" stroke-width="0.3"/>
<circle cx="533.4" cy="534.8" r="2.1" fill="#161660" stroke="#0a0a30" stroke-width="0.3"/>
<circle cx="519.5" cy="535.1" r="2.1" fill="#161660" stroke="#0a0a30" stroke-width="0.3"/>
<circle cx="486.5" cy="537.0" r="2.1" fill="#161660" stroke="#0a0a30" stroke-width="0.3"/>
<circle cx="495.5" cy="537.0" r="2.1" fill="#161660" stroke="#0a0a30" stroke-width="0.3"/>
<circle cx="521.0" cy="537.5" r="2.1" fill="#161660" stroke="#0a0a30" stroke-width="0.3"/>
<circle cx="429.0" cy="533.9" r="2.1" fill="#444" stroke="#0a0a30" stroke-width="0.3"/>
<circle cx="431.0" cy="533.8" r="2.1" fill="#444" stroke="#0a0a30" stroke-width="0.3"/>
<circle cx="433.0" cy="533.4" r="2.1" fill="#444" stroke="#0a0a30" stroke-width="0.3"/>
<circle cx="441.0" cy="533.9" r="2.1" fill="#161660" stroke="#0a0a30" stroke-width="0.3"/>
<circle cx="447.5" cy="533.7" r="2.1" fill="#161660" stroke="#0a0a30" stroke-width="0.3"/>
<circle cx="451.4" cy="533.9" r="2.1" fill="#161660" stroke="#0a0a30" stroke-width="0.3"/>
<circle cx="455.4" cy="533.8" r="2.1" fill="#161660" stroke="#0a0a30" stroke-width="0.3"/>
<circle cx="460.6" cy="533.9" r="2.1" fill="#161660" stroke="#0a0a30" stroke-width="0.3"/>
<circle cx="468.5" cy="532.8" r="2.1" fill="#161660" stroke="#0a0a30" stroke-width="0.3"/>
<circle cx="476.4" cy="532.9" r="2.1" fill="#161660" stroke="#0a0a30" stroke-width="0.3"/>
<circle cx="486.9" cy="533.6" r="2.1" fill="#161660" stroke="#0a0a30" stroke-width="0.3"/>
<circle cx="497.4" cy="533.1" r="2.1" fill="#161660" stroke="#0a0a30" stroke-width="0.3"/>
<circle cx="503.4" cy="532.8" r="2.1" fill="#161660" stroke="#0a0a30" stroke-width="0.3"/>
<circle cx="444.0" cy="533.2" r="2.1" fill="#161660" stroke="#0a0a30" stroke-width="0.3"/>
<circle cx="458.0" cy="533.7" r="2.1" fill="#161660" stroke="#0a0a30" stroke-width="0.3"/>
<circle cx="472.0" cy="533.9" r="2.1" fill="#161660" stroke="#0a0a30" stroke-width="0.3"/>
<circle cx="480.0" cy="533.5" r="2.1" fill="#161660" stroke="#0a0a30" stroke-width="0.3"/>
<circle cx="489.0" cy="533.7" r="2.1" fill="#161660" stroke="#0a0a30" stroke-width="0.3"/>
<circle cx="462.0" cy="533.6" r="2.1" fill="#161660" stroke="#0a0a30" stroke-width="0.3"/>
<circle cx="427.5" cy="482.8" r="2.1" fill="#8ecbec" stroke="#2a4a6a" stroke-width="0.45"/>
<circle cx="426.2" cy="507.3" r="2.1" fill="#8ecbec" stroke="#2a4a6a" stroke-width="0.45"/>
<circle cx="429.6" cy="502.5" r="2.1" fill="#8ecbec" stroke="#2a4a6a" stroke-width="0.45"/>
<circle cx="431.7" cy="499.9" r="2.1" fill="#8ecbec" stroke="#2a4a6a" stroke-width="0.45"/>
<circle cx="434.3" cy="499.1" r="2.1" fill="#8ecbec" stroke="#2a4a6a" stroke-width="0.45"/>
<circle cx="434.3" cy="511.5" r="2.1" fill="#8ecbec" stroke="#2a4a6a" stroke-width="0.45"/>
<circle cx="437.0" cy="497.8" r="2.1" fill="#8ecbec" stroke="#2a4a6a" stroke-width="0.45"/>
<circle cx="439.6" cy="497.8" r="2.1" fill="#8ecbec" stroke="#2a4a6a" stroke-width="0.45"/>
<circle cx="445.6" cy="495.2" r="2.1" fill="#8ecbec" stroke="#2a4a6a" stroke-width="0.45"/>
<circle cx="449.3" cy="495.2" r="2.1" fill="#8ecbec" stroke="#2a4a6a" stroke-width="0.45"/>
<circle cx="452.7" cy="495.2" r="2.1" fill="#8ecbec" stroke="#2a4a6a" stroke-width="0.45"/>
<circle cx="458.0" cy="495.2" r="2.1" fill="#8ecbec" stroke="#2a4a6a" stroke-width="0.45"/>
<circle cx="461.1" cy="501.7" r="2.1" fill="#8ecbec" stroke="#2a4a6a" stroke-width="0.45"/>
<circle cx="465.3" cy="498.3" r="2.1" fill="#8ecbec" stroke="#2a4a6a" stroke-width="0.45"/>
<circle cx="467.2" cy="494.7" r="2.1" fill="#8ecbec" stroke="#2a4a6a" stroke-width="0.45"/>
<circle cx="469.0" cy="497.3" r="2.1" fill="#8ecbec" stroke="#2a4a6a" stroke-width="0.45"/>
<circle cx="472.4" cy="494.4" r="2.1" fill="#8ecbec" stroke="#2a4a6a" stroke-width="0.45"/>
<circle cx="477.2" cy="494.4" r="2.1" fill="#8ecbec" stroke="#2a4a6a" stroke-width="0.45"/>
<circle cx="482.2" cy="510.4" r="2.1" fill="#8ecbec" stroke="#2a4a6a" stroke-width="0.45"/>
<circle cx="482.9" cy="492.5" r="2.1" fill="#8ecbec" stroke="#2a4a6a" stroke-width="0.45"/>
<circle cx="488.2" cy="492.5" r="2.1" fill="#8ecbec" stroke="#2a4a6a" stroke-width="0.45"/>
<circle cx="489.0" cy="510.4" r="2.1" fill="#8ecbec" stroke="#2a4a6a" stroke-width="0.45"/>
<circle cx="492.1" cy="493.9" r="2.1" fill="#8ecbec" stroke="#2a4a6a" stroke-width="0.45"/>
<circle cx="495.3" cy="493.9" r="2.1" fill="#8ecbec" stroke="#2a4a6a" stroke-width="0.45"/>
<circle cx="498.7" cy="492.5" r="2.1" fill="#8ecbec" stroke="#2a4a6a" stroke-width="0.45"/>
<circle cx="505.8" cy="492.5" r="2.1" fill="#8ecbec" stroke="#2a4a6a" stroke-width="0.45"/>
<circle cx="509.2" cy="493.9" r="2.1" fill="#8ecbec" stroke="#2a4a6a" stroke-width="0.45"/>
<circle cx="455.5" cy="495.5" r="2.1" fill="#8ecbec" stroke="#2a4a6a" stroke-width="0.45"/>
<circle cx="447.0" cy="495.5" r="2.1" fill="#8ecbec" stroke="#2a4a6a" stroke-width="0.45"/>
<circle cx="474.3" cy="453.7" r="2.1" fill="#f5a623" stroke="#7a5010" stroke-width="0.45"/>
<circle cx="478.5" cy="453.7" r="2.1" fill="#f5a623" stroke="#7a5010" stroke-width="0.45"/>
<circle cx="491.3" cy="453.1" r="2.1" fill="#f5a623" stroke="#7a5010" stroke-width="0.45"/>
<circle cx="517.1" cy="468.4" r="2.2" fill="#22cc22" stroke="#106010" stroke-width="0.45"/>
<path d="M517.20,413.90L518.31,416.87L521.48,417.01L519.00,418.98L519.85,422.04L517.20,420.29L514.55,422.04L515.40,418.98L512.92,417.01L516.09,416.87Z" fill="#1a1a1a" stroke="#f7c51c" stroke-width="0.9" stroke-linejoin="round"/>
<circle cx="517.2" cy="418.9" r="2.1" fill="#7a20d8"/>
<rect x="606.6" y="411.80" width="6.0" height="9.3" fill="#e00000"/>
<rect x="606.6" y="421.08" width="6.0" height="9.3" fill="#f5a623"/>
<rect x="606.6" y="430.36" width="6.0" height="9.3" fill="#22dd22"/>
<rect x="606.6" y="439.64" width="6.0" height="9.3" fill="#8ecbec"/>
<rect x="606.6" y="448.92" width="6.0" height="9.3" fill="#0b0b6e"/>
<rect x="606.6" y="411.8" width="6.0" height="46.4" fill="none" stroke="#333" stroke-width="0.4"/>
<line x1="612.60" y1="420.90" x2="615.20" y2="420.90" stroke="#333" stroke-width="0.5"/>
<text x="617.6" y="423.7" font-size="7.9">0.8</text>
<line x1="612.60" y1="430.18" x2="615.20" y2="430.18" stroke="#333" stroke-width="0.5"/>
<text x="617.6" y="433.0" font-size="7.9">0.6</text>
<line x1="612.60" y1="439.46" x2="615.20" y2="439.46" stroke="#333" stroke-width="0.5"/>
<text x="617.6" y="442.3" font-size="7.9">0.4</text>
<line x1="612.60" y1="448.74" x2="615.20" y2="448.74" stroke="#333" stroke-width="0.5"/>
<text x="617.6" y="451.5" font-size="7.9">0.2</text>
<text x="614.5" y="410.5" font-size="9" fill="#231f20">r<tspan font-size="6" dy="-4">2</tspan></text>
<path d="M595.20,465.70L596.24,468.47L599.19,468.60L596.88,470.45L597.67,473.30L595.20,471.66L592.73,473.30L593.52,470.45L591.21,468.60L594.16,468.47Z" fill="#111" stroke="#f7c51c" stroke-width="0.8" stroke-linejoin="round"/>
<text x="601.2" y="469.8" font-size="7.4" textLength="37.4" lengthAdjust="spacingAndGlyphs">Credible set</text>
<text x="601.2" y="478.0" font-size="7.4" textLength="25.5" lengthAdjust="spacingAndGlyphs">member</text>
<rect x="348.3" y="556.8" width="296.0" height="35.5" fill="none" stroke="#c8c8c8" stroke-width="0.9"/>
<line x1="348.30" y1="592.30" x2="348.30" y2="596.30" stroke="#999" stroke-width="0.8"/>
<text x="348.3" y="605.2" font-size="7.9" text-anchor="middle">33.1</text>
<line x1="407.50" y1="592.30" x2="407.50" y2="596.30" stroke="#999" stroke-width="0.8"/>
<text x="407.5" y="605.2" font-size="7.9" text-anchor="middle">33.2</text>
<line x1="466.70" y1="592.30" x2="466.70" y2="596.30" stroke="#999" stroke-width="0.8"/>
<text x="466.7" y="605.2" font-size="7.9" text-anchor="middle">33.3</text>
<line x1="525.90" y1="592.30" x2="525.90" y2="596.30" stroke="#999" stroke-width="0.8"/>
<text x="525.9" y="605.2" font-size="7.9" text-anchor="middle">33.4</text>
<line x1="585.10" y1="592.30" x2="585.10" y2="596.30" stroke="#999" stroke-width="0.8"/>
<text x="585.1" y="605.2" font-size="7.9" text-anchor="middle">33.5</text>
<line x1="644.30" y1="592.30" x2="644.30" y2="596.30" stroke="#999" stroke-width="0.8"/>
<text x="644.3" y="605.2" font-size="7.9" text-anchor="middle">33.6</text>
<text x="431.4" y="619.8" font-size="8.6" textLength="130.0" lengthAdjust="spacingAndGlyphs">Position on chromosome 9 (Mb)</text>
<line x1="354.50" y1="565.40" x2="387.80" y2="565.40" stroke="#1a1a8c" stroke-width="0.8"/>
<rect x="354.9" y="564.2" width="1.1" height="2.4" fill="#1a1a8c"/>
<rect x="356.9" y="564.2" width="1.1" height="2.4" fill="#1a1a8c"/>
<rect x="360.4" y="564.2" width="1.1" height="2.4" fill="#1a1a8c"/>
<rect x="365.4" y="564.2" width="1.1" height="2.4" fill="#1a1a8c"/>
<rect x="371.4" y="564.2" width="1.1" height="2.4" fill="#1a1a8c"/>
<rect x="377.4" y="564.2" width="1.1" height="2.4" fill="#1a1a8c"/>
<rect x="386.2" y="564.2" width="1.1" height="2.4" fill="#1a1a8c"/>
<text x="356.3" y="563.6" font-size="6.6" font-style="italic" fill="#222" textLength="31.0" lengthAdjust="spacingAndGlyphs">← B4GALT1</text>
<line x1="386.80" y1="577.60" x2="395.70" y2="577.60" stroke="#1a1a8c" stroke-width="0.8"/>
<rect x="386.9" y="576.4" width="1.1" height="2.4" fill="#1a1a8c"/>
<rect x="390.4" y="576.4" width="1.1" height="2.4" fill="#1a1a8c"/>
<rect x="394.4" y="576.4" width="1.1" height="2.4" fill="#1a1a8c"/>
<text x="367.0" y="575.2" font-size="6.6" font-style="italic" fill="#222" textLength="45.3" lengthAdjust="spacingAndGlyphs">B4GALT1-AS1 →</text>
<line x1="430.60" y1="565.40" x2="435.90" y2="565.40" stroke="#1a1a8c" stroke-width="0.8"/>
<rect x="430.4" y="564.2" width="1.1" height="2.4" fill="#1a1a8c"/>
<rect x="432.9" y="564.2" width="1.1" height="2.4" fill="#1a1a8c"/>
<rect x="434.9" y="564.2" width="1.1" height="2.4" fill="#1a1a8c"/>
<text x="418.8" y="563.6" font-size="6.6" font-style="italic" fill="#222" textLength="27.6" lengthAdjust="spacingAndGlyphs">SPINK4 →</text>
<line x1="437.70" y1="577.60" x2="442.50" y2="577.60" stroke="#1a1a8c" stroke-width="0.8"/>
<rect x="437.7" y="576.0" width="4.8" height="3.2" fill="#1a1a8c"/>
<text x="432.0" y="575.2" font-size="6.6" font-style="italic" fill="#222" textLength="21.5" lengthAdjust="spacingAndGlyphs">← BAG1</text>
<line x1="445.10" y1="589.70" x2="455.60" y2="589.70" stroke="#1a1a8c" stroke-width="0.8"/>
<rect x="445.2" y="588.5" width="1.1" height="2.4" fill="#1a1a8c"/>
<rect x="447.4" y="588.5" width="1.1" height="2.4" fill="#1a1a8c"/>
<rect x="449.9" y="588.5" width="1.1" height="2.4" fill="#1a1a8c"/>
<rect x="452.4" y="588.5" width="1.1" height="2.4" fill="#1a1a8c"/>
<rect x="454.4" y="588.5" width="1.1" height="2.4" fill="#1a1a8c"/>
<text x="435.1" y="587.5" font-size="6.6" font-style="italic" fill="#222" textLength="27.9" lengthAdjust="spacingAndGlyphs">CHMP5 →</text>
<line x1="460.30" y1="565.40" x2="508.20" y2="565.40" stroke="#1a1a8c" stroke-width="0.8"/>
<rect x="460.4" y="564.2" width="1.1" height="2.4" fill="#1a1a8c"/>
<rect x="462.9" y="564.2" width="1.1" height="2.4" fill="#1a1a8c"/>
<rect x="465.4" y="564.2" width="1.1" height="2.4" fill="#1a1a8c"/>
<rect x="468.4" y="564.2" width="1.1" height="2.4" fill="#1a1a8c"/>
<rect x="471.4" y="564.2" width="1.1" height="2.4" fill="#1a1a8c"/>
<rect x="475.4" y="564.2" width="1.1" height="2.4" fill="#1a1a8c"/>
<rect x="479.4" y="564.2" width="1.1" height="2.4" fill="#1a1a8c"/>
<rect x="483.4" y="564.2" width="1.1" height="2.4" fill="#1a1a8c"/>
<rect x="486.4" y="564.2" width="1.1" height="2.4" fill="#1a1a8c"/>
<rect x="489.4" y="564.2" width="1.1" height="2.4" fill="#1a1a8c"/>
<rect x="492.4" y="564.2" width="1.1" height="2.4" fill="#1a1a8c"/>
<rect x="495.4" y="564.2" width="1.1" height="2.4" fill="#1a1a8c"/>
<rect x="498.4" y="564.2" width="1.1" height="2.4" fill="#1a1a8c"/>
<rect x="501.4" y="564.2" width="1.1" height="2.4" fill="#1a1a8c"/>
<rect x="504.4" y="564.2" width="1.1" height="2.4" fill="#1a1a8c"/>
<rect x="506.9" y="564.2" width="1.1" height="2.4" fill="#1a1a8c"/>
<text x="474.0" y="563.6" font-size="6.6" font-style="italic" fill="#222" textLength="21.0" lengthAdjust="spacingAndGlyphs">NFX1 →</text>
<line x1="516.80" y1="565.50" x2="527.30" y2="565.50" stroke="#1a1a8c" stroke-width="0.8"/>
<rect x="516.7" y="564.3" width="1.1" height="2.4" fill="#1a1a8c"/>
<rect x="519.5" y="564.3" width="1.1" height="2.4" fill="#1a1a8c"/>
<rect x="522.5" y="564.3" width="1.1" height="2.4" fill="#1a1a8c"/>
<rect x="526.2" y="564.3" width="1.1" height="2.4" fill="#1a1a8c"/>
<text x="512.4" y="563.6" font-size="6.6" font-style="italic" fill="#222" textLength="22.8" lengthAdjust="spacingAndGlyphs">← AQP7</text>
<line x1="550.20" y1="565.50" x2="553.60" y2="565.50" stroke="#1a1a8c" stroke-width="0.8"/>
<rect x="550.1" y="564.3" width="1.1" height="2.4" fill="#1a1a8c"/>
<rect x="551.5" y="564.3" width="1.1" height="2.4" fill="#1a1a8c"/>
<rect x="552.7" y="564.3" width="1.1" height="2.4" fill="#1a1a8c"/>
<text x="542.6" y="563.6" font-size="6.6" font-style="italic" fill="#222" textLength="22.8" lengthAdjust="spacingAndGlyphs">← AQP3</text>
<line x1="588.60" y1="565.50" x2="591.70" y2="565.50" stroke="#1a1a8c" stroke-width="0.8"/>
<rect x="588.5" y="564.3" width="1.1" height="2.4" fill="#1a1a8c"/>
<rect x="590.8" y="564.3" width="1.1" height="2.4" fill="#1a1a8c"/>
<text x="575.4" y="563.6" font-size="6.6" font-style="italic" fill="#222" textLength="30.2" lengthAdjust="spacingAndGlyphs">← SUGT1P1</text>
<line x1="562.30" y1="577.30" x2="569.40" y2="577.30" stroke="#1a1a8c" stroke-width="0.8"/>
<rect x="562.3" y="575.7" width="7.1" height="3.2" fill="#1a1a8c"/>
<text x="556.2" y="575.4" font-size="6.6" font-style="italic" fill="#222" textLength="22.9" lengthAdjust="spacingAndGlyphs">← NOL6</text>
<line x1="599.00" y1="577.30" x2="628.50" y2="577.30" stroke="#1a1a8c" stroke-width="0.8"/>
<rect x="599.0" y="576.1" width="1.1" height="2.4" fill="#1a1a8c"/>
<rect x="601.5" y="576.1" width="1.1" height="2.4" fill="#1a1a8c"/>
<rect x="604.5" y="576.1" width="1.1" height="2.4" fill="#1a1a8c"/>
<rect x="607.5" y="576.1" width="1.1" height="2.4" fill="#1a1a8c"/>
<rect x="610.5" y="576.1" width="1.1" height="2.4" fill="#1a1a8c"/>
<rect x="613.5" y="576.1" width="1.1" height="2.4" fill="#1a1a8c"/>
<rect x="616.5" y="576.1" width="1.1" height="2.4" fill="#1a1a8c"/>
<rect x="619.5" y="576.1" width="1.1" height="2.4" fill="#1a1a8c"/>
<rect x="622.5" y="576.1" width="1.1" height="2.4" fill="#1a1a8c"/>
<rect x="625.5" y="576.1" width="1.1" height="2.4" fill="#1a1a8c"/>
<rect x="627.5" y="576.1" width="1.1" height="2.4" fill="#1a1a8c"/>
<text x="594.9" y="575.4" font-size="6.6" font-style="italic" fill="#222" textLength="36.2" lengthAdjust="spacingAndGlyphs">ANKRD18B →</text>
<line x1="566.20" y1="587.50" x2="566.20" y2="590.50" stroke="#1a1a8c" stroke-width="0.7"/>
<text x="552.3" y="587.5" font-size="6.6" font-style="italic" fill="#222" textLength="31.0" lengthAdjust="spacingAndGlyphs">← MIR6851</text>
<text x="0.7" y="546.5" font-size="13" font-weight="bold" fill="#000" stroke="#000" stroke-width="0.3">f</text>
<g filter="url(#glow)"><rect x="64" y="556" width="38" height="112" rx="14" fill="#fddc86"/><rect x="62" y="714" width="38" height="118" rx="14" fill="#fddc86"/><rect x="66" y="664" width="30" height="54" fill="#fee7b2"/></g>
<path d="M113.0,545.7 Q211.0,542.3 283.0,545.3 Q287.0,545.4 287.0,549.7 L287.0,599.0 A7,10.2 0 0 0 287.0,619.4 L287.0,672.6 Q287.0,676.6 283.0,676.6 L113.0,676.6 Z" fill="url(#cellg)"/>
<path d="M100.80,545.50 L86.60,546.30 L86.76,546.51 L87.26,546.73 L88.09,546.94 L89.27,547.15 L90.82,547.37 L92.82,547.58 L95.47,547.80 L100.80,548.01 L115.00,549.72 L114.84,549.93 L114.34,550.15 L113.51,550.36 L112.33,550.57 L110.78,550.79 L108.78,551.00 L106.13,551.21 L100.80,551.43 L95.47,551.64 L92.82,551.85 L90.82,552.07 L89.27,552.28 L88.09,552.50 L87.26,552.71 L86.76,552.92 L86.60,553.14 L86.76,553.35 L87.26,553.56 L88.09,553.78 L89.27,553.99 L90.82,554.21 L92.82,554.42 L95.47,554.63 L100.80,554.85 L106.13,555.06 L108.78,555.27 L110.78,555.49 L112.33,555.70 L113.51,555.91 L114.34,556.13 L114.84,556.34 L115.00,556.56 L114.84,556.77 L114.34,556.98 L113.51,557.20 L112.33,557.41 L110.78,557.62 L108.78,557.84 L106.13,558.05 L100.80,558.26 L95.47,558.48 L92.82,558.69 L90.82,558.91 L89.27,559.12 L88.09,559.33 L87.26,559.55 L86.76,559.76 L86.60,559.97 L86.76,560.19 L87.26,560.40 L88.09,560.61 L89.27,560.83 L90.82,561.04 L92.82,561.26 L95.47,561.47 L100.80,561.68 L106.13,561.90 L108.78,562.11 L110.78,562.32 L112.33,562.54 L113.51,562.75 L114.34,562.96 L114.84,563.18 L115.00,563.39 L114.84,563.61 L114.34,563.82 L113.51,564.03 L112.33,564.25 L110.78,564.46 L108.78,564.67 L106.13,564.89 L100.80,565.10 L95.47,565.31 L92.82,565.53 L90.82,565.74 L89.27,565.96 L88.09,566.17 L87.26,566.38 L86.76,566.60 L86.60,566.81 L86.76,567.02 L87.26,567.24 L88.09,567.45 L89.27,567.67 L90.82,567.88 L92.82,568.09 L95.47,568.31 L100.80,568.52 L106.13,568.73 L108.78,568.95 L110.78,569.16 L112.33,569.37 L113.51,569.59 L114.34,569.80 L114.84,570.02 L115.00,570.23 L114.84,570.44 L114.34,570.66 L113.51,570.87 L112.33,571.08 L110.78,571.30 L108.78,571.51 L106.13,571.72 L100.80,571.94 L95.47,572.15 L92.82,572.37 L90.82,572.58 L89.27,572.79 L88.09,573.01 L87.26,573.22 L86.76,573.43 L86.60,573.65 L86.76,573.86 L87.26,574.07 L88.09,574.29 L89.27,574.50 L90.82,574.72 L92.82,574.93 L95.47,575.14 L100.80,575.36 L106.13,575.57 L108.78,575.78 L110.78,576.00 L112.33,576.21 L113.51,576.42 L114.34,576.64 L114.84,576.85 L115.00,577.07 L114.84,577.28 L114.34,577.49 L113.51,577.71 L112.33,577.92 L110.78,578.13 L108.78,578.35 L106.13,578.56 L100.80,578.78 L95.47,578.99 L92.82,579.20 L90.82,579.42 L89.27,579.63 L88.09,579.84 L87.26,580.06 L86.76,580.27 L86.60,580.48 L86.76,580.70 L87.26,580.91 L88.09,581.13 L89.27,581.34 L90.82,581.55 L92.82,581.77 L95.47,581.98 L100.80,582.19 L106.13,582.41 L108.78,582.62 L110.78,582.83 L112.33,583.05 L113.51,583.26 L114.34,583.48 L114.84,583.69 L115.00,583.90 L114.84,584.12 L114.34,584.33 L113.51,584.54 L112.33,584.76 L110.78,584.97 L108.78,585.18 L106.13,585.40 L100.80,585.61 L95.47,585.83 L92.82,586.04 L90.82,586.25 L89.27,586.47 L88.09,586.68 L87.26,586.89 L86.76,587.11 L86.60,587.32 L86.76,587.53 L87.26,587.75 L88.09,587.96 L89.27,588.18 L90.82,588.39 L92.82,588.60 L95.47,588.82 L100.80,589.03 L106.13,589.24 L108.78,589.46 L110.78,589.67 L112.33,589.88 L113.51,590.10 L114.34,590.31 L114.84,590.53 L115.00,590.74 L114.84,590.95 L114.34,591.17 L113.51,591.38 L112.33,591.59 L110.78,591.81 L108.78,592.02 L106.13,592.24 L100.80,592.45 L95.47,592.66 L92.82,592.88 L90.82,593.09 L89.27,593.30 L88.09,593.52 L87.26,593.73 L86.76,593.94 L86.60,594.16 L86.76,594.37 L87.26,594.59 L88.09,594.80 L89.27,595.01 L90.82,595.23 L92.82,595.44 L95.47,595.65 L100.80,595.87 L106.13,596.08 L108.78,596.29 L110.78,596.51 L112.33,596.72 L113.51,596.94 L114.34,597.15 L114.84,597.36 L115.00,597.58 L114.84,597.79 L114.34,598.00 L113.51,598.22 L112.33,598.43 L110.78,598.64 L108.78,598.86 L106.13,599.07 L100.80,599.29 L95.47,599.50 L92.82,599.71 L90.82,599.93 L89.27,600.14 L88.09,600.35 L87.26,600.57 L86.76,600.78 L86.60,600.99 L86.76,601.21 L87.26,601.42 L88.09,601.64 L89.27,601.85 L90.82,602.06 L92.82,602.28 L95.47,602.49 L100.80,602.70 L106.13,602.92 L108.78,603.13 L110.78,603.34 L112.33,603.56 L113.51,603.77 L114.34,603.99 L114.84,604.20 L115.00,604.41 L114.84,604.63 L114.34,604.84 L113.51,605.05 L112.33,605.27 L110.78,605.48 L108.78,605.70 L106.13,605.91 L100.80,606.12 L95.47,606.34 L92.82,606.55 L90.82,606.76 L89.27,606.98 L88.09,607.19 L87.26,607.40 L86.76,607.62 L86.60,607.83 L86.76,608.05 L87.26,608.26 L88.09,608.47 L89.27,608.69 L90.82,608.90 L92.82,609.11 L95.47,609.33 L100.80,609.54 L106.13,609.75 L108.78,609.97 L110.78,610.18 L112.33,610.40 L113.51,610.61 L114.34,610.82 L114.84,611.04 L115.00,611.25 L114.84,611.46 L114.34,611.68 L113.51,611.89 L112.33,612.10 L110.78,612.32 L108.78,612.53 L106.13,612.75 L100.80,612.96 L95.47,613.17 L92.82,613.39 L90.82,613.60 L89.27,613.81 L88.09,614.03 L87.26,614.24 L86.76,614.45 L86.60,614.67 L86.76,614.88 L87.26,615.10 L88.09,615.31 L89.27,615.52 L90.82,615.74 L92.82,615.95 L95.47,616.16 L100.80,616.38 L106.13,616.59 L108.78,616.80 L110.78,617.02 L112.33,617.23 L113.51,617.45 L114.34,617.66 L114.84,617.87 L115.00,618.09 L114.84,618.30 L114.34,618.51 L113.51,618.73 L112.33,618.94 L110.78,619.16 L108.78,619.37 L106.13,619.58 L100.80,619.80 L95.47,620.01 L92.82,620.22 L90.82,620.44 L89.27,620.65 L88.09,620.86 L87.26,621.08 L86.76,621.29 L86.60,621.51 L86.76,621.72 L87.26,621.93 L88.09,622.15 L89.27,622.36 L90.82,622.57 L92.82,622.79 L95.47,623.00 L100.80,623.21 L106.13,623.43 L108.78,623.64 L110.78,623.86 L112.33,624.07 L113.51,624.28 L114.34,624.50 L114.84,624.71 L115.00,624.92 L114.84,625.14 L114.34,625.35 L113.51,625.56 L112.33,625.78 L110.78,625.99 L108.78,626.21 L106.13,626.42 L100.80,626.63 L95.47,626.85 L92.82,627.06 L90.82,627.27 L89.27,627.49 L88.09,627.70 L87.26,627.91 L86.76,628.13 L86.60,628.34 L86.76,628.56 L87.26,628.77 L88.09,628.98 L89.27,629.20 L90.82,629.41 L92.82,629.62 L95.47,629.84 L100.80,630.05 L106.13,630.26 L108.78,630.48 L110.78,630.69 L112.33,630.91 L113.51,631.12 L114.34,631.33 L114.84,631.55 L115.00,631.76 L114.84,631.97 L114.34,632.19 L113.51,632.40 L112.33,632.62 L110.78,632.83 L108.78,633.04 L106.13,633.26 L100.80,633.47 L95.47,633.68 L92.82,633.90 L90.82,634.11 L89.27,634.32 L88.09,634.54 L87.26,634.75 L86.76,634.97 L86.60,635.18 L86.76,635.39 L87.26,635.61 L88.09,635.82 L89.27,636.03 L90.82,636.25 L92.82,636.46 L95.47,636.67 L100.80,636.89 L106.13,637.10 L108.78,637.32 L110.78,637.53 L112.33,637.74 L113.51,637.96 L114.34,638.17 L114.84,638.38 L115.00,638.60 L114.84,638.81 L114.34,639.02 L113.51,639.24 L112.33,639.45 L110.78,639.67 L108.78,639.88 L106.13,640.09 L100.80,640.31 L95.47,640.52 L92.82,640.73 L90.82,640.95 L89.27,641.16 L88.09,641.37 L87.26,641.59 L86.76,641.80 L86.60,642.02 L86.76,642.23 L87.26,642.44 L88.09,642.66 L89.27,642.87 L90.82,643.08 L92.82,643.30 L95.47,643.51 L100.80,643.73 L106.13,643.94 L108.78,644.15 L110.78,644.37 L112.33,644.58 L113.51,644.79 L114.34,645.01 L114.84,645.22 L115.00,645.43 L114.84,645.65 L114.34,645.86 L113.51,646.08 L112.33,646.29 L110.78,646.50 L108.78,646.72 L106.13,646.93 L100.80,647.14 L95.47,647.36 L92.82,647.57 L90.82,647.78 L89.27,648.00 L88.09,648.21 L87.26,648.43 L86.76,648.64 L86.60,648.85 L86.76,649.07 L87.26,649.28 L88.09,649.49 L89.27,649.71 L90.82,649.92 L92.82,650.13 L95.47,650.35 L100.80,650.56 L106.13,650.78 L108.78,650.99 L110.78,651.20 L112.33,651.42 L113.51,651.63 L114.34,651.84 L114.84,652.06 L115.00,652.27 L114.84,652.48 L114.34,652.70 L113.51,652.91 L112.33,653.13 L110.78,653.34 L108.78,653.55 L106.13,653.77 L100.80,653.98 L95.47,654.19 L92.82,654.41 L90.82,654.62 L89.27,654.83 L88.09,655.05 L87.26,655.26 L86.76,655.48 L86.60,655.69 L86.76,655.90 L87.26,656.12 L88.09,656.33 L89.27,656.54 L90.82,656.76 L92.82,656.97 L95.47,657.19 L100.80,657.40 L106.13,657.61 L108.78,657.83 L110.78,658.04 L112.33,658.25 L113.51,658.47 L114.34,658.68 L114.84,658.89 L115.00,659.11 L114.84,659.32 L114.34,659.54 L113.51,659.75 L112.33,659.96 L110.78,660.18 L108.78,660.39 L106.13,660.60 L100.80,660.82 L95.47,661.03 L92.82,661.24 L90.82,661.46 L89.27,661.67 L88.09,661.89 L87.26,662.10 L86.76,662.31 L86.60,662.53 L86.76,662.74 L87.26,662.95 L88.09,663.17 L89.27,663.38 L90.82,663.59 L92.82,663.81 L95.47,664.02 L100.80,664.24 L106.13,664.45 L108.78,664.66 L110.78,664.88 L112.33,665.09 L113.51,665.30 L114.34,665.52 L114.84,665.73 L115.00,665.94 L114.84,666.16 L114.34,666.37 L113.51,666.59 L112.33,666.80 L110.78,667.01 L108.78,667.23 L106.13,667.44 L100.80,667.65 L95.47,667.87 L92.82,668.08 L90.82,668.29 L89.27,668.51 L88.09,668.72 L87.26,668.94 L86.76,669.15 L86.60,669.36 L86.76,669.58 L87.26,669.79 L88.09,670.00 L89.27,670.22 L90.82,670.43 L92.82,670.65 L95.47,670.86 L100.80,671.07 L106.13,671.29 L108.78,671.50 L110.78,671.71 L112.33,671.93 L113.51,672.14 L114.34,672.35 L114.84,672.57 L115.00,672.78 L114.84,673.00 L114.34,673.21 L113.51,673.42 L112.33,673.64 L110.78,673.85 L108.78,674.06 L106.13,674.28 L100.80,674.49 L95.47,674.70 L92.82,674.92 L90.82,675.13 L89.27,675.35 L88.09,675.56 L87.26,675.77 L86.76,675.99 L86.60,676.20 L100.80,676.60" fill="none" stroke="#000" stroke-width="1.7" stroke-linejoin="round"/>
<path d="M100.80,676.60 L283.0,676.60 Q287.0,676.6 287.0,672.6 L287.0,619.4 A7,10.2 0 0 1 287.0,599.0 L287.0,549.7 Q287.0,545.4 283.0,545.3 Q203.9,542.3 100.80,545.50" fill="none" stroke="#000" stroke-width="1.35" stroke-linejoin="round"/>
<path d="M208.00,589.20 C213.02,589.37 218.63,593.28 221.50,597.00 C224.37,600.72 225.02,606.30 225.20,611.50 C225.38,616.70 225.28,622.92 222.60,628.20 C219.92,633.48 213.60,641.82 209.10,643.20 C204.60,644.58 199.32,641.43 195.60,636.50 C191.88,631.57 187.50,620.35 186.80,613.60 C186.10,606.85 187.87,600.07 191.40,596.00 C194.93,591.93 202.98,589.03 208.00,589.20Z" fill="#c4c9e6" stroke="#000" stroke-width="1.5"/>
<ellipse cx="207.2" cy="616.2" rx="4.6" ry="4.1" fill="#8c97c4"/>
<path d="M227.90,575.40 C228.73,576.23 231.38,578.42 232.90,580.40 C234.42,582.38 235.90,584.98 237.00,587.30 C238.10,589.62 238.85,591.98 239.50,594.30 C240.15,596.62 240.57,598.78 240.90,601.20 C241.23,603.62 241.40,606.15 241.50,608.80 C241.60,611.45 241.67,614.47 241.50,617.10 C241.33,619.73 240.67,623.35 240.50,624.60" fill="none" stroke="#000" stroke-width="6.6" stroke-linecap="round"/>
<path d="M218.20,582.30 C219.03,583.02 221.57,584.83 223.20,586.60 C224.83,588.37 226.78,590.82 228.00,592.90 C229.22,594.98 229.90,596.92 230.50,599.10 C231.10,601.28 231.32,603.68 231.60,606.00 C231.88,608.32 232.20,610.33 232.20,613.00 C232.20,615.67 232.00,619.08 231.60,622.00 C231.20,624.92 230.65,628.00 229.80,630.50 C228.95,633.00 227.97,634.95 226.50,637.00 C225.03,639.05 222.92,641.13 221.00,642.80 C219.08,644.47 216.00,646.30 215.00,647.00" fill="none" stroke="#000" stroke-width="6.8" stroke-linecap="round"/>
<path d="M241.00,632.40 C240.25,633.33 238.12,636.18 236.50,638.00 C234.88,639.82 233.27,641.55 231.30,643.30 C229.33,645.05 226.90,646.75 224.70,648.50 C222.50,650.25 220.02,652.30 218.10,653.80 C216.18,655.30 214.02,656.88 213.20,657.50" fill="none" stroke="#000" stroke-width="5.4" stroke-linecap="round"/>
<path d="M231.60,609.60 L241.50,609.60" fill="none" stroke="#000" stroke-width="6.0" stroke-linecap="round"/>
<path d="M227.60,640.00 L230.60,643.80" fill="none" stroke="#000" stroke-width="5.4" stroke-linecap="round"/>
<path d="M227.90,575.40 C228.73,576.23 231.38,578.42 232.90,580.40 C234.42,582.38 235.90,584.98 237.00,587.30 C238.10,589.62 238.85,591.98 239.50,594.30 C240.15,596.62 240.57,598.78 240.90,601.20 C241.23,603.62 241.40,606.15 241.50,608.80 C241.60,611.45 241.67,614.47 241.50,617.10 C241.33,619.73 240.67,623.35 240.50,624.60" fill="none" stroke="#c4c9e6" stroke-width="3.9" stroke-linecap="round"/>
<path d="M218.20,582.30 C219.03,583.02 221.57,584.83 223.20,586.60 C224.83,588.37 226.78,590.82 228.00,592.90 C229.22,594.98 229.90,596.92 230.50,599.10 C231.10,601.28 231.32,603.68 231.60,606.00 C231.88,608.32 232.20,610.33 232.20,613.00 C232.20,615.67 232.00,619.08 231.60,622.00 C231.20,624.92 230.65,628.00 229.80,630.50 C228.95,633.00 227.97,634.95 226.50,637.00 C225.03,639.05 222.92,641.13 221.00,642.80 C219.08,644.47 216.00,646.30 215.00,647.00" fill="none" stroke="#c4c9e6" stroke-width="4.1" stroke-linecap="round"/>
<path d="M241.00,632.40 C240.25,633.33 238.12,636.18 236.50,638.00 C234.88,639.82 233.27,641.55 231.30,643.30 C229.33,645.05 226.90,646.75 224.70,648.50 C222.50,650.25 220.02,652.30 218.10,653.80 C216.18,655.30 214.02,656.88 213.20,657.50" fill="none" stroke="#c4c9e6" stroke-width="2.9" stroke-linecap="round"/>
<path d="M231.60,609.60 L241.50,609.60" fill="none" stroke="#c4c9e6" stroke-width="3.6" stroke-linecap="round"/>
<path d="M227.60,640.00 L230.60,643.80" fill="none" stroke="#c4c9e6" stroke-width="2.9" stroke-linecap="round"/>
<path d="M110.6,704.7 Q208.1,701.3 279.6,704.3 Q283.6,704.4 283.6,708.7 L283.6,758.0 A7,10.2 0 0 0 283.6,778.4 L283.6,831.6 Q283.6,835.6 279.6,835.6 L110.6,835.6 Z" fill="url(#cellg)"/>
<path d="M98.30,704.50 L84.00,705.30 L84.17,705.51 L84.66,705.73 L85.50,705.94 L86.68,706.15 L88.25,706.37 L90.26,706.58 L92.94,706.80 L98.30,707.01 L112.60,708.72 L112.43,708.93 L111.94,709.15 L111.10,709.36 L109.92,709.57 L108.35,709.79 L106.34,710.00 L103.66,710.21 L98.30,710.43 L92.94,710.64 L90.26,710.85 L88.25,711.07 L86.68,711.28 L85.50,711.50 L84.66,711.71 L84.17,711.92 L84.00,712.14 L84.17,712.35 L84.66,712.56 L85.50,712.78 L86.68,712.99 L88.25,713.21 L90.26,713.42 L92.94,713.63 L98.30,713.85 L103.66,714.06 L106.34,714.27 L108.35,714.49 L109.92,714.70 L111.10,714.91 L111.94,715.13 L112.43,715.34 L112.60,715.56 L112.43,715.77 L111.94,715.98 L111.10,716.20 L109.92,716.41 L108.35,716.62 L106.34,716.84 L103.66,717.05 L98.30,717.26 L92.94,717.48 L90.26,717.69 L88.25,717.91 L86.68,718.12 L85.50,718.33 L84.66,718.55 L84.17,718.76 L84.00,718.97 L84.17,719.19 L84.66,719.40 L85.50,719.61 L86.68,719.83 L88.25,720.04 L90.26,720.26 L92.94,720.47 L98.30,720.68 L103.66,720.90 L106.34,721.11 L108.35,721.32 L109.92,721.54 L111.10,721.75 L111.94,721.96 L112.43,722.18 L112.60,722.39 L112.43,722.61 L111.94,722.82 L111.10,723.03 L109.92,723.25 L108.35,723.46 L106.34,723.67 L103.66,723.89 L98.30,724.10 L92.94,724.31 L90.26,724.53 L88.25,724.74 L86.68,724.96 L85.50,725.17 L84.66,725.38 L84.17,725.60 L84.00,725.81 L84.17,726.02 L84.66,726.24 L85.50,726.45 L86.68,726.67 L88.25,726.88 L90.26,727.09 L92.94,727.31 L98.30,727.52 L103.66,727.73 L106.34,727.95 L108.35,728.16 L109.92,728.37 L111.10,728.59 L111.94,728.80 L112.43,729.02 L112.60,729.23 L112.43,729.44 L111.94,729.66 L111.10,729.87 L109.92,730.08 L108.35,730.30 L106.34,730.51 L103.66,730.72 L98.30,730.94 L92.94,731.15 L90.26,731.37 L88.25,731.58 L86.68,731.79 L85.50,732.01 L84.66,732.22 L84.17,732.43 L84.00,732.65 L84.17,732.86 L84.66,733.07 L85.50,733.29 L86.68,733.50 L88.25,733.72 L90.26,733.93 L92.94,734.14 L98.30,734.36 L103.66,734.57 L106.34,734.78 L108.35,735.00 L109.92,735.21 L111.10,735.42 L111.94,735.64 L112.43,735.85 L112.60,736.07 L112.43,736.28 L111.94,736.49 L111.10,736.71 L109.92,736.92 L108.35,737.13 L106.34,737.35 L103.66,737.56 L98.30,737.78 L92.94,737.99 L90.26,738.20 L88.25,738.42 L86.68,738.63 L85.50,738.84 L84.66,739.06 L84.17,739.27 L84.00,739.48 L84.17,739.70 L84.66,739.91 L85.50,740.13 L86.68,740.34 L88.25,740.55 L90.26,740.77 L92.94,740.98 L98.30,741.19 L103.66,741.41 L106.34,741.62 L108.35,741.83 L109.92,742.05 L111.10,742.26 L111.94,742.48 L112.43,742.69 L112.60,742.90 L112.43,743.12 L111.94,743.33 L111.10,743.54 L109.92,743.76 L108.35,743.97 L106.34,744.18 L103.66,744.40 L98.30,744.61 L92.94,744.83 L90.26,745.04 L88.25,745.25 L86.68,745.47 L85.50,745.68 L84.66,745.89 L84.17,746.11 L84.00,746.32 L84.17,746.53 L84.66,746.75 L85.50,746.96 L86.68,747.18 L88.25,747.39 L90.26,747.60 L92.94,747.82 L98.30,748.03 L103.66,748.24 L106.34,748.46 L108.35,748.67 L109.92,748.88 L111.10,749.10 L111.94,749.31 L112.43,749.53 L112.60,749.74 L112.43,749.95 L111.94,750.17 L111.10,750.38 L109.92,750.59 L108.35,750.81 L106.34,751.02 L103.66,751.24 L98.30,751.45 L92.94,751.66 L90.26,751.88 L88.25,752.09 L86.68,752.30 L85.50,752.52 L84.66,752.73 L84.17,752.94 L84.00,753.16 L84.17,753.37 L84.66,753.59 L85.50,753.80 L86.68,754.01 L88.25,754.23 L90.26,754.44 L92.94,754.65 L98.30,754.87 L103.66,755.08 L106.34,755.29 L108.35,755.51 L109.92,755.72 L111.10,755.94 L111.94,756.15 L112.43,756.36 L112.60,756.58 L112.43,756.79 L111.94,757.00 L111.10,757.22 L109.92,757.43 L108.35,757.64 L106.34,757.86 L103.66,758.07 L98.30,758.29 L92.94,758.50 L90.26,758.71 L88.25,758.93 L86.68,759.14 L85.50,759.35 L84.66,759.57 L84.17,759.78 L84.00,759.99 L84.17,760.21 L84.66,760.42 L85.50,760.64 L86.68,760.85 L88.25,761.06 L90.26,761.28 L92.94,761.49 L98.30,761.70 L103.66,761.92 L106.34,762.13 L108.35,762.34 L109.92,762.56 L111.10,762.77 L111.94,762.99 L112.43,763.20 L112.60,763.41 L112.43,763.63 L111.94,763.84 L111.10,764.05 L109.92,764.27 L108.35,764.48 L106.34,764.70 L103.66,764.91 L98.30,765.12 L92.94,765.34 L90.26,765.55 L88.25,765.76 L86.68,765.98 L85.50,766.19 L84.66,766.40 L84.17,766.62 L84.00,766.83 L84.17,767.05 L84.66,767.26 L85.50,767.47 L86.68,767.69 L88.25,767.90 L90.26,768.11 L92.94,768.33 L98.30,768.54 L103.66,768.75 L106.34,768.97 L108.35,769.18 L109.92,769.40 L111.10,769.61 L111.94,769.82 L112.43,770.04 L112.60,770.25 L112.43,770.46 L111.94,770.68 L111.10,770.89 L109.92,771.10 L108.35,771.32 L106.34,771.53 L103.66,771.75 L98.30,771.96 L92.94,772.17 L90.26,772.39 L88.25,772.60 L86.68,772.81 L85.50,773.03 L84.66,773.24 L84.17,773.45 L84.00,773.67 L84.17,773.88 L84.66,774.10 L85.50,774.31 L86.68,774.52 L88.25,774.74 L90.26,774.95 L92.94,775.16 L98.30,775.38 L103.66,775.59 L106.34,775.80 L108.35,776.02 L109.92,776.23 L111.10,776.45 L111.94,776.66 L112.43,776.87 L112.60,777.09 L112.43,777.30 L111.94,777.51 L111.10,777.73 L109.92,777.94 L108.35,778.16 L106.34,778.37 L103.66,778.58 L98.30,778.80 L92.94,779.01 L90.26,779.22 L88.25,779.44 L86.68,779.65 L85.50,779.86 L84.66,780.08 L84.17,780.29 L84.00,780.51 L84.17,780.72 L84.66,780.93 L85.50,781.15 L86.68,781.36 L88.25,781.57 L90.26,781.79 L92.94,782.00 L98.30,782.21 L103.66,782.43 L106.34,782.64 L108.35,782.86 L109.92,783.07 L111.10,783.28 L111.94,783.50 L112.43,783.71 L112.60,783.92 L112.43,784.14 L111.94,784.35 L111.10,784.56 L109.92,784.78 L108.35,784.99 L106.34,785.21 L103.66,785.42 L98.30,785.63 L92.94,785.85 L90.26,786.06 L88.25,786.27 L86.68,786.49 L85.50,786.70 L84.66,786.91 L84.17,787.13 L84.00,787.34 L84.17,787.56 L84.66,787.77 L85.50,787.98 L86.68,788.20 L88.25,788.41 L90.26,788.62 L92.94,788.84 L98.30,789.05 L103.66,789.26 L106.34,789.48 L108.35,789.69 L109.92,789.91 L111.10,790.12 L111.94,790.33 L112.43,790.55 L112.60,790.76 L112.43,790.97 L111.94,791.19 L111.10,791.40 L109.92,791.62 L108.35,791.83 L106.34,792.04 L103.66,792.26 L98.30,792.47 L92.94,792.68 L90.26,792.90 L88.25,793.11 L86.68,793.32 L85.50,793.54 L84.66,793.75 L84.17,793.97 L84.00,794.18 L84.17,794.39 L84.66,794.61 L85.50,794.82 L86.68,795.03 L88.25,795.25 L90.26,795.46 L92.94,795.67 L98.30,795.89 L103.66,796.10 L106.34,796.32 L108.35,796.53 L109.92,796.74 L111.10,796.96 L111.94,797.17 L112.43,797.38 L112.60,797.60 L112.43,797.81 L111.94,798.02 L111.10,798.24 L109.92,798.45 L108.35,798.67 L106.34,798.88 L103.66,799.09 L98.30,799.31 L92.94,799.52 L90.26,799.73 L88.25,799.95 L86.68,800.16 L85.50,800.37 L84.66,800.59 L84.17,800.80 L84.00,801.02 L84.17,801.23 L84.66,801.44 L85.50,801.66 L86.68,801.87 L88.25,802.08 L90.26,802.30 L92.94,802.51 L98.30,802.73 L103.66,802.94 L106.34,803.15 L108.35,803.37 L109.92,803.58 L111.10,803.79 L111.94,804.01 L112.43,804.22 L112.60,804.43 L112.43,804.65 L111.94,804.86 L111.10,805.08 L109.92,805.29 L108.35,805.50 L106.34,805.72 L103.66,805.93 L98.30,806.14 L92.94,806.36 L90.26,806.57 L88.25,806.78 L86.68,807.00 L85.50,807.21 L84.66,807.43 L84.17,807.64 L84.00,807.85 L84.17,808.07 L84.66,808.28 L85.50,808.49 L86.68,808.71 L88.25,808.92 L90.26,809.13 L92.94,809.35 L98.30,809.56 L103.66,809.78 L106.34,809.99 L108.35,810.20 L109.92,810.42 L111.10,810.63 L111.94,810.84 L112.43,811.06 L112.60,811.27 L112.43,811.48 L111.94,811.70 L111.10,811.91 L109.92,812.13 L108.35,812.34 L106.34,812.55 L103.66,812.77 L98.30,812.98 L92.94,813.19 L90.26,813.41 L88.25,813.62 L86.68,813.83 L85.50,814.05 L84.66,814.26 L84.17,814.48 L84.00,814.69 L84.17,814.90 L84.66,815.12 L85.50,815.33 L86.68,815.54 L88.25,815.76 L90.26,815.97 L92.94,816.19 L98.30,816.40 L103.66,816.61 L106.34,816.83 L108.35,817.04 L109.92,817.25 L111.10,817.47 L111.94,817.68 L112.43,817.89 L112.60,818.11 L112.43,818.32 L111.94,818.54 L111.10,818.75 L109.92,818.96 L108.35,819.18 L106.34,819.39 L103.66,819.60 L98.30,819.82 L92.94,820.03 L90.26,820.24 L88.25,820.46 L86.68,820.67 L85.50,820.89 L84.66,821.10 L84.17,821.31 L84.00,821.53 L84.17,821.74 L84.66,821.95 L85.50,822.17 L86.68,822.38 L88.25,822.59 L90.26,822.81 L92.94,823.02 L98.30,823.24 L103.66,823.45 L106.34,823.66 L108.35,823.88 L109.92,824.09 L111.10,824.30 L111.94,824.52 L112.43,824.73 L112.60,824.94 L112.43,825.16 L111.94,825.37 L111.10,825.59 L109.92,825.80 L108.35,826.01 L106.34,826.23 L103.66,826.44 L98.30,826.65 L92.94,826.87 L90.26,827.08 L88.25,827.29 L86.68,827.51 L85.50,827.72 L84.66,827.94 L84.17,828.15 L84.00,828.36 L84.17,828.58 L84.66,828.79 L85.50,829.00 L86.68,829.22 L88.25,829.43 L90.26,829.65 L92.94,829.86 L98.30,830.07 L103.66,830.29 L106.34,830.50 L108.35,830.71 L109.92,830.93 L111.10,831.14 L111.94,831.35 L112.43,831.57 L112.60,831.78 L112.43,832.00 L111.94,832.21 L111.10,832.42 L109.92,832.64 L108.35,832.85 L106.34,833.06 L103.66,833.28 L98.30,833.49 L92.94,833.70 L90.26,833.92 L88.25,834.13 L86.68,834.35 L85.50,834.56 L84.66,834.77 L84.17,834.99 L84.00,835.20 L98.30,835.60" fill="none" stroke="#000" stroke-width="1.7" stroke-linejoin="round"/>
<path d="M98.30,835.60 L279.6,835.60 Q283.6,835.6 283.6,831.6 L283.6,778.4 A7,10.2 0 0 1 283.6,758.0 L283.6,708.7 Q283.6,704.4 279.6,704.3 Q201.0,701.3 98.30,704.50" fill="none" stroke="#000" stroke-width="1.35" stroke-linejoin="round"/>
<path d="M205.20,747.70 C210.22,747.87 215.83,751.78 218.70,755.50 C221.57,759.22 222.22,764.80 222.40,770.00 C222.58,775.20 222.48,781.42 219.80,786.70 C217.12,791.98 210.80,800.32 206.30,801.70 C201.80,803.08 196.52,799.93 192.80,795.00 C189.08,790.07 184.70,778.85 184.00,772.10 C183.30,765.35 185.07,758.57 188.60,754.50 C192.13,750.43 200.18,747.53 205.20,747.70Z" fill="#c4c9e6" stroke="#000" stroke-width="1.5"/>
<ellipse cx="204.4" cy="774.7" rx="4.6" ry="4.1" fill="#8c97c4"/>
<path d="M225.10,733.90 C225.93,734.73 228.58,736.92 230.10,738.90 C231.62,740.88 233.10,743.48 234.20,745.80 C235.30,748.12 236.05,750.48 236.70,752.80 C237.35,755.12 237.77,757.28 238.10,759.70 C238.43,762.12 238.60,764.65 238.70,767.30 C238.80,769.95 238.87,772.97 238.70,775.60 C238.53,778.23 237.87,781.85 237.70,783.10" fill="none" stroke="#000" stroke-width="6.6" stroke-linecap="round"/>
<path d="M215.40,740.80 C216.23,741.52 218.77,743.33 220.40,745.10 C222.03,746.87 223.98,749.32 225.20,751.40 C226.42,753.48 227.10,755.42 227.70,757.60 C228.30,759.78 228.52,762.18 228.80,764.50 C229.08,766.82 229.40,768.83 229.40,771.50 C229.40,774.17 229.20,777.58 228.80,780.50 C228.40,783.42 227.85,786.50 227.00,789.00 C226.15,791.50 225.17,793.45 223.70,795.50 C222.23,797.55 220.12,799.63 218.20,801.30 C216.28,802.97 213.20,804.80 212.20,805.50" fill="none" stroke="#000" stroke-width="6.8" stroke-linecap="round"/>
<path d="M238.20,790.90 C237.45,791.83 235.32,794.68 233.70,796.50 C232.08,798.32 230.47,800.05 228.50,801.80 C226.53,803.55 224.10,805.25 221.90,807.00 C219.70,808.75 217.22,810.80 215.30,812.30 C213.38,813.80 211.22,815.38 210.40,816.00" fill="none" stroke="#000" stroke-width="5.4" stroke-linecap="round"/>
<path d="M228.80,768.10 L238.70,768.10" fill="none" stroke="#000" stroke-width="6.0" stroke-linecap="round"/>
<path d="M224.80,798.50 L227.80,802.30" fill="none" stroke="#000" stroke-width="5.4" stroke-linecap="round"/>
<path d="M225.10,733.90 C225.93,734.73 228.58,736.92 230.10,738.90 C231.62,740.88 233.10,743.48 234.20,745.80 C235.30,748.12 236.05,750.48 236.70,752.80 C237.35,755.12 237.77,757.28 238.10,759.70 C238.43,762.12 238.60,764.65 238.70,767.30 C238.80,769.95 238.87,772.97 238.70,775.60 C238.53,778.23 237.87,781.85 237.70,783.10" fill="none" stroke="#c4c9e6" stroke-width="3.9" stroke-linecap="round"/>
<path d="M215.40,740.80 C216.23,741.52 218.77,743.33 220.40,745.10 C222.03,746.87 223.98,749.32 225.20,751.40 C226.42,753.48 227.10,755.42 227.70,757.60 C228.30,759.78 228.52,762.18 228.80,764.50 C229.08,766.82 229.40,768.83 229.40,771.50 C229.40,774.17 229.20,777.58 228.80,780.50 C228.40,783.42 227.85,786.50 227.00,789.00 C226.15,791.50 225.17,793.45 223.70,795.50 C222.23,797.55 220.12,799.63 218.20,801.30 C216.28,802.97 213.20,804.80 212.20,805.50" fill="none" stroke="#c4c9e6" stroke-width="4.1" stroke-linecap="round"/>
<path d="M238.20,790.90 C237.45,791.83 235.32,794.68 233.70,796.50 C232.08,798.32 230.47,800.05 228.50,801.80 C226.53,803.55 224.10,805.25 221.90,807.00 C219.70,808.75 217.22,810.80 215.30,812.30 C213.38,813.80 211.22,815.38 210.40,816.00" fill="none" stroke="#c4c9e6" stroke-width="2.9" stroke-linecap="round"/>
<path d="M228.80,768.10 L238.70,768.10" fill="none" stroke="#c4c9e6" stroke-width="3.6" stroke-linecap="round"/>
<path d="M224.80,798.50 L227.80,802.30" fill="none" stroke="#c4c9e6" stroke-width="2.9" stroke-linecap="round"/>
<text x="19.9" y="582.6" font-size="8.4" textLength="34.7" lengthAdjust="spacingAndGlyphs">Glycerol</text>
<text x="14.7" y="600.8" font-size="4.6" fill="#222" stroke="#222" stroke-width="0.12" textLength="6.6" lengthAdjust="spacingAndGlyphs">HO</text>
<path d="M23.10,600.80 L28.60,604.60 L34.50,600.40 L40.70,604.60 L44.30,601.10 M34.50,600.40 L34.50,595.70" fill="none" stroke="#2a2a2a" stroke-width="0.8"/>
<text x="34.1" y="594.6" font-size="4.6" fill="#222" stroke="#222" stroke-width="0.12" textLength="6.6" lengthAdjust="spacingAndGlyphs">OH</text>
<text x="43.6" y="600.1" font-size="4.6" fill="#222" stroke="#222" stroke-width="0.12" textLength="6.5" lengthAdjust="spacingAndGlyphs">OH</text>
<text x="121.7" y="562.1" font-size="8.4" textLength="64.6" lengthAdjust="spacingAndGlyphs">AQP-7 p.Gly264</text>
<line x1="55.80" y1="601.10" x2="130.50" y2="601.10" stroke="#9a9a9a" stroke-width="1.2"/>
<path d="M130.0,598.7 L136.0,601.1 L130.0,603.5 Z" fill="#9a9a9a"/>
<ellipse cx="97.5" cy="599.6" rx="17" ry="9.5" fill="#f4f5fb"/>
<ellipse cx="97.1" cy="592.3" rx="18" ry="4.1" fill="#f4f5fb" stroke="#1fa0dc" stroke-width="1.4"/>
<ellipse cx="97.1" cy="606.9" rx="18" ry="4.1" fill="#f4f5fb" stroke="#1fa0dc" stroke-width="1.4"/>
<ellipse cx="114.3" cy="599.3" rx="5" ry="4.1" fill="#f4f5fb" stroke="#1fa0dc" stroke-width="1.4"/>
<ellipse cx="92.2" cy="599.8" rx="17.8" ry="5.2" fill="#f4f5fb" stroke="#1fa0dc" stroke-width="1.4"/>
<text x="143.6" y="601.6" font-size="4.6" fill="#222" stroke="#222" stroke-width="0.12" textLength="6.6" lengthAdjust="spacingAndGlyphs">HO</text>
<path d="M152.00,601.60 L157.50,605.40 L163.40,601.20 L169.60,605.40 L173.20,601.90 M163.40,601.20 L163.40,596.50" fill="none" stroke="#2a2a2a" stroke-width="0.8"/>
<text x="163.0" y="595.4" font-size="4.6" fill="#222" stroke="#222" stroke-width="0.12" textLength="6.6" lengthAdjust="spacingAndGlyphs">OH</text>
<text x="172.5" y="600.9" font-size="4.6" fill="#222" stroke="#222" stroke-width="0.12" textLength="6.5" lengthAdjust="spacingAndGlyphs">OH</text>
<text x="20.6" y="739.7" font-size="8.4" textLength="34.0" lengthAdjust="spacingAndGlyphs">Glycerol</text>
<text x="22.0" y="756.6" font-size="4.6" fill="#222" stroke="#222" stroke-width="0.12" textLength="6.6" lengthAdjust="spacingAndGlyphs">HO</text>
<path d="M30.40,756.60 L35.90,760.40 L41.80,756.20 L48.00,760.40 L51.60,756.90 M41.80,756.20 L41.80,751.50" fill="none" stroke="#2a2a2a" stroke-width="0.8"/>
<text x="41.4" y="750.4" font-size="4.6" fill="#222" stroke="#222" stroke-width="0.12" textLength="6.6" lengthAdjust="spacingAndGlyphs">OH</text>
<text x="50.9" y="755.9" font-size="4.6" fill="#222" stroke="#222" stroke-width="0.12" textLength="6.5" lengthAdjust="spacingAndGlyphs">OH</text>
<text x="0.0" y="772.2" font-size="4.6" fill="#222" stroke="#222" stroke-width="0.12" textLength="6.6" lengthAdjust="spacingAndGlyphs">HO</text>
<path d="M8.40,772.20 L13.90,776.00 L19.80,771.80 L26.00,776.00 L29.60,772.50 M19.80,771.80 L19.80,767.10" fill="none" stroke="#2a2a2a" stroke-width="0.8"/>
<text x="19.4" y="766.0" font-size="4.6" fill="#222" stroke="#222" stroke-width="0.12" textLength="6.6" lengthAdjust="spacingAndGlyphs">OH</text>
<text x="28.9" y="771.5" font-size="4.6" fill="#222" stroke="#222" stroke-width="0.12" textLength="6.5" lengthAdjust="spacingAndGlyphs">OH</text>
<text x="27.1" y="786.0" font-size="4.6" fill="#222" stroke="#222" stroke-width="0.12" textLength="6.6" lengthAdjust="spacingAndGlyphs">HO</text>
<path d="M35.50,786.00 L41.00,789.80 L46.90,785.60 L53.10,789.80 L56.70,786.30 M46.90,785.60 L46.90,780.90" fill="none" stroke="#2a2a2a" stroke-width="0.8"/>
<text x="46.5" y="779.8" font-size="4.6" fill="#222" stroke="#222" stroke-width="0.12" textLength="6.6" lengthAdjust="spacingAndGlyphs">OH</text>
<text x="56.0" y="785.3" font-size="4.6" fill="#222" stroke="#222" stroke-width="0.12" textLength="6.5" lengthAdjust="spacingAndGlyphs">OH</text>
<line x1="28.30" y1="793.00" x2="28.30" y2="814.50" stroke="#9a9a9a" stroke-width="1.1"/>
<path d="M25.9,813.5 L28.3,819.2 L30.7,813.5 Z" fill="#9a9a9a"/>
<text x="121.7" y="718.0" font-size="8.4" textLength="63.8" lengthAdjust="spacingAndGlyphs">AQP-7 p.Val264</text>
<ellipse cx="95" cy="758" rx="17" ry="9.5" fill="#f2f2f6"/>
<ellipse cx="94.5" cy="751.2" rx="18.1" ry="3.6" fill="#f2f2f6" stroke="#8c8c8c" stroke-width="1.25"/>
<ellipse cx="94.5" cy="764.8" rx="18.1" ry="4.3" fill="#f2f2f6" stroke="#8c8c8c" stroke-width="1.25"/>
<ellipse cx="111.4" cy="757.9" rx="5.4" ry="3.6" fill="#f2f2f6" stroke="#8c8c8c" stroke-width="1.25"/>
<ellipse cx="89.4" cy="758.9" rx="18.2" ry="5.6" fill="#f2f2f6" stroke="#8c8c8c" stroke-width="1.25"/>
<line x1="81.00" y1="750.20" x2="106.50" y2="766.10" stroke="#f29a1f" stroke-width="1.3"/>
<line x1="81.00" y1="766.80" x2="106.50" y2="749.70" stroke="#f29a1f" stroke-width="1.3"/>
<text x="314.6" y="631.8" font-size="13" font-weight="bold" fill="#000" stroke="#000" stroke-width="0.3">g</text>
<line x1="377.40" y1="628.00" x2="377.40" y2="820.50" stroke="#999" stroke-width="0.8"/>
<line x1="377.40" y1="820.50" x2="563.70" y2="820.50" stroke="#999" stroke-width="0.8"/>
<line x1="372.80" y1="686.60" x2="377.40" y2="686.60" stroke="#999" stroke-width="0.8"/>
<text x="370.8" y="689.5" font-size="7.9" text-anchor="end">5</text>
<line x1="372.80" y1="749.00" x2="377.40" y2="749.00" stroke="#999" stroke-width="0.8"/>
<text x="370.8" y="751.9" font-size="7.9" text-anchor="end">0</text>
<line x1="372.80" y1="811.40" x2="377.40" y2="811.40" stroke="#999" stroke-width="0.8"/>
<text x="370.8" y="814.3" font-size="7.9" text-anchor="end">−5</text>
<line x1="412.60" y1="820.50" x2="412.60" y2="824.50" stroke="#999" stroke-width="0.8"/>
<text x="412.6" y="832.6" font-size="7.9" text-anchor="middle">CC</text>
<line x1="470.30" y1="820.50" x2="470.30" y2="824.50" stroke="#999" stroke-width="0.8"/>
<text x="470.3" y="832.6" font-size="7.9" text-anchor="middle">CA</text>
<line x1="528.50" y1="820.50" x2="528.50" y2="824.50" stroke="#999" stroke-width="0.8"/>
<text x="528.5" y="832.6" font-size="7.9" text-anchor="middle">AA</text>
<text x="375.9" y="845.6" font-size="8.6" textLength="189.4" lengthAdjust="spacingAndGlyphs">Genotypes at rs62542743 (AQP-7 p.Gly264Val)</text>
<text x="0" y="0" font-size="8.6" text-anchor="middle" fill="#231f20" transform="translate(356.8,723.9) rotate(-90)">log<tspan font-size="5.8" dy="2">2</tspan><tspan dy="-2"> (glycerol level)</tspan></text>
<path d="M403.10,703.80 C403.09,705.17 403.08,709.30 403.05,712.00 C403.02,714.70 403.06,717.67 402.90,720.00 C402.74,722.33 402.77,723.38 402.10,726.00 C401.43,728.62 399.85,733.03 398.90,735.70 C397.95,738.37 397.03,740.03 396.40,742.00 C395.77,743.97 395.23,745.83 395.10,747.50 C394.97,749.17 395.10,750.05 395.60,752.00 C396.10,753.95 397.13,756.62 398.10,759.20 C399.07,761.78 400.62,765.20 401.40,767.50 C402.18,769.80 402.52,771.25 402.80,773.00 C403.07,774.75 403.00,775.92 403.05,778.00 C403.10,780.08 403.09,784.25 403.10,785.50 L403.70,785.50 C403.71,784.25 403.70,780.08 403.75,778.00 C403.80,775.92 403.73,774.75 404.00,773.00 C404.27,771.25 404.62,769.80 405.40,767.50 C406.18,765.20 407.73,761.78 408.70,759.20 C409.67,756.62 410.70,753.95 411.20,752.00 C411.70,750.05 411.83,749.17 411.70,747.50 C411.57,745.83 411.03,743.97 410.40,742.00 C409.77,740.03 408.85,738.37 407.90,735.70 C406.95,733.03 405.37,728.62 404.70,726.00 C404.03,723.38 404.06,722.33 403.90,720.00 C403.74,717.67 403.78,714.70 403.75,712.00 C403.72,709.30 403.71,705.17 403.70,703.80 Z" fill="#dd0000" stroke="#3a3a3a" stroke-width="0.5" stroke-linejoin="round"/>
<line x1="395.60" y1="749.30" x2="411.20" y2="749.30" stroke="#111" stroke-width="1.0"/>
<path d="M420.40,637.50 C420.39,646.25 420.38,677.58 420.35,690.00 C420.32,702.42 420.34,706.47 420.20,712.00 C420.06,717.53 420.17,719.25 419.50,723.20 C418.83,727.15 417.20,732.40 416.20,735.70 C415.20,739.00 414.13,740.70 413.50,743.00 C412.87,745.30 412.47,747.67 412.40,749.50 C412.33,751.33 412.63,752.25 413.10,754.00 C413.57,755.75 414.35,757.33 415.20,760.00 C416.05,762.67 417.40,766.90 418.20,770.00 C419.00,773.10 419.64,775.27 420.00,778.60 C420.36,781.93 420.28,786.30 420.35,790.00 C420.42,793.70 420.39,799.00 420.40,800.80 L421.00,800.80 C421.01,799.00 420.98,793.70 421.05,790.00 C421.12,786.30 421.04,781.93 421.40,778.60 C421.76,775.27 422.40,773.10 423.20,770.00 C424.00,766.90 425.35,762.67 426.20,760.00 C427.05,757.33 427.83,755.75 428.30,754.00 C428.77,752.25 429.07,751.33 429.00,749.50 C428.93,747.67 428.53,745.30 427.90,743.00 C427.27,740.70 426.20,739.00 425.20,735.70 C424.20,732.40 422.57,727.15 421.90,723.20 C421.23,719.25 421.34,717.53 421.20,712.00 C421.06,706.47 421.08,702.42 421.05,690.00 C421.02,677.58 421.01,646.25 421.00,637.50 Z" fill="#0383da" stroke="#3a3a3a" stroke-width="0.5" stroke-linejoin="round"/>
<line x1="412.81" y1="750.20" x2="428.59" y2="750.20" stroke="#111" stroke-width="1.0"/>
<path d="M461.50,717.30 C461.47,718.42 461.48,721.97 461.30,724.00 C461.12,726.03 460.98,726.97 460.40,729.50 C459.82,732.03 458.70,736.62 457.80,739.20 C456.90,741.78 455.68,743.25 455.00,745.00 C454.32,746.75 453.77,748.20 453.70,749.70 C453.63,751.20 454.08,752.52 454.60,754.00 C455.12,755.48 455.85,756.48 456.80,758.60 C457.75,760.72 459.55,764.55 460.30,766.70 C461.05,768.85 461.10,769.88 461.30,771.50 C461.50,773.12 461.47,775.58 461.50,776.40 L462.10,776.40 C462.13,775.58 462.10,773.12 462.30,771.50 C462.50,769.88 462.55,768.85 463.30,766.70 C464.05,764.55 465.85,760.72 466.80,758.60 C467.75,756.48 468.48,755.48 469.00,754.00 C469.52,752.52 469.97,751.20 469.90,749.70 C469.83,748.20 469.28,746.75 468.60,745.00 C467.92,743.25 466.70,741.78 465.80,739.20 C464.90,736.62 463.78,732.03 463.20,729.50 C462.62,726.97 462.48,726.03 462.30,724.00 C462.12,721.97 462.13,718.42 462.10,717.30 Z" fill="#dd0000" stroke="#3a3a3a" stroke-width="0.5" stroke-linejoin="round"/>
<line x1="454.00" y1="749.70" x2="469.60" y2="749.70" stroke="#111" stroke-width="1.0"/>
<path d="M478.90,661.50 C478.89,667.92 478.90,691.58 478.85,700.00 C478.80,708.42 478.79,708.98 478.60,712.00 C478.41,715.02 478.20,714.65 477.70,718.10 C477.20,721.55 476.48,729.05 475.60,732.70 C474.72,736.35 473.22,737.98 472.40,740.00 C471.58,742.02 470.65,742.78 470.70,744.80 C470.75,746.82 471.78,749.53 472.70,752.10 C473.62,754.67 475.23,757.50 476.20,760.20 C477.17,762.90 478.06,765.67 478.50,768.30 C478.94,770.93 478.78,773.03 478.85,776.00 C478.92,778.97 478.89,784.42 478.90,786.10 L479.50,786.10 C479.51,784.42 479.48,778.97 479.55,776.00 C479.62,773.03 479.46,770.93 479.90,768.30 C480.34,765.67 481.23,762.90 482.20,760.20 C483.17,757.50 484.78,754.67 485.70,752.10 C486.62,749.53 487.65,746.82 487.70,744.80 C487.75,742.78 486.82,742.02 486.00,740.00 C485.18,737.98 483.68,736.35 482.80,732.70 C481.92,729.05 481.20,721.55 480.70,718.10 C480.20,714.65 479.99,715.02 479.80,712.00 C479.61,708.98 479.60,708.42 479.55,700.00 C479.50,691.58 479.51,667.92 479.50,661.50 Z" fill="#0383da" stroke="#3a3a3a" stroke-width="0.5" stroke-linejoin="round"/>
<line x1="471.00" y1="744.80" x2="487.40" y2="744.80" stroke="#111" stroke-width="1.0"/>
<path d="M514.70,733.60 C514.57,733.73 513.97,733.28 513.90,734.40 C513.83,735.52 514.20,738.88 514.30,740.30 C514.40,741.72 514.77,741.68 514.50,742.90 C514.23,744.12 512.88,746.05 512.70,747.60 C512.52,749.15 513.03,750.80 513.40,752.20 C513.77,753.60 514.48,755.22 514.90,756.00 C515.32,756.78 515.73,756.75 515.90,756.90 L523.90,756.90 C524.07,756.75 524.48,756.78 524.90,756.00 C525.32,755.22 526.03,753.60 526.40,752.20 C526.77,750.80 527.28,749.15 527.10,747.60 C526.92,746.05 525.57,744.12 525.30,742.90 C525.03,741.68 525.40,741.72 525.50,740.30 C525.60,738.88 525.97,735.52 525.90,734.40 C525.83,733.28 525.23,733.73 525.10,733.60 Z" fill="#dd0000" stroke="#3a3a3a" stroke-width="0.5" stroke-linejoin="round"/>
<line x1="513.88" y1="745.30" x2="525.92" y2="745.30" stroke="#111" stroke-width="1.0"/>
<path d="M534.30,659.00 C534.33,659.72 534.97,661.92 534.50,663.30 C534.03,664.68 532.43,665.65 531.50,667.30 C530.57,668.95 528.82,671.33 528.90,673.20 C528.98,675.07 530.82,676.83 532.00,678.50 C533.18,680.17 535.22,682.08 536.00,683.20 C536.78,684.32 536.78,684.20 536.70,685.20 C536.62,686.20 535.92,687.77 535.50,689.20 C535.08,690.63 534.07,692.15 534.20,693.80 C534.33,695.45 535.81,697.77 536.30,699.10 C536.79,700.43 537.00,699.15 537.15,701.80 C537.30,704.45 537.20,710.37 537.20,715.00 C537.20,719.63 537.27,726.60 537.15,729.60 C537.03,732.60 536.74,731.83 536.50,733.00 C536.26,734.17 535.83,735.93 535.70,736.60 C535.57,737.27 535.70,736.93 535.70,737.00 L539.30,737.00 C539.30,736.93 539.43,737.27 539.30,736.60 C539.17,735.93 538.74,734.17 538.50,733.00 C538.26,731.83 537.97,732.60 537.85,729.60 C537.73,726.60 537.80,719.63 537.80,715.00 C537.80,710.37 537.70,704.45 537.85,701.80 C538.00,699.15 538.21,700.43 538.70,699.10 C539.19,697.77 540.67,695.45 540.80,693.80 C540.93,692.15 539.92,690.63 539.50,689.20 C539.08,687.77 538.38,686.20 538.30,685.20 C538.22,684.20 538.22,684.32 539.00,683.20 C539.78,682.08 541.82,680.17 543.00,678.50 C544.18,676.83 546.02,675.07 546.10,673.20 C546.18,671.33 544.43,668.95 543.50,667.30 C542.57,665.65 540.97,664.68 540.50,663.30 C540.03,661.92 540.67,659.72 540.70,659.00 Z" fill="#0383da" stroke="#3a3a3a" stroke-width="0.5" stroke-linejoin="round"/>
<line x1="530.02" y1="674.60" x2="544.98" y2="674.60" stroke="#111" stroke-width="1.0"/>
<text x="577.0" y="711.9" font-size="8.4" textLength="27.5" lengthAdjust="spacingAndGlyphs">Matrix</text>
<rect x="577.5" y="717.6" width="12.1" height="11.9" fill="#dd0000" stroke="#444" stroke-width="0.4"/>
<rect x="577.5" y="731.1" width="12.1" height="12.1" fill="#0383da" stroke="#444" stroke-width="0.4"/>
<text x="594.5" y="726.4" font-size="8.4" textLength="27.8" lengthAdjust="spacingAndGlyphs">Plasma</text>
<text x="594.5" y="739.5" font-size="8.4" textLength="22.0" lengthAdjust="spacingAndGlyphs">Urine</text>
<text x="505.1" y="786.3" font-size="8.4" fill="#231f20"><tspan font-style="italic">P</tspan></text>
<text x="510.2" y="788.3" font-size="5.6" fill="#231f20" textLength="42.5" lengthAdjust="spacingAndGlyphs">recessive urine</text>
<text x="554.8" y="786.3" font-size="8.4" fill="#231f20" textLength="38.2" lengthAdjust="spacingAndGlyphs">= 4.4 × 10</text>
<text x="593.2" y="782.2" font-size="6.1" fill="#231f20" textLength="12.7" lengthAdjust="spacingAndGlyphs">−103</text>
<text x="505.1" y="798.6" font-size="8.4" fill="#231f20"><tspan font-style="italic">P</tspan></text>
<text x="510.2" y="801.5" font-size="5.6" fill="#231f20" textLength="48" lengthAdjust="spacingAndGlyphs">recessive plasma</text>
<text x="561.3" y="798.6" font-size="8.4" fill="#231f20" textLength="24.5" lengthAdjust="spacingAndGlyphs">= 0.07</text>
</svg>
</body></html>
